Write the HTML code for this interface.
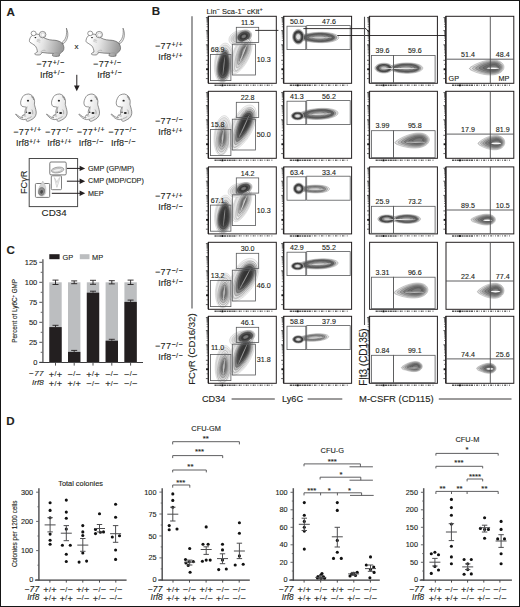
<!DOCTYPE html><html><head><meta charset="utf-8"><style>html,body{margin:0;padding:0;background:#fff;width:520px;height:607px;overflow:hidden}svg{display:block;font-family:"Liberation Sans",sans-serif}text{stroke:#231f20;stroke-width:0.12px;paint-order:stroke}</style></head><body><svg width="520" height="607" viewBox="0 0 520 607" fill="#231f20"><path d="M221.71,82.89 L220.14,82.42 L218.67,81.36 L217.36,79.74 L216.25,77.61 L215.37,75.04 L214.74,72.1 L214.39,68.89 L214.33,65.5 L214.55,62.03 L215.05,58.59 L215.82,55.28 L216.84,52.21 L218.06,49.47 L219.46,47.14 L220.99,45.29 L222.6,43.98 L224.25,43.24 L225.89,43.11 L227.46,43.58 L228.93,44.64 L230.24,46.26 L231.35,48.39 L232.23,50.96 L232.86,53.9 L233.21,57.11 L233.27,60.5 L233.05,63.97 L232.55,67.41 L231.78,70.72 L230.76,73.79 L229.54,76.53 L228.14,78.86 L226.61,80.71 L225,82.02 L223.35,82.76Z" fill="#f3f3f3" stroke="#333" stroke-width="0.4" stroke-opacity="0.3"/>
<path d="M221.92,80.9 L220.5,80.48 L219.18,79.52 L218.01,78.07 L217.01,76.15 L216.21,73.84 L215.65,71.19 L215.33,68.3 L215.28,65.25 L215.48,62.13 L215.93,59.03 L216.62,56.06 L217.53,53.29 L218.63,50.82 L219.89,48.72 L221.27,47.06 L222.72,45.88 L224.21,45.22 L225.68,45.1 L227.1,45.52 L228.42,46.48 L229.59,47.93 L230.59,49.85 L231.39,52.16 L231.95,54.81 L232.27,57.7 L232.32,60.75 L232.12,63.87 L231.67,66.97 L230.98,69.94 L230.07,72.71 L228.97,75.18 L227.71,77.28 L226.33,78.94 L224.88,80.12 L223.39,80.78Z" fill="#e2e2e2" stroke="#333" stroke-width="0.4" stroke-opacity="0.3"/>
<path d="M248.49,36.46 L249.89,37.35 L251,38.77 L251.79,40.68 L252.21,43.01 L252.26,45.68 L251.93,48.63 L251.22,51.75 L250.17,54.96 L248.82,58.16 L247.21,61.26 L245.42,64.16 L243.52,66.8 L241.56,69.09 L239.64,70.98 L237.82,72.39 L236.15,73.31 L234.7,73.7 L233.51,73.54 L232.54,72.82 L231.77,71.54 L231.21,69.72 L230.88,67.44 L230.8,64.75 L230.99,61.74 L231.45,58.52 L232.18,55.18 L233.18,51.84 L234.43,48.6 L235.9,45.56 L237.57,42.83 L239.37,40.48 L241.26,38.58 L243.19,37.2 L245.08,36.38 L246.87,36.13Z" fill="#f3f3f3" stroke="#333" stroke-width="0.4" stroke-opacity="0.3"/>
<path d="M247.74,38.31 L249,39.11 L250,40.39 L250.71,42.11 L251.09,44.21 L251.14,46.62 L250.83,49.27 L250.2,52.08 L249.25,54.96 L248.04,57.84 L246.59,60.63 L244.98,63.25 L243.26,65.62 L241.51,67.68 L239.78,69.38 L238.13,70.66 L236.64,71.48 L235.33,71.83 L234.26,71.69 L233.39,71.04 L232.69,69.89 L232.19,68.25 L231.89,66.19 L231.82,63.77 L231.99,61.07 L232.41,58.17 L233.07,55.17 L233.96,52.16 L235.09,49.24 L236.41,46.51 L237.91,44.04 L239.53,41.93 L241.24,40.22 L242.97,38.98 L244.67,38.24 L246.28,38.02Z" fill="#e2e2e2" stroke="#333" stroke-width="0.4" stroke-opacity="0.3"/>
<path d="M248.38,34.41 L248.65,35.61 L248.63,36.87 L248.3,38.17 L247.68,39.46 L246.8,40.7 L245.67,41.85 L244.33,42.89 L242.82,43.77 L241.19,44.48 L239.49,44.98 L237.77,45.27 L236.08,45.34 L234.47,45.18 L233,44.8 L231.7,44.21 L230.61,43.43 L229.78,42.48 L229.22,41.39 L228.95,40.19 L228.97,38.93 L229.3,37.63 L229.92,36.34 L230.8,35.1 L231.93,33.95 L233.27,32.91 L234.78,32.03 L236.41,31.32 L238.11,30.82 L239.83,30.53 L241.52,30.46 L243.13,30.62 L244.6,31 L245.9,31.59 L246.99,32.37 L247.82,33.32Z" fill="#f0f0f0" stroke="#333" stroke-width="0.4" stroke-opacity="0.35"/>
<path d="M246.47,35.11 L246.68,36.07 L246.66,37.08 L246.4,38.11 L245.91,39.14 L245.2,40.14 L244.29,41.06 L243.22,41.89 L242.02,42.6 L240.72,43.16 L239.35,43.57 L237.98,43.8 L236.62,43.85 L235.34,43.73 L234.16,43.42 L233.12,42.95 L232.25,42.32 L231.58,41.56 L231.13,40.69 L230.92,39.73 L230.94,38.72 L231.2,37.69 L231.69,36.66 L232.4,35.66 L233.31,34.74 L234.38,33.91 L235.58,33.2 L236.88,32.64 L238.25,32.23 L239.62,32 L240.98,31.95 L242.26,32.07 L243.44,32.38 L244.48,32.85 L245.35,33.48 L246.02,34.24Z" fill="#dcdcdc" stroke="#333" stroke-width="0.4" stroke-opacity="0.35"/>
<path d="M244.55,35.81 L244.71,36.52 L244.7,37.28 L244.5,38.06 L244.13,38.83 L243.6,39.58 L242.92,40.27 L242.12,40.89 L241.21,41.42 L240.24,41.85 L239.22,42.15 L238.18,42.32 L237.17,42.36 L236.2,42.27 L235.32,42.04 L234.54,41.69 L233.89,41.22 L233.39,40.65 L233.05,39.99 L232.89,39.28 L232.9,38.52 L233.1,37.74 L233.47,36.97 L234,36.22 L234.68,35.53 L235.48,34.91 L236.39,34.38 L237.36,33.95 L238.38,33.65 L239.42,33.48 L240.43,33.44 L241.4,33.53 L242.28,33.76 L243.06,34.11 L243.71,34.58 L244.21,35.15Z" fill="#cfcfcf" stroke="#333" stroke-width="0.4" stroke-opacity="0.35"/>
<path d="M251.23,32.93 L251.56,33.93 L251.65,35 L251.5,36.12 L251.12,37.24 L250.52,38.34 L249.71,39.38 L248.72,40.32 L247.59,41.15 L246.34,41.84 L245.01,42.36 L243.64,42.7 L242.28,42.84 L240.97,42.79 L239.74,42.55 L238.63,42.12 L237.68,41.52 L236.92,40.76 L236.37,39.87 L236.04,38.87 L235.95,37.8 L236.1,36.68 L236.48,35.56 L237.08,34.46 L237.89,33.42 L238.88,32.48 L240.01,31.65 L241.26,30.96 L242.59,30.44 L243.96,30.1 L245.32,29.96 L246.63,30.01 L247.86,30.25 L248.97,30.68 L249.92,31.28 L250.68,32.04Z" fill="#e4e4e4" stroke="#333" stroke-width="0.4" stroke-opacity="0.6"/>
<path d="M250.49,33.28 L250.78,34.18 L250.87,35.14 L250.73,36.15 L250.39,37.16 L249.85,38.14 L249.12,39.08 L248.23,39.93 L247.21,40.68 L246.08,41.29 L244.89,41.76 L243.66,42.07 L242.43,42.2 L241.25,42.15 L240.14,41.94 L239.15,41.55 L238.3,41 L237.61,40.32 L237.11,39.52 L236.82,38.62 L236.73,37.66 L236.87,36.65 L237.21,35.64 L237.75,34.66 L238.48,33.72 L239.37,32.87 L240.39,32.12 L241.52,31.51 L242.71,31.04 L243.94,30.73 L245.17,30.6 L246.35,30.65 L247.46,30.86 L248.45,31.25 L249.3,31.8 L249.99,32.48Z" fill="#b5b5b5" stroke="#333" stroke-width="0.4" stroke-opacity="0.6"/>
<path d="M249.6,33.7 L249.85,34.47 L249.92,35.31 L249.81,36.18 L249.51,37.06 L249.04,37.91 L248.41,38.72 L247.64,39.46 L246.75,40.11 L245.78,40.64 L244.74,41.05 L243.68,41.31 L242.61,41.42 L241.59,41.39 L240.63,41.2 L239.77,40.86 L239.03,40.39 L238.43,39.8 L238,39.1 L237.75,38.33 L237.68,37.49 L237.79,36.62 L238.09,35.74 L238.56,34.89 L239.19,34.08 L239.96,33.34 L240.85,32.69 L241.82,32.16 L242.86,31.75 L243.92,31.49 L244.99,31.38 L246.01,31.41 L246.97,31.6 L247.83,31.94 L248.57,32.41 L249.17,33Z" fill="#7a7a7a" stroke="#333" stroke-width="0.4" stroke-opacity="0.6"/>
<path d="M248.56,34.18 L248.77,34.82 L248.82,35.51 L248.73,36.22 L248.49,36.94 L248.1,37.64 L247.58,38.31 L246.95,38.91 L246.22,39.44 L245.42,39.88 L244.57,40.21 L243.7,40.43 L242.83,40.52 L241.99,40.49 L241.2,40.34 L240.49,40.06 L239.89,39.67 L239.4,39.19 L239.04,38.62 L238.83,37.98 L238.78,37.29 L238.87,36.58 L239.11,35.86 L239.5,35.16 L240.02,34.49 L240.65,33.89 L241.38,33.36 L242.18,32.92 L243.03,32.59 L243.9,32.37 L244.77,32.28 L245.61,32.31 L246.4,32.46 L247.11,32.74 L247.71,33.13 L248.2,33.61Z" fill="#4f4f4f" stroke="#333" stroke-width="0.4" stroke-opacity="0.6"/>
<path d="M247.37,34.74 L247.52,35.22 L247.57,35.73 L247.5,36.26 L247.32,36.8 L247.03,37.33 L246.64,37.83 L246.16,38.28 L245.62,38.68 L245.02,39.01 L244.38,39.26 L243.72,39.42 L243.07,39.49 L242.44,39.47 L241.85,39.35 L241.32,39.15 L240.86,38.86 L240.5,38.49 L240.23,38.06 L240.08,37.58 L240.03,37.07 L240.1,36.54 L240.28,36 L240.57,35.47 L240.96,34.97 L241.44,34.52 L241.98,34.12 L242.58,33.79 L243.22,33.54 L243.88,33.38 L244.53,33.31 L245.16,33.33 L245.75,33.45 L246.28,33.65 L246.74,33.94 L247.1,34.31Z" fill="#3b3b3b" stroke="#333" stroke-width="0.4" stroke-opacity="0.6"/>
<path d="M246.03,35.36 L246.13,35.66 L246.16,35.98 L246.11,36.32 L246,36.65 L245.82,36.98 L245.57,37.29 L245.28,37.58 L244.94,37.83 L244.56,38.03 L244.16,38.19 L243.75,38.29 L243.34,38.33 L242.95,38.32 L242.58,38.25 L242.25,38.12 L241.97,37.93 L241.74,37.71 L241.57,37.44 L241.47,37.14 L241.44,36.82 L241.49,36.48 L241.6,36.15 L241.78,35.82 L242.03,35.51 L242.32,35.22 L242.66,34.97 L243.04,34.77 L243.44,34.61 L243.85,34.51 L244.26,34.47 L244.65,34.48 L245.02,34.55 L245.35,34.68 L245.63,34.87 L245.86,35.09Z" fill="#333" stroke="#333" stroke-width="0.4" stroke-opacity="0.6"/>
<path d="M248.37,39.24 L249.31,39.9 L250.02,41.01 L250.45,42.54 L250.59,44.43 L250.43,46.62 L249.97,49.05 L249.21,51.64 L248.2,54.32 L246.98,57.01 L245.58,59.63 L244.09,62.11 L242.54,64.39 L241.02,66.39 L239.58,68.07 L238.28,69.38 L237.17,70.28 L236.28,70.74 L235.63,70.76 L235.18,70.3 L234.86,69.35 L234.69,67.93 L234.66,66.08 L234.79,63.87 L235.09,61.38 L235.56,58.67 L236.2,55.84 L237.02,52.99 L238.01,50.2 L239.14,47.57 L240.4,45.19 L241.76,43.12 L243.16,41.42 L244.58,40.16 L245.95,39.37 L247.23,39.06Z" fill="#eeeeee" stroke="#333" stroke-width="0.4" stroke-opacity="0.6"/>
<path d="M247.74,40.78 L248.55,41.35 L249.16,42.31 L249.54,43.62 L249.66,45.24 L249.52,47.13 L249.12,49.22 L248.47,51.45 L247.6,53.76 L246.55,56.07 L245.35,58.32 L244.06,60.46 L242.73,62.41 L241.42,64.13 L240.19,65.58 L239.07,66.7 L238.11,67.48 L237.35,67.88 L236.79,67.89 L236.4,67.5 L236.13,66.68 L235.98,65.45 L235.96,63.87 L236.07,61.97 L236.32,59.82 L236.73,57.49 L237.28,55.06 L237.99,52.61 L238.84,50.21 L239.81,47.95 L240.89,45.9 L242.06,44.12 L243.27,42.66 L244.48,41.58 L245.67,40.89 L246.77,40.63Z" fill="#d4d4d4" stroke="#333" stroke-width="0.4" stroke-opacity="0.6"/>
<path d="M247.03,42.55 L247.69,43.01 L248.18,43.79 L248.49,44.86 L248.59,46.18 L248.47,47.72 L248.15,49.42 L247.62,51.23 L246.92,53.11 L246.06,54.99 L245.08,56.82 L244.03,58.56 L242.95,60.15 L241.89,61.55 L240.88,62.73 L239.97,63.64 L239.19,64.27 L238.57,64.6 L238.12,64.61 L237.8,64.29 L237.58,63.62 L237.46,62.63 L237.44,61.34 L237.53,59.79 L237.74,58.04 L238.06,56.15 L238.52,54.17 L239.09,52.17 L239.78,50.22 L240.57,48.38 L241.46,46.71 L242.4,45.26 L243.39,44.08 L244.38,43.2 L245.34,42.64 L246.24,42.42Z" fill="#b0b0b0" stroke="#333" stroke-width="0.4" stroke-opacity="0.6"/>
<path d="M246.32,44.31 L246.83,44.67 L247.21,45.27 L247.44,46.09 L247.52,47.12 L247.43,48.3 L247.18,49.61 L246.77,51.01 L246.23,52.46 L245.57,53.91 L244.81,55.33 L244,56.67 L243.17,57.89 L242.35,58.98 L241.57,59.88 L240.87,60.59 L240.27,61.07 L239.79,61.33 L239.44,61.34 L239.2,61.09 L239.03,60.57 L238.93,59.8 L238.92,58.81 L238.99,57.62 L239.15,56.27 L239.4,54.81 L239.75,53.28 L240.19,51.74 L240.72,50.23 L241.34,48.82 L242.02,47.53 L242.75,46.41 L243.51,45.49 L244.27,44.81 L245.01,44.38 L245.7,44.22Z" fill="#8e8e8e" stroke="#333" stroke-width="0.4" stroke-opacity="0.6"/>
<path d="M245.6,46.08 L245.96,46.33 L246.23,46.75 L246.4,47.33 L246.45,48.05 L246.39,48.88 L246.21,49.81 L245.93,50.79 L245.54,51.81 L245.08,52.83 L244.55,53.83 L243.98,54.77 L243.39,55.64 L242.81,56.4 L242.27,57.03 L241.77,57.53 L241.35,57.87 L241.01,58.05 L240.76,58.06 L240.59,57.88 L240.47,57.52 L240.41,56.98 L240.4,56.28 L240.45,55.44 L240.56,54.49 L240.74,53.46 L240.98,52.39 L241.29,51.3 L241.67,50.25 L242.1,49.25 L242.58,48.34 L243.09,47.55 L243.63,46.91 L244.16,46.43 L244.69,46.13 L245.17,46.01Z" fill="#777" stroke="#333" stroke-width="0.4" stroke-opacity="0.6"/>
<path d="M244.89,47.84 L245.1,47.99 L245.25,48.23 L245.35,48.57 L245.38,48.99 L245.35,49.47 L245.24,50 L245.08,50.57 L244.85,51.16 L244.58,51.75 L244.28,52.33 L243.95,52.88 L243.61,53.38 L243.27,53.82 L242.96,54.19 L242.67,54.47 L242.43,54.67 L242.23,54.78 L242.09,54.78 L241.99,54.68 L241.92,54.47 L241.88,54.16 L241.88,53.75 L241.9,53.26 L241.97,52.71 L242.07,52.12 L242.22,51.5 L242.4,50.87 L242.61,50.26 L242.86,49.68 L243.14,49.15 L243.44,48.7 L243.75,48.33 L244.06,48.05 L244.36,47.87 L244.64,47.8Z" fill="#999" stroke="#333" stroke-width="0.4" stroke-opacity="0.6"/>
<ellipse cx="243" cy="54" rx="10.2" ry="0.5" transform="rotate(-68 243 54)" fill="#d0d0d0"/>
<path d="M249.37,33.8 L249.6,34.5 L249.64,35.26 L249.51,36.05 L249.21,36.86 L248.74,37.65 L248.12,38.4 L247.37,39.09 L246.52,39.7 L245.57,40.21 L244.58,40.6 L243.56,40.87 L242.55,41 L241.58,40.99 L240.67,40.84 L239.86,40.55 L239.17,40.14 L238.62,39.62 L238.23,39 L238,38.3 L237.96,37.54 L238.09,36.75 L238.39,35.94 L238.86,35.15 L239.48,34.4 L240.23,33.71 L241.08,33.1 L242.03,32.59 L243.02,32.2 L244.04,31.93 L245.05,31.8 L246.02,31.81 L246.93,31.96 L247.74,32.25 L248.43,32.66 L248.98,33.18Z" fill="#555" stroke="#333" stroke-width="0.4" stroke-opacity="0.6"/>
<path d="M247.7,34.58 L247.86,35.07 L247.89,35.6 L247.8,36.16 L247.59,36.72 L247.26,37.27 L246.83,37.8 L246.3,38.28 L245.7,38.71 L245.04,39.06 L244.35,39.34 L243.63,39.53 L242.93,39.62 L242.24,39.61 L241.61,39.51 L241.04,39.31 L240.56,39.02 L240.17,38.65 L239.9,38.22 L239.74,37.73 L239.71,37.2 L239.8,36.64 L240.01,36.08 L240.34,35.53 L240.77,35 L241.3,34.52 L241.9,34.09 L242.56,33.74 L243.25,33.46 L243.97,33.27 L244.67,33.18 L245.36,33.19 L245.99,33.29 L246.56,33.49 L247.04,33.78 L247.43,34.15Z" fill="#3a3a3a" stroke="#333" stroke-width="0.4" stroke-opacity="0.6"/>
<path d="M246.03,35.36 L246.12,35.64 L246.14,35.94 L246.09,36.26 L245.96,36.58 L245.78,36.9 L245.53,37.2 L245.23,37.48 L244.89,37.72 L244.51,37.92 L244.11,38.08 L243.7,38.19 L243.3,38.24 L242.91,38.23 L242.55,38.18 L242.22,38.06 L241.95,37.9 L241.73,37.69 L241.57,37.44 L241.48,37.16 L241.46,36.86 L241.51,36.54 L241.64,36.22 L241.82,35.9 L242.07,35.6 L242.37,35.32 L242.71,35.08 L243.09,34.88 L243.49,34.72 L243.9,34.61 L244.3,34.56 L244.69,34.57 L245.05,34.62 L245.38,34.74 L245.65,34.9 L245.87,35.11Z" fill="#777" stroke="#333" stroke-width="0.4" stroke-opacity="0.6"/>
<path d="M222.02,81.91 L220.73,81.51 L219.55,80.62 L218.52,79.25 L217.68,77.45 L217.07,75.28 L216.7,72.8 L216.59,70.09 L216.73,67.23 L217.11,64.3 L217.71,61.39 L218.49,58.6 L219.41,55.99 L220.44,53.66 L221.52,51.67 L222.61,50.07 L223.67,48.92 L224.67,48.26 L225.58,48.09 L226.43,48.44 L227.27,49.3 L228.07,50.65 L228.8,52.43 L229.45,54.61 L229.96,57.1 L230.33,59.84 L230.51,62.74 L230.49,65.7 L230.25,68.65 L229.79,71.48 L229.12,74.11 L228.25,76.45 L227.2,78.45 L226,80.03 L224.71,81.16 L223.37,81.79Z" fill="#d2d2d2" stroke="#333" stroke-width="0.4" stroke-opacity="0.6"/>
<path d="M222.2,80.22 L221.04,79.86 L219.98,79.05 L219.05,77.82 L218.29,76.21 L217.74,74.25 L217.41,72.02 L217.31,69.58 L217.44,67 L217.78,64.37 L218.32,61.75 L219.02,59.24 L219.85,56.89 L220.77,54.79 L221.75,53 L222.73,51.56 L223.68,50.53 L224.58,49.93 L225.4,49.78 L226.17,50.1 L226.92,50.87 L227.64,52.08 L228.3,53.69 L228.88,55.65 L229.35,57.89 L229.67,60.36 L229.84,62.96 L229.82,65.63 L229.61,68.28 L229.19,70.83 L228.59,73.2 L227.8,75.31 L226.86,77.11 L225.78,78.53 L224.62,79.54 L223.41,80.11Z" fill="#8a8a8a" stroke="#333" stroke-width="0.4" stroke-opacity="0.6"/>
<path d="M222.41,78.19 L221.41,77.88 L220.49,77.18 L219.68,76.11 L219.03,74.71 L218.55,73.02 L218.26,71.08 L218.18,68.97 L218.29,66.74 L218.58,64.45 L219.05,62.19 L219.66,60 L220.38,57.97 L221.18,56.15 L222.02,54.6 L222.87,53.36 L223.7,52.46 L224.48,51.94 L225.19,51.81 L225.85,52.09 L226.51,52.76 L227.13,53.8 L227.7,55.2 L228.2,56.89 L228.61,58.84 L228.89,60.97 L229.03,63.23 L229.02,65.55 L228.83,67.84 L228.47,70.05 L227.95,72.1 L227.27,73.93 L226.45,75.49 L225.52,76.73 L224.51,77.6 L223.46,78.09Z" fill="#555" stroke="#333" stroke-width="0.4" stroke-opacity="0.6"/>
<path d="M222.7,75.48 L221.9,75.24 L221.17,74.68 L220.53,73.83 L220.01,72.72 L219.63,71.37 L219.4,69.84 L219.33,68.15 L219.42,66.38 L219.65,64.56 L220.02,62.76 L220.51,61.03 L221.08,59.42 L221.72,57.97 L222.39,56.73 L223.06,55.74 L223.72,55.03 L224.34,54.62 L224.9,54.52 L225.43,54.73 L225.95,55.27 L226.45,56.1 L226.9,57.21 L227.3,58.56 L227.62,60.1 L227.85,61.8 L227.96,63.6 L227.95,65.44 L227.8,67.26 L227.52,69.02 L227.1,70.65 L226.56,72.1 L225.9,73.34 L225.17,74.32 L224.36,75.02 L223.53,75.41Z" fill="#404040" stroke="#333" stroke-width="0.4" stroke-opacity="0.6"/>
<path d="M223,72.61 L222.42,72.43 L221.89,72.03 L221.42,71.41 L221.05,70.6 L220.77,69.63 L220.61,68.51 L220.56,67.29 L220.62,66 L220.79,64.68 L221.06,63.38 L221.41,62.12 L221.83,60.95 L222.29,59.9 L222.77,59 L223.26,58.28 L223.74,57.77 L224.19,57.47 L224.6,57.39 L224.98,57.55 L225.36,57.94 L225.72,58.54 L226.05,59.34 L226.34,60.32 L226.57,61.45 L226.74,62.68 L226.82,63.98 L226.81,65.32 L226.7,66.64 L226.5,67.91 L226.19,69.1 L225.8,70.15 L225.33,71.05 L224.79,71.77 L224.21,72.27 L223.6,72.55Z" fill="#383838" stroke="#333" stroke-width="0.4" stroke-opacity="0.6"/>
<path d="M223.36,69.23 L223.03,69.13 L222.74,68.9 L222.48,68.56 L222.27,68.11 L222.12,67.57 L222.03,66.95 L222,66.27 L222.03,65.56 L222.13,64.82 L222.28,64.1 L222.47,63.4 L222.7,62.75 L222.96,62.16 L223.23,61.67 L223.5,61.27 L223.77,60.98 L224.02,60.81 L224.24,60.77 L224.46,60.86 L224.67,61.08 L224.87,61.41 L225.05,61.86 L225.21,62.4 L225.34,63.03 L225.43,63.71 L225.48,64.43 L225.47,65.18 L225.41,65.91 L225.3,66.62 L225.13,67.28 L224.91,67.86 L224.65,68.36 L224.35,68.76 L224.03,69.04 L223.69,69.2Z" fill="#3a3a3a" stroke="#333" stroke-width="0.4" stroke-opacity="0.6"/>
<ellipse cx="223.8" cy="66" rx="0.5" ry="9.35" transform="rotate(6 223.8 66)" fill="#8a8a8a"/>
<path d="M220.51,155.39 L219.07,154.93 L217.74,153.89 L216.56,152.28 L215.56,150.17 L214.78,147.6 L214.23,144.68 L213.94,141.47 L213.91,138.08 L214.15,134.61 L214.64,131.17 L215.37,127.86 L216.32,124.79 L217.47,122.03 L218.77,119.69 L220.18,117.83 L221.67,116.51 L223.19,115.76 L224.69,115.61 L226.13,116.07 L227.46,117.11 L228.64,118.72 L229.64,120.83 L230.42,123.4 L230.97,126.32 L231.26,129.53 L231.29,132.92 L231.05,136.39 L230.56,139.83 L229.83,143.14 L228.88,146.21 L227.73,148.97 L226.43,151.31 L225.02,153.17 L223.53,154.49 L222.01,155.24Z" fill="#f3f3f3" stroke="#333" stroke-width="0.4" stroke-opacity="0.3"/>
<path d="M220.72,153.4 L219.43,152.99 L218.23,152.05 L217.17,150.6 L216.27,148.7 L215.56,146.39 L215.07,143.76 L214.81,140.87 L214.78,137.82 L214.99,134.7 L215.43,131.6 L216.09,128.63 L216.95,125.86 L217.98,123.38 L219.15,121.27 L220.43,119.6 L221.77,118.4 L223.13,117.73 L224.48,117.6 L225.77,118.01 L226.97,118.95 L228.03,120.4 L228.93,122.3 L229.64,124.61 L230.13,127.24 L230.39,130.13 L230.42,133.18 L230.21,136.3 L229.77,139.4 L229.11,142.37 L228.25,145.14 L227.22,147.62 L226.05,149.73 L224.77,151.4 L223.43,152.6 L222.07,153.27Z" fill="#e2e2e2" stroke="#333" stroke-width="0.4" stroke-opacity="0.3"/>
<path d="M252.35,105.5 L254.04,106.69 L255.34,108.52 L256.21,110.91 L256.61,113.8 L256.51,117.09 L255.93,120.68 L254.88,124.46 L253.39,128.32 L251.53,132.14 L249.36,135.83 L246.97,139.27 L244.46,142.36 L241.9,145.03 L239.41,147.2 L237.06,148.81 L234.94,149.81 L233.12,150.18 L231.65,149.9 L230.48,148.95 L229.6,147.32 L229,145.05 L228.73,142.22 L228.79,138.91 L229.19,135.24 L229.94,131.32 L231.04,127.28 L232.47,123.26 L234.21,119.37 L236.21,115.75 L238.42,112.52 L240.8,109.76 L243.26,107.58 L245.73,106.03 L248.12,105.15 L250.36,104.97Z" fill="#f3f3f3" stroke="#333" stroke-width="0.4" stroke-opacity="0.3"/>
<path d="M251.32,107.72 L252.83,108.79 L254.01,110.44 L254.79,112.59 L255.15,115.19 L255.06,118.15 L254.54,121.38 L253.59,124.78 L252.25,128.26 L250.58,131.7 L248.63,135.01 L246.48,138.11 L244.21,140.9 L241.91,143.3 L239.67,145.25 L237.56,146.7 L235.65,147.6 L234.01,147.93 L232.68,147.68 L231.64,146.83 L230.84,145.36 L230.3,143.32 L230.06,140.77 L230.11,137.79 L230.47,134.49 L231.15,130.96 L232.14,127.33 L233.42,123.7 L234.98,120.2 L236.79,116.95 L238.78,114.03 L240.92,111.56 L243.13,109.59 L245.35,108.19 L247.51,107.41 L249.52,107.25Z" fill="#e2e2e2" stroke="#333" stroke-width="0.4" stroke-opacity="0.3"/>
<path d="M252.09,108.21 L253.35,109.16 L254.28,110.67 L254.84,112.67 L254.98,115.11 L254.7,117.91 L254,120.97 L252.91,124.21 L251.46,127.53 L249.72,130.83 L247.76,134.04 L245.65,137.05 L243.49,139.79 L241.37,142.19 L239.36,144.18 L237.56,145.71 L236.02,146.74 L234.79,147.24 L233.91,147.19 L233.31,146.54 L232.91,145.29 L232.71,143.44 L232.72,141.08 L232.95,138.26 L233.42,135.1 L234.13,131.68 L235.09,128.13 L236.28,124.57 L237.69,121.11 L239.31,117.86 L241.09,114.95 L242.98,112.44 L244.94,110.43 L246.9,108.98 L248.79,108.11 L250.55,107.86Z" fill="#e4e4e4" stroke="#333" stroke-width="0.4" stroke-opacity="0.6"/>
<path d="M251.45,109.58 L252.59,110.43 L253.43,111.79 L253.92,113.59 L254.05,115.79 L253.8,118.3 L253.17,121.06 L252.19,123.97 L250.89,126.96 L249.32,129.94 L247.55,132.82 L245.66,135.53 L243.71,138 L241.8,140.15 L240,141.94 L238.37,143.32 L236.99,144.25 L235.89,144.7 L235.09,144.65 L234.55,144.08 L234.19,142.94 L234.01,141.29 L234.02,139.16 L234.23,136.62 L234.65,133.77 L235.29,130.7 L236.15,127.5 L237.22,124.29 L238.5,121.18 L239.95,118.26 L241.55,115.64 L243.26,113.38 L245.02,111.58 L246.78,110.26 L248.49,109.48 L250.06,109.26Z" fill="#b5b5b5" stroke="#333" stroke-width="0.4" stroke-opacity="0.6"/>
<path d="M250.69,111.22 L251.67,111.96 L252.4,113.13 L252.83,114.69 L252.94,116.6 L252.73,118.78 L252.18,121.16 L251.33,123.69 L250.2,126.28 L248.84,128.86 L247.31,131.36 L245.67,133.71 L243.98,135.84 L242.32,137.71 L240.76,139.26 L239.35,140.46 L238.15,141.26 L237.2,141.65 L236.51,141.61 L236.04,141.11 L235.73,140.13 L235.57,138.69 L235.58,136.85 L235.76,134.65 L236.13,132.18 L236.68,129.52 L237.43,126.75 L238.36,123.97 L239.46,121.27 L240.72,118.74 L242.11,116.47 L243.59,114.51 L245.11,112.95 L246.64,111.81 L248.12,111.13 L249.48,110.94Z" fill="#7a7a7a" stroke="#333" stroke-width="0.4" stroke-opacity="0.6"/>
<path d="M249.8,113.12 L250.61,113.73 L251.2,114.7 L251.56,115.98 L251.65,117.54 L251.47,119.33 L251.02,121.29 L250.32,123.36 L249.4,125.48 L248.28,127.6 L247.03,129.65 L245.68,131.58 L244.3,133.33 L242.93,134.87 L241.65,136.14 L240.5,137.12 L239.51,137.78 L238.73,138.1 L238.17,138.07 L237.78,137.66 L237.52,136.85 L237.39,135.67 L237.4,134.16 L237.55,132.36 L237.85,130.33 L238.31,128.14 L238.92,125.87 L239.68,123.59 L240.59,121.38 L241.62,119.3 L242.76,117.43 L243.97,115.83 L245.22,114.54 L246.48,113.61 L247.69,113.06 L248.81,112.9Z" fill="#4f4f4f" stroke="#333" stroke-width="0.4" stroke-opacity="0.6"/>
<path d="M248.78,115.31 L249.39,115.76 L249.83,116.49 L250.1,117.45 L250.17,118.62 L250.03,119.96 L249.7,121.43 L249.17,122.98 L248.48,124.58 L247.64,126.16 L246.7,127.7 L245.69,129.15 L244.65,130.46 L243.63,131.61 L242.67,132.57 L241.8,133.3 L241.07,133.8 L240.48,134.04 L240.06,134.01 L239.77,133.71 L239.57,133.1 L239.48,132.22 L239.48,131.08 L239.6,129.73 L239.82,128.21 L240.16,126.57 L240.62,124.87 L241.19,123.16 L241.87,121.5 L242.64,119.94 L243.5,118.54 L244.41,117.34 L245.35,116.37 L246.29,115.67 L247.2,115.26 L248.04,115.14Z" fill="#3b3b3b" stroke="#333" stroke-width="0.4" stroke-opacity="0.6"/>
<path d="M247.63,117.76 L248.01,118.05 L248.29,118.5 L248.46,119.1 L248.5,119.83 L248.42,120.67 L248.21,121.59 L247.88,122.56 L247.45,123.56 L246.92,124.55 L246.34,125.51 L245.7,126.41 L245.06,127.23 L244.42,127.95 L243.82,128.55 L243.27,129.01 L242.81,129.32 L242.45,129.47 L242.18,129.45 L242,129.26 L241.88,128.88 L241.82,128.33 L241.82,127.62 L241.89,126.78 L242.04,125.83 L242.25,124.8 L242.53,123.74 L242.89,122.67 L243.32,121.63 L243.8,120.66 L244.33,119.78 L244.9,119.03 L245.49,118.43 L246.08,117.99 L246.65,117.73 L247.17,117.65Z" fill="#333" stroke="#333" stroke-width="0.4" stroke-opacity="0.6"/>
<ellipse cx="244" cy="126.7" rx="12.9" ry="0.5" transform="rotate(-65 244 126.7)" fill="#9a9a9a"/>
<path d="M220.82,154.41 L219.69,154.03 L218.65,153.15 L217.76,151.79 L217.04,150.01 L216.53,147.85 L216.23,145.38 L216.17,142.67 L216.33,139.81 L216.7,136.88 L217.26,133.97 L217.99,131.17 L218.83,128.56 L219.77,126.21 L220.75,124.21 L221.73,122.61 L222.68,121.45 L223.57,120.77 L224.38,120.59 L225.13,120.93 L225.86,121.78 L226.55,123.11 L227.18,124.89 L227.72,127.05 L228.14,129.54 L228.43,132.27 L228.55,135.16 L228.5,138.12 L228.26,141.06 L227.82,143.89 L227.19,146.53 L226.39,148.89 L225.44,150.89 L224.36,152.49 L223.21,153.63 L222.01,154.27Z" fill="#eeeeee" stroke="#333" stroke-width="0.4" stroke-opacity="0.6"/>
<path d="M221.07,152.04 L220.1,151.71 L219.21,150.96 L218.44,149.79 L217.82,148.26 L217.38,146.4 L217.12,144.27 L217.07,141.95 L217.21,139.49 L217.53,136.97 L218.01,134.46 L218.63,132.06 L219.36,129.81 L220.16,127.79 L221.01,126.07 L221.85,124.69 L222.67,123.69 L223.44,123.11 L224.13,122.96 L224.77,123.25 L225.4,123.98 L225.99,125.13 L226.53,126.65 L227,128.51 L227.37,130.65 L227.61,133 L227.72,135.49 L227.67,138.03 L227.46,140.56 L227.09,143 L226.55,145.27 L225.86,147.29 L225.04,149.02 L224.12,150.39 L223.12,151.37 L222.09,151.92Z" fill="#d4d4d4" stroke="#333" stroke-width="0.4" stroke-opacity="0.6"/>
<path d="M221.36,149.33 L220.56,149.07 L219.84,148.45 L219.21,147.51 L218.71,146.26 L218.35,144.74 L218.14,143.01 L218.1,141.12 L218.21,139.12 L218.47,137.07 L218.86,135.03 L219.37,133.07 L219.96,131.24 L220.62,129.6 L221.3,128.2 L221.99,127.07 L222.66,126.26 L223.28,125.79 L223.84,125.67 L224.37,125.9 L224.88,126.5 L225.36,127.43 L225.8,128.67 L226.18,130.19 L226.48,131.92 L226.68,133.84 L226.77,135.86 L226.73,137.93 L226.56,139.99 L226.25,141.98 L225.81,143.82 L225.25,145.47 L224.58,146.87 L223.83,147.99 L223.02,148.79 L222.19,149.24Z" fill="#b0b0b0" stroke="#333" stroke-width="0.4" stroke-opacity="0.6"/>
<path d="M221.64,146.63 L221.03,146.43 L220.47,145.95 L219.99,145.22 L219.6,144.26 L219.32,143.09 L219.16,141.75 L219.13,140.29 L219.21,138.75 L219.41,137.17 L219.72,135.59 L220.11,134.08 L220.57,132.67 L221.07,131.41 L221.6,130.32 L222.13,129.46 L222.64,128.83 L223.13,128.46 L223.56,128.37 L223.96,128.55 L224.36,129.01 L224.73,129.73 L225.07,130.69 L225.36,131.86 L225.59,133.2 L225.75,134.67 L225.82,136.24 L225.79,137.83 L225.65,139.42 L225.42,140.95 L225.08,142.38 L224.65,143.65 L224.13,144.73 L223.55,145.59 L222.93,146.21 L222.28,146.56Z" fill="#8e8e8e" stroke="#333" stroke-width="0.4" stroke-opacity="0.6"/>
<path d="M221.92,143.92 L221.49,143.78 L221.1,143.45 L220.76,142.93 L220.49,142.25 L220.29,141.43 L220.18,140.49 L220.16,139.46 L220.22,138.38 L220.36,137.26 L220.57,136.16 L220.85,135.09 L221.17,134.1 L221.52,133.21 L221.9,132.45 L222.27,131.84 L222.63,131.4 L222.97,131.14 L223.28,131.08 L223.56,131.2 L223.84,131.53 L224.1,132.03 L224.34,132.71 L224.54,133.53 L224.71,134.47 L224.82,135.51 L224.86,136.61 L224.84,137.74 L224.75,138.85 L224.58,139.93 L224.34,140.93 L224.04,141.83 L223.68,142.59 L223.27,143.2 L222.83,143.63 L222.38,143.87Z" fill="#777" stroke="#333" stroke-width="0.4" stroke-opacity="0.6"/>
<path d="M222.21,141.22 L221.96,141.14 L221.73,140.94 L221.54,140.64 L221.38,140.25 L221.26,139.78 L221.2,139.23 L221.18,138.64 L221.22,138.01 L221.3,137.36 L221.43,136.72 L221.59,136.11 L221.77,135.53 L221.98,135.02 L222.19,134.58 L222.41,134.22 L222.62,133.97 L222.81,133.82 L222.99,133.78 L223.16,133.85 L223.32,134.04 L223.47,134.33 L223.61,134.73 L223.73,135.2 L223.82,135.75 L223.88,136.35 L223.91,136.98 L223.9,137.64 L223.84,138.28 L223.75,138.91 L223.61,139.49 L223.43,140 L223.22,140.45 L222.99,140.8 L222.73,141.05 L222.47,141.19Z" fill="#999" stroke="#333" stroke-width="0.4" stroke-opacity="0.6"/>
<ellipse cx="222.6" cy="138.5" rx="0.5" ry="9.35" transform="rotate(6 222.6 138.5)" fill="#c8c8c8"/>
<path d="M222.17,233.79 L220.56,233.33 L219.06,232.29 L217.72,230.71 L216.57,228.64 L215.66,226.14 L215,223.29 L214.63,220.17 L214.54,216.87 L214.75,213.51 L215.25,210.17 L216.02,206.97 L217.03,203.99 L218.27,201.34 L219.68,199.08 L221.23,197.29 L222.87,196.03 L224.56,195.33 L226.23,195.21 L227.84,195.67 L229.34,196.71 L230.68,198.29 L231.83,200.36 L232.74,202.86 L233.4,205.71 L233.77,208.83 L233.86,212.13 L233.65,215.49 L233.15,218.83 L232.38,222.03 L231.37,225.01 L230.13,227.66 L228.72,229.92 L227.17,231.71 L225.53,232.97 L223.84,233.67Z" fill="#f3f3f3" stroke="#333" stroke-width="0.4" stroke-opacity="0.3"/>
<path d="M222.37,231.86 L220.93,231.45 L219.58,230.51 L218.37,229.09 L217.34,227.23 L216.51,224.98 L215.92,222.41 L215.59,219.6 L215.51,216.64 L215.7,213.61 L216.14,210.6 L216.83,207.72 L217.75,205.04 L218.86,202.65 L220.13,200.62 L221.53,199.02 L223.01,197.88 L224.52,197.24 L226.03,197.14 L227.47,197.55 L228.82,198.49 L230.03,199.91 L231.06,201.77 L231.89,204.02 L232.48,206.59 L232.81,209.4 L232.89,212.36 L232.7,215.39 L232.26,218.4 L231.57,221.28 L230.65,223.96 L229.54,226.35 L228.27,228.38 L226.87,229.98 L225.39,231.12 L223.88,231.76Z" fill="#e2e2e2" stroke="#333" stroke-width="0.4" stroke-opacity="0.3"/>
<path d="M248.24,188.31 L249.56,189.14 L250.62,190.44 L251.39,192.18 L251.82,194.3 L251.9,196.72 L251.63,199.39 L251.01,202.2 L250.08,205.09 L248.86,207.97 L247.4,210.76 L245.77,213.36 L244.02,215.73 L242.23,217.77 L240.46,219.45 L238.77,220.71 L237.23,221.52 L235.88,221.85 L234.76,221.69 L233.84,221.02 L233.1,219.85 L232.55,218.2 L232.21,216.12 L232.1,213.68 L232.23,210.96 L232.62,208.05 L233.26,205.04 L234.14,202.03 L235.26,199.11 L236.6,196.38 L238.11,193.92 L239.77,191.82 L241.51,190.13 L243.29,188.91 L245.05,188.19 L246.72,187.99Z" fill="#f3f3f3" stroke="#333" stroke-width="0.4" stroke-opacity="0.3"/>
<path d="M247.57,189.98 L248.76,190.72 L249.71,191.9 L250.4,193.46 L250.79,195.37 L250.86,197.55 L250.62,199.95 L250.06,202.48 L249.22,205.08 L248.12,207.68 L246.81,210.18 L245.34,212.53 L243.77,214.65 L242.16,216.5 L240.56,218.01 L239.04,219.14 L237.66,219.87 L236.44,220.16 L235.43,220.02 L234.61,219.42 L233.94,218.36 L233.44,216.88 L233.14,215.01 L233.04,212.81 L233.16,210.37 L233.51,207.75 L234.08,205.04 L234.88,202.32 L235.89,199.7 L237.09,197.24 L238.45,195.03 L239.94,193.14 L241.51,191.62 L243.11,190.52 L244.69,189.87 L246.2,189.69Z" fill="#e2e2e2" stroke="#333" stroke-width="0.4" stroke-opacity="0.3"/>
<path d="M248.93,186.94 L249.11,188.09 L248.97,189.29 L248.51,190.52 L247.75,191.74 L246.72,192.91 L245.44,193.99 L243.95,194.95 L242.29,195.77 L240.53,196.41 L238.71,196.86 L236.88,197.11 L235.11,197.14 L233.44,196.96 L231.93,196.58 L230.62,195.99 L229.55,195.23 L228.76,194.31 L228.27,193.26 L228.09,192.11 L228.23,190.91 L228.69,189.68 L229.45,188.46 L230.48,187.29 L231.76,186.21 L233.25,185.25 L234.91,184.43 L236.67,183.79 L238.49,183.34 L240.32,183.09 L242.09,183.06 L243.76,183.24 L245.27,183.62 L246.58,184.21 L247.65,184.97 L248.44,185.89Z" fill="#f0f0f0" stroke="#333" stroke-width="0.4" stroke-opacity="0.35"/>
<path d="M246.86,187.57 L247.01,188.49 L246.89,189.45 L246.53,190.44 L245.92,191.41 L245.09,192.34 L244.07,193.21 L242.88,193.98 L241.56,194.63 L240.14,195.15 L238.69,195.51 L237.22,195.71 L235.81,195.74 L234.47,195.59 L233.26,195.28 L232.22,194.81 L231.36,194.2 L230.73,193.46 L230.34,192.63 L230.19,191.71 L230.31,190.75 L230.67,189.76 L231.28,188.79 L232.11,187.86 L233.13,186.99 L234.32,186.22 L235.64,185.57 L237.06,185.05 L238.51,184.69 L239.98,184.49 L241.39,184.46 L242.73,184.61 L243.94,184.92 L244.98,185.39 L245.84,186 L246.47,186.74Z" fill="#dcdcdc" stroke="#333" stroke-width="0.4" stroke-opacity="0.35"/>
<path d="M244.8,188.21 L244.9,188.89 L244.82,189.61 L244.55,190.35 L244.09,191.08 L243.47,191.78 L242.7,192.43 L241.81,193.01 L240.82,193.5 L239.76,193.89 L238.66,194.16 L237.57,194.31 L236.5,194.33 L235.5,194.22 L234.6,193.99 L233.81,193.63 L233.17,193.18 L232.7,192.62 L232.4,191.99 L232.3,191.31 L232.38,190.59 L232.65,189.85 L233.11,189.12 L233.73,188.42 L234.5,187.77 L235.39,187.19 L236.38,186.7 L237.44,186.31 L238.54,186.04 L239.63,185.89 L240.7,185.87 L241.7,185.98 L242.6,186.21 L243.39,186.57 L244.03,187.02 L244.5,187.58Z" fill="#cfcfcf" stroke="#333" stroke-width="0.4" stroke-opacity="0.35"/>
<path d="M251.76,185.3 L252,186.26 L251.98,187.28 L251.71,188.34 L251.2,189.41 L250.45,190.46 L249.5,191.45 L248.36,192.35 L247.08,193.14 L245.7,193.79 L244.25,194.29 L242.78,194.61 L241.34,194.74 L239.96,194.7 L238.7,194.46 L237.58,194.05 L236.65,193.47 L235.93,192.75 L235.44,191.9 L235.2,190.94 L235.22,189.92 L235.49,188.86 L236,187.79 L236.75,186.74 L237.7,185.75 L238.84,184.85 L240.12,184.06 L241.5,183.41 L242.95,182.91 L244.42,182.59 L245.86,182.46 L247.24,182.5 L248.5,182.74 L249.62,183.15 L250.55,183.73 L251.27,184.45Z" fill="#e4e4e4" stroke="#333" stroke-width="0.4" stroke-opacity="0.6"/>
<path d="M250.94,185.63 L251.16,186.49 L251.15,187.41 L250.9,188.37 L250.44,189.33 L249.77,190.27 L248.91,191.16 L247.89,191.98 L246.73,192.69 L245.49,193.27 L244.18,193.72 L242.86,194.01 L241.56,194.13 L240.33,194.09 L239.19,193.88 L238.18,193.51 L237.35,192.99 L236.7,192.33 L236.26,191.57 L236.04,190.71 L236.05,189.79 L236.3,188.83 L236.76,187.87 L237.43,186.93 L238.29,186.04 L239.31,185.22 L240.47,184.51 L241.71,183.93 L243.02,183.48 L244.34,183.19 L245.64,183.07 L246.87,183.11 L248.01,183.32 L249.02,183.69 L249.85,184.21 L250.5,184.87Z" fill="#b5b5b5" stroke="#333" stroke-width="0.4" stroke-opacity="0.6"/>
<path d="M249.96,186.03 L250.15,186.77 L250.14,187.57 L249.93,188.4 L249.53,189.23 L248.94,190.05 L248.2,190.82 L247.31,191.53 L246.32,192.14 L245.24,192.65 L244.11,193.03 L242.96,193.29 L241.83,193.39 L240.76,193.36 L239.78,193.17 L238.91,192.85 L238.18,192.4 L237.62,191.84 L237.24,191.17 L237.05,190.43 L237.06,189.63 L237.27,188.8 L237.67,187.97 L238.26,187.15 L239,186.38 L239.89,185.67 L240.88,185.06 L241.96,184.55 L243.09,184.17 L244.24,183.91 L245.37,183.81 L246.44,183.84 L247.42,184.03 L248.29,184.35 L249.02,184.8 L249.58,185.36Z" fill="#7a7a7a" stroke="#333" stroke-width="0.4" stroke-opacity="0.6"/>
<path d="M248.82,186.49 L248.98,187.1 L248.97,187.75 L248.79,188.43 L248.46,189.12 L247.99,189.79 L247.37,190.42 L246.65,191 L245.83,191.51 L244.94,191.92 L244.02,192.24 L243.08,192.44 L242.15,192.53 L241.27,192.5 L240.46,192.35 L239.75,192.09 L239.15,191.72 L238.69,191.25 L238.38,190.71 L238.22,190.1 L238.23,189.45 L238.41,188.77 L238.74,188.08 L239.21,187.41 L239.83,186.78 L240.55,186.2 L241.37,185.69 L242.26,185.28 L243.18,184.96 L244.12,184.76 L245.05,184.67 L245.93,184.7 L246.74,184.85 L247.45,185.11 L248.05,185.48 L248.51,185.95Z" fill="#4f4f4f" stroke="#333" stroke-width="0.4" stroke-opacity="0.6"/>
<path d="M247.52,187.02 L247.63,187.47 L247.62,187.97 L247.5,188.48 L247.25,188.99 L246.89,189.49 L246.43,189.97 L245.89,190.4 L245.27,190.78 L244.61,191.09 L243.91,191.33 L243.21,191.48 L242.51,191.55 L241.85,191.53 L241.25,191.41 L240.71,191.22 L240.26,190.94 L239.92,190.59 L239.68,190.18 L239.57,189.73 L239.58,189.23 L239.7,188.72 L239.95,188.21 L240.31,187.71 L240.77,187.23 L241.31,186.8 L241.93,186.42 L242.59,186.11 L243.29,185.87 L243.99,185.72 L244.69,185.65 L245.35,185.67 L245.95,185.79 L246.49,185.98 L246.94,186.26 L247.28,186.61Z" fill="#3b3b3b" stroke="#333" stroke-width="0.4" stroke-opacity="0.6"/>
<path d="M246.05,187.61 L246.12,187.9 L246.12,188.2 L246.03,188.52 L245.88,188.84 L245.66,189.16 L245.37,189.45 L245.03,189.73 L244.64,189.96 L244.23,190.16 L243.79,190.31 L243.35,190.4 L242.92,190.44 L242.51,190.43 L242.13,190.36 L241.79,190.24 L241.52,190.06 L241.3,189.84 L241.15,189.59 L241.08,189.3 L241.08,189 L241.17,188.68 L241.32,188.36 L241.54,188.04 L241.83,187.75 L242.17,187.47 L242.56,187.24 L242.97,187.04 L243.41,186.89 L243.85,186.8 L244.28,186.76 L244.69,186.77 L245.07,186.84 L245.41,186.96 L245.68,187.14 L245.9,187.36Z" fill="#333" stroke="#333" stroke-width="0.4" stroke-opacity="0.6"/>
<path d="M248.12,191.09 L248.98,191.69 L249.63,192.68 L250.04,194.03 L250.18,195.71 L250.06,197.65 L249.66,199.8 L249,202.09 L248.11,204.46 L247.02,206.83 L245.79,209.14 L244.45,211.32 L243.08,213.32 L241.72,215.08 L240.43,216.56 L239.27,217.7 L238.27,218.49 L237.46,218.9 L236.88,218.91 L236.47,218.5 L236.17,217.65 L236,216.39 L235.96,214.75 L236.06,212.8 L236.3,210.59 L236.7,208.19 L237.26,205.69 L237.98,203.17 L238.84,200.71 L239.84,198.39 L240.96,196.29 L242.17,194.47 L243.43,192.98 L244.7,191.88 L245.93,191.18 L247.09,190.92Z" fill="#eeeeee" stroke="#333" stroke-width="0.4" stroke-opacity="0.6"/>
<path d="M247.57,192.46 L248.31,192.97 L248.87,193.82 L249.22,194.99 L249.34,196.43 L249.23,198.1 L248.89,199.95 L248.33,201.92 L247.56,203.95 L246.63,205.99 L245.56,207.97 L244.42,209.85 L243.23,211.57 L242.06,213.09 L240.96,214.35 L239.95,215.34 L239.09,216.02 L238.41,216.37 L237.9,216.38 L237.55,216.02 L237.3,215.29 L237.15,214.21 L237.11,212.8 L237.2,211.12 L237.41,209.22 L237.75,207.16 L238.23,205.01 L238.85,202.84 L239.59,200.73 L240.45,198.73 L241.41,196.93 L242.45,195.36 L243.53,194.08 L244.62,193.13 L245.69,192.53 L246.68,192.31Z" fill="#d4d4d4" stroke="#333" stroke-width="0.4" stroke-opacity="0.6"/>
<path d="M246.94,194.01 L247.54,194.43 L248,195.12 L248.28,196.07 L248.38,197.25 L248.29,198.61 L248.01,200.11 L247.55,201.71 L246.93,203.37 L246.17,205.03 L245.31,206.64 L244.37,208.17 L243.41,209.57 L242.46,210.81 L241.56,211.84 L240.74,212.64 L240.04,213.19 L239.48,213.48 L239.07,213.48 L238.78,213.19 L238.58,212.6 L238.46,211.72 L238.43,210.57 L238.5,209.21 L238.67,207.66 L238.95,205.98 L239.34,204.23 L239.84,202.47 L240.45,200.75 L241.15,199.12 L241.93,197.65 L242.77,196.38 L243.65,195.34 L244.54,194.56 L245.41,194.08 L246.22,193.89Z" fill="#b0b0b0" stroke="#333" stroke-width="0.4" stroke-opacity="0.6"/>
<path d="M246.31,195.57 L246.77,195.89 L247.12,196.43 L247.35,197.16 L247.42,198.06 L247.36,199.11 L247.14,200.27 L246.78,201.51 L246.3,202.79 L245.72,204.07 L245.05,205.32 L244.33,206.49 L243.59,207.57 L242.85,208.53 L242.16,209.32 L241.53,209.94 L240.99,210.37 L240.56,210.59 L240.24,210.59 L240.02,210.37 L239.86,209.91 L239.77,209.23 L239.74,208.35 L239.8,207.29 L239.93,206.1 L240.14,204.8 L240.45,203.45 L240.83,202.09 L241.3,200.77 L241.84,199.51 L242.45,198.38 L243.1,197.39 L243.78,196.59 L244.46,195.99 L245.13,195.62 L245.75,195.48Z" fill="#8e8e8e" stroke="#333" stroke-width="0.4" stroke-opacity="0.6"/>
<path d="M245.68,197.13 L246.01,197.35 L246.25,197.73 L246.41,198.25 L246.46,198.88 L246.42,199.62 L246.26,200.44 L246.01,201.31 L245.68,202.21 L245.26,203.11 L244.79,203.99 L244.29,204.82 L243.76,205.58 L243.25,206.24 L242.76,206.8 L242.32,207.24 L241.94,207.54 L241.63,207.69 L241.41,207.7 L241.25,207.54 L241.14,207.22 L241.08,206.74 L241.06,206.12 L241.1,205.38 L241.19,204.54 L241.34,203.63 L241.55,202.68 L241.83,201.72 L242.16,200.78 L242.54,199.9 L242.96,199.1 L243.42,198.41 L243.9,197.85 L244.38,197.43 L244.85,197.16 L245.29,197.06Z" fill="#777" stroke="#333" stroke-width="0.4" stroke-opacity="0.6"/>
<path d="M245.05,198.69 L245.24,198.82 L245.38,199.03 L245.47,199.33 L245.5,199.7 L245.48,200.13 L245.39,200.6 L245.24,201.11 L245.05,201.63 L244.81,202.15 L244.54,202.66 L244.24,203.14 L243.94,203.58 L243.64,203.96 L243.36,204.29 L243.1,204.54 L242.88,204.71 L242.71,204.8 L242.58,204.81 L242.49,204.71 L242.42,204.53 L242.39,204.25 L242.38,203.89 L242.4,203.46 L242.45,202.97 L242.54,202.45 L242.66,201.9 L242.82,201.34 L243.01,200.8 L243.23,200.29 L243.48,199.83 L243.74,199.43 L244.02,199.1 L244.3,198.86 L244.57,198.71 L244.82,198.65Z" fill="#999" stroke="#333" stroke-width="0.4" stroke-opacity="0.6"/>
<ellipse cx="243.5" cy="204" rx="9" ry="0.5" transform="rotate(-68 243.5 204)" fill="#d0d0d0"/>
<path d="M249.72,186.13 L249.88,186.8 L249.85,187.52 L249.63,188.28 L249.23,189.04 L248.66,189.8 L247.93,190.51 L247.07,191.17 L246.11,191.75 L245.07,192.23 L243.98,192.61 L242.89,192.86 L241.81,192.98 L240.79,192.97 L239.86,192.83 L239.03,192.56 L238.35,192.17 L237.83,191.67 L237.48,191.07 L237.32,190.4 L237.35,189.68 L237.57,188.92 L237.97,188.16 L238.54,187.4 L239.27,186.69 L240.13,186.03 L241.09,185.45 L242.13,184.97 L243.22,184.59 L244.31,184.34 L245.39,184.22 L246.41,184.23 L247.34,184.37 L248.17,184.64 L248.85,185.03 L249.37,185.53Z" fill="#555" stroke="#333" stroke-width="0.4" stroke-opacity="0.6"/>
<path d="M247.88,186.87 L248,187.34 L247.98,187.84 L247.82,188.37 L247.54,188.91 L247.14,189.44 L246.63,189.94 L246.03,190.4 L245.36,190.81 L244.63,191.14 L243.87,191.41 L243.1,191.58 L242.35,191.67 L241.63,191.66 L240.98,191.56 L240.4,191.37 L239.93,191.1 L239.56,190.75 L239.32,190.33 L239.2,189.86 L239.22,189.36 L239.38,188.83 L239.66,188.29 L240.06,187.76 L240.57,187.26 L241.17,186.8 L241.84,186.39 L242.57,186.06 L243.33,185.79 L244.1,185.62 L244.85,185.53 L245.57,185.54 L246.22,185.64 L246.8,185.83 L247.27,186.1 L247.64,186.45Z" fill="#3a3a3a" stroke="#333" stroke-width="0.4" stroke-opacity="0.6"/>
<path d="M246.05,187.61 L246.11,187.88 L246.1,188.17 L246.01,188.47 L245.85,188.78 L245.62,189.08 L245.33,189.36 L244.99,189.63 L244.6,189.86 L244.19,190.05 L243.75,190.2 L243.31,190.3 L242.88,190.35 L242.48,190.35 L242.1,190.29 L241.77,190.18 L241.5,190.03 L241.29,189.83 L241.15,189.59 L241.09,189.32 L241.1,189.03 L241.19,188.73 L241.35,188.42 L241.58,188.12 L241.87,187.84 L242.21,187.57 L242.6,187.34 L243.01,187.15 L243.45,187 L243.89,186.9 L244.32,186.85 L244.72,186.85 L245.1,186.91 L245.43,187.02 L245.7,187.17 L245.91,187.37Z" fill="#777" stroke="#333" stroke-width="0.4" stroke-opacity="0.6"/>
<path d="M222.49,232.81 L221.16,232.42 L219.93,231.55 L218.86,230.22 L217.99,228.48 L217.35,226.38 L216.95,223.98 L216.82,221.36 L216.94,218.6 L217.32,215.78 L217.91,212.98 L218.69,210.28 L219.63,207.77 L220.67,205.53 L221.76,203.61 L222.88,202.08 L223.96,200.98 L224.98,200.34 L225.91,200.19 L226.8,200.53 L227.66,201.37 L228.49,202.67 L229.26,204.4 L229.94,206.5 L230.49,208.92 L230.88,211.56 L231.08,214.36 L231.08,217.22 L230.86,220.06 L230.41,222.79 L229.73,225.33 L228.85,227.59 L227.78,229.51 L226.57,231.03 L225.24,232.11 L223.87,232.7Z" fill="#d2d2d2" stroke="#333" stroke-width="0.4" stroke-opacity="0.6"/>
<path d="M222.66,231.18 L221.46,230.83 L220.36,230.04 L219.4,228.85 L218.61,227.28 L218.03,225.39 L217.68,223.23 L217.56,220.88 L217.67,218.39 L218.01,215.85 L218.54,213.33 L219.25,210.9 L220.08,208.65 L221.02,206.63 L222.01,204.9 L223.01,203.52 L223.98,202.53 L224.9,201.96 L225.74,201.82 L226.54,202.13 L227.32,202.88 L228.06,204.05 L228.76,205.61 L229.36,207.5 L229.86,209.67 L230.21,212.06 L230.4,214.57 L230.39,217.15 L230.19,219.71 L229.79,222.16 L229.18,224.44 L228.39,226.48 L227.42,228.21 L226.33,229.58 L225.14,230.55 L223.9,231.08Z" fill="#8a8a8a" stroke="#333" stroke-width="0.4" stroke-opacity="0.6"/>
<path d="M222.86,229.22 L221.83,228.92 L220.87,228.24 L220.04,227.2 L219.36,225.84 L218.85,224.21 L218.55,222.34 L218.44,220.29 L218.54,218.14 L218.83,215.94 L219.29,213.75 L219.91,211.65 L220.63,209.69 L221.44,207.94 L222.3,206.45 L223.17,205.25 L224.01,204.39 L224.81,203.9 L225.54,203.78 L226.22,204.05 L226.9,204.7 L227.55,205.71 L228.15,207.06 L228.68,208.7 L229.1,210.58 L229.41,212.65 L229.57,214.83 L229.57,217.06 L229.39,219.28 L229.04,221.41 L228.52,223.38 L227.83,225.15 L226.99,226.65 L226.05,227.83 L225.01,228.67 L223.94,229.14Z" fill="#555" stroke="#333" stroke-width="0.4" stroke-opacity="0.6"/>
<path d="M223.14,226.61 L222.31,226.37 L221.55,225.83 L220.89,225.01 L220.35,223.93 L219.95,222.63 L219.71,221.14 L219.62,219.52 L219.7,217.8 L219.93,216.05 L220.3,214.31 L220.79,212.64 L221.37,211.09 L222.01,209.7 L222.69,208.51 L223.38,207.56 L224.05,206.88 L224.68,206.48 L225.26,206.39 L225.81,206.6 L226.35,207.12 L226.86,207.93 L227.34,209 L227.76,210.3 L228.1,211.8 L228.34,213.44 L228.47,215.17 L228.47,216.95 L228.33,218.71 L228.05,220.4 L227.63,221.97 L227.08,223.37 L226.42,224.57 L225.67,225.51 L224.85,226.18 L223.99,226.55Z" fill="#404040" stroke="#333" stroke-width="0.4" stroke-opacity="0.6"/>
<path d="M223.43,223.84 L222.83,223.66 L222.28,223.27 L221.8,222.67 L221.41,221.89 L221.12,220.95 L220.94,219.87 L220.88,218.69 L220.93,217.45 L221.1,216.17 L221.37,214.91 L221.72,213.7 L222.14,212.57 L222.61,211.56 L223.1,210.7 L223.6,210.01 L224.09,209.52 L224.55,209.23 L224.97,209.16 L225.37,209.31 L225.76,209.69 L226.13,210.28 L226.48,211.05 L226.78,212 L227.03,213.09 L227.21,214.28 L227.3,215.54 L227.3,216.83 L227.2,218.1 L226.99,219.33 L226.69,220.47 L226.29,221.49 L225.81,222.35 L225.26,223.04 L224.67,223.52 L224.05,223.79Z" fill="#383838" stroke="#333" stroke-width="0.4" stroke-opacity="0.6"/>
<path d="M223.77,220.58 L223.44,220.48 L223.13,220.26 L222.87,219.93 L222.65,219.49 L222.49,218.97 L222.39,218.37 L222.35,217.72 L222.39,217.03 L222.48,216.32 L222.63,215.62 L222.82,214.95 L223.06,214.32 L223.32,213.76 L223.59,213.28 L223.87,212.89 L224.14,212.62 L224.4,212.46 L224.63,212.42 L224.85,212.51 L225.07,212.72 L225.27,213.04 L225.47,213.47 L225.63,214 L225.77,214.6 L225.87,215.27 L225.92,215.97 L225.92,216.68 L225.87,217.39 L225.75,218.07 L225.58,218.71 L225.36,219.27 L225.1,219.75 L224.79,220.13 L224.46,220.4 L224.12,220.55Z" fill="#3a3a3a" stroke="#333" stroke-width="0.4" stroke-opacity="0.6"/>
<ellipse cx="224.2" cy="217.5" rx="0.5" ry="9.02" transform="rotate(6 224.2 217.5)" fill="#8a8a8a"/>
<path d="M222.17,307.9 L220.73,307.49 L219.39,306.55 L218.19,305.13 L217.16,303.26 L216.35,301.01 L215.76,298.43 L215.43,295.62 L215.36,292.65 L215.55,289.61 L215.99,286.6 L216.68,283.71 L217.59,281.03 L218.7,278.63 L219.97,276.6 L221.36,274.98 L222.83,273.84 L224.33,273.21 L225.83,273.1 L227.27,273.51 L228.61,274.45 L229.81,275.87 L230.84,277.74 L231.65,279.99 L232.24,282.57 L232.57,285.38 L232.64,288.35 L232.45,291.39 L232.01,294.4 L231.32,297.29 L230.41,299.97 L229.3,302.37 L228.03,304.4 L226.64,306.02 L225.17,307.16 L223.67,307.79Z" fill="#f3f3f3" stroke="#333" stroke-width="0.4" stroke-opacity="0.3"/>
<path d="M222.35,306.16 L221.06,305.79 L219.85,304.95 L218.77,303.67 L217.85,301.99 L217.11,299.96 L216.59,297.64 L216.29,295.11 L216.22,292.43 L216.39,289.7 L216.79,286.99 L217.41,284.39 L218.23,281.98 L219.23,279.82 L220.37,277.99 L221.62,276.53 L222.94,275.51 L224.3,274.94 L225.65,274.84 L226.94,275.21 L228.15,276.05 L229.23,277.33 L230.15,279.01 L230.89,281.04 L231.41,283.36 L231.71,285.89 L231.78,288.57 L231.61,291.3 L231.21,294.01 L230.59,296.61 L229.77,299.02 L228.77,301.18 L227.63,303.01 L226.38,304.47 L225.06,305.49 L223.7,306.06Z" fill="#e2e2e2" stroke="#333" stroke-width="0.4" stroke-opacity="0.3"/>
<path d="M254.03,259.25 L255.89,260.65 L257.35,262.62 L258.34,265.1 L258.81,268.02 L258.76,271.27 L258.17,274.76 L257.07,278.38 L255.5,282.02 L253.51,285.59 L251.19,288.98 L248.62,292.09 L245.9,294.85 L243.14,297.18 L240.44,299.03 L237.89,300.33 L235.58,301.07 L233.59,301.21 L231.97,300.75 L230.68,299.66 L229.68,297.93 L229,295.61 L228.66,292.76 L228.68,289.49 L229.06,285.9 L229.83,282.1 L230.98,278.23 L232.49,274.41 L234.34,270.77 L236.48,267.43 L238.86,264.49 L241.43,262.05 L244.09,260.19 L246.77,258.96 L249.39,258.39 L251.84,258.49Z" fill="#f3f3f3" stroke="#333" stroke-width="0.4" stroke-opacity="0.3"/>
<path d="M252.93,261.33 L254.61,262.58 L255.91,264.36 L256.8,266.59 L257.23,269.22 L257.18,272.14 L256.65,275.28 L255.66,278.54 L254.25,281.82 L252.46,285.03 L250.37,288.08 L248.06,290.88 L245.61,293.37 L243.13,295.46 L240.69,297.12 L238.4,298.3 L236.32,298.96 L234.53,299.09 L233.07,298.67 L231.91,297.69 L231.02,296.14 L230.4,294.05 L230.09,291.49 L230.11,288.54 L230.46,285.31 L231.15,281.89 L232.18,278.41 L233.54,274.97 L235.2,271.69 L237.13,268.69 L239.28,266.04 L241.58,263.85 L243.98,262.17 L246.4,261.06 L248.75,260.55 L250.95,260.64Z" fill="#e2e2e2" stroke="#333" stroke-width="0.4" stroke-opacity="0.3"/>
<path d="M253.62,261.9 L255.1,263.04 L256.21,264.67 L256.91,266.76 L257.16,269.21 L256.95,271.96 L256.26,274.91 L255.14,277.98 L253.61,281.08 L251.75,284.12 L249.64,287.03 L247.35,289.72 L244.99,292.14 L242.67,294.21 L240.46,295.9 L238.46,297.16 L236.75,297.96 L235.38,298.28 L234.38,298.1 L233.67,297.37 L233.16,296.06 L232.87,294.19 L232.8,291.83 L232.96,289.05 L233.38,285.96 L234.07,282.66 L235.02,279.26 L236.25,275.88 L237.73,272.63 L239.45,269.64 L241.36,266.99 L243.43,264.77 L245.58,263.06 L247.76,261.89 L249.88,261.31 L251.86,261.31Z" fill="#e4e4e4" stroke="#333" stroke-width="0.4" stroke-opacity="0.6"/>
<path d="M252.95,263.17 L254.28,264.19 L255.28,265.66 L255.91,267.54 L256.13,269.75 L255.94,272.22 L255.32,274.88 L254.31,277.64 L252.94,280.43 L251.27,283.17 L249.36,285.78 L247.31,288.21 L245.18,290.38 L243.09,292.25 L241.1,293.77 L239.3,294.9 L237.76,295.62 L236.53,295.91 L235.63,295.75 L234.99,295.09 L234.54,293.91 L234.27,292.23 L234.2,290.1 L234.35,287.61 L234.73,284.82 L235.35,281.85 L236.21,278.79 L237.31,275.75 L238.64,272.83 L240.19,270.13 L241.91,267.75 L243.77,265.75 L245.71,264.21 L247.67,263.16 L249.58,262.63 L251.36,262.64Z" fill="#b5b5b5" stroke="#333" stroke-width="0.4" stroke-opacity="0.6"/>
<path d="M252.14,264.69 L253.29,265.57 L254.16,266.85 L254.71,268.48 L254.9,270.39 L254.73,272.53 L254.2,274.84 L253.32,277.23 L252.13,279.65 L250.68,282.02 L249.03,284.29 L247.25,286.39 L245.41,288.27 L243.59,289.89 L241.87,291.21 L240.32,292.19 L238.98,292.82 L237.91,293.06 L237.13,292.92 L236.58,292.35 L236.18,291.33 L235.95,289.87 L235.9,288.03 L236.03,285.87 L236.35,283.46 L236.89,280.88 L237.63,278.23 L238.59,275.59 L239.74,273.06 L241.08,270.72 L242.58,268.66 L244.19,266.93 L245.87,265.59 L247.57,264.68 L249.22,264.23 L250.77,264.23Z" fill="#7a7a7a" stroke="#333" stroke-width="0.4" stroke-opacity="0.6"/>
<path d="M251.2,266.46 L252.14,267.19 L252.85,268.24 L253.3,269.57 L253.46,271.14 L253.32,272.9 L252.89,274.79 L252.17,276.75 L251.19,278.74 L250,280.68 L248.65,282.54 L247.18,284.27 L245.68,285.81 L244.19,287.14 L242.77,288.22 L241.5,289.03 L240.4,289.54 L239.52,289.74 L238.88,289.63 L238.43,289.16 L238.1,288.32 L237.91,287.13 L237.87,285.62 L237.97,283.84 L238.24,281.86 L238.68,279.75 L239.29,277.57 L240.08,275.41 L241.03,273.33 L242.12,271.41 L243.35,269.72 L244.67,268.3 L246.05,267.2 L247.44,266.46 L248.8,266.08 L250.07,266.09Z" fill="#4f4f4f" stroke="#333" stroke-width="0.4" stroke-opacity="0.6"/>
<path d="M250.12,268.49 L250.83,269.03 L251.36,269.82 L251.7,270.82 L251.82,272 L251.72,273.32 L251.39,274.73 L250.85,276.21 L250.12,277.69 L249.22,279.16 L248.21,280.55 L247.11,281.84 L245.98,283 L244.86,284 L243.8,284.81 L242.84,285.41 L242.02,285.8 L241.36,285.95 L240.88,285.86 L240.54,285.51 L240.3,284.88 L240.16,283.99 L240.12,282.85 L240.2,281.52 L240.4,280.04 L240.73,278.45 L241.19,276.82 L241.78,275.2 L242.49,273.64 L243.32,272.2 L244.23,270.93 L245.23,269.87 L246.26,269.04 L247.31,268.48 L248.32,268.2 L249.27,268.21Z" fill="#3b3b3b" stroke="#333" stroke-width="0.4" stroke-opacity="0.6"/>
<path d="M248.91,270.77 L249.35,271.11 L249.68,271.6 L249.89,272.23 L249.97,272.96 L249.9,273.79 L249.7,274.67 L249.36,275.59 L248.91,276.52 L248.35,277.44 L247.71,278.31 L247.03,279.12 L246.32,279.84 L245.62,280.46 L244.96,280.97 L244.36,281.35 L243.85,281.59 L243.43,281.68 L243.13,281.63 L242.92,281.41 L242.77,281.02 L242.68,280.46 L242.66,279.75 L242.71,278.92 L242.84,277.99 L243.04,277 L243.33,275.98 L243.69,274.96 L244.14,273.99 L244.65,273.09 L245.23,272.3 L245.85,271.63 L246.5,271.12 L247.15,270.77 L247.78,270.59 L248.38,270.59Z" fill="#333" stroke="#333" stroke-width="0.4" stroke-opacity="0.6"/>
<ellipse cx="245" cy="279" rx="12.3" ry="0.5" transform="rotate(-62 245 279)" fill="#9a9a9a"/>
<path d="M222.48,306.92 L221.35,306.58 L220.3,305.81 L219.39,304.64 L218.64,303.11 L218.1,301.25 L217.76,299.13 L217.66,296.82 L217.77,294.38 L218.1,291.88 L218.62,289.4 L219.3,287.02 L220.1,284.8 L221,282.81 L221.95,281.12 L222.9,279.76 L223.84,278.78 L224.71,278.22 L225.52,278.08 L226.27,278.38 L227.01,279.12 L227.72,280.26 L228.38,281.79 L228.95,283.65 L229.41,285.78 L229.74,288.12 L229.91,290.59 L229.9,293.12 L229.7,295.63 L229.31,298.04 L228.72,300.29 L227.96,302.29 L227.04,303.99 L225.99,305.34 L224.85,306.29 L223.67,306.82Z" fill="#eeeeee" stroke="#333" stroke-width="0.4" stroke-opacity="0.6"/>
<path d="M222.7,304.9 L221.72,304.61 L220.82,303.95 L220.03,302.94 L219.39,301.62 L218.92,300.03 L218.64,298.21 L218.54,296.22 L218.64,294.11 L218.93,291.97 L219.37,289.84 L219.96,287.79 L220.65,285.88 L221.42,284.17 L222.23,282.71 L223.06,281.54 L223.86,280.7 L224.61,280.22 L225.3,280.1 L225.95,280.36 L226.59,280.99 L227.2,281.98 L227.76,283.29 L228.26,284.89 L228.65,286.72 L228.94,288.73 L229.08,290.86 L229.07,293.03 L228.9,295.19 L228.56,297.27 L228.06,299.2 L227.4,300.92 L226.61,302.38 L225.71,303.54 L224.73,304.36 L223.71,304.82Z" fill="#d4d4d4" stroke="#333" stroke-width="0.4" stroke-opacity="0.6"/>
<path d="M222.94,302.59 L222.14,302.36 L221.41,301.82 L220.77,301 L220.25,299.92 L219.87,298.63 L219.63,297.14 L219.56,295.52 L219.64,293.81 L219.87,292.07 L220.23,290.33 L220.71,288.66 L221.27,287.11 L221.9,285.72 L222.56,284.53 L223.23,283.58 L223.89,282.9 L224.5,282.5 L225.06,282.41 L225.59,282.62 L226.11,283.13 L226.6,283.94 L227.06,285 L227.46,286.3 L227.79,287.8 L228.02,289.43 L228.14,291.16 L228.13,292.93 L227.99,294.69 L227.71,296.38 L227.3,297.95 L226.77,299.35 L226.12,300.54 L225.39,301.48 L224.6,302.15 L223.77,302.53Z" fill="#b0b0b0" stroke="#333" stroke-width="0.4" stroke-opacity="0.6"/>
<path d="M223.18,300.29 L222.57,300.1 L222,299.69 L221.51,299.06 L221.11,298.23 L220.81,297.23 L220.63,296.08 L220.57,294.83 L220.64,293.51 L220.81,292.17 L221.09,290.83 L221.46,289.54 L221.9,288.34 L222.38,287.27 L222.89,286.35 L223.41,285.62 L223.91,285.09 L224.39,284.79 L224.82,284.71 L225.23,284.88 L225.63,285.27 L226.01,285.89 L226.36,286.72 L226.67,287.72 L226.92,288.87 L227.1,290.13 L227.19,291.47 L227.19,292.83 L227.08,294.19 L226.87,295.49 L226.55,296.7 L226.14,297.79 L225.64,298.7 L225.07,299.43 L224.46,299.95 L223.82,300.23Z" fill="#8e8e8e" stroke="#333" stroke-width="0.4" stroke-opacity="0.6"/>
<path d="M223.42,297.98 L222.99,297.85 L222.59,297.56 L222.25,297.11 L221.96,296.53 L221.76,295.83 L221.63,295.02 L221.59,294.14 L221.63,293.21 L221.76,292.26 L221.95,291.32 L222.21,290.42 L222.52,289.57 L222.86,288.82 L223.22,288.17 L223.58,287.66 L223.94,287.29 L224.27,287.07 L224.58,287.02 L224.86,287.13 L225.14,287.41 L225.41,287.85 L225.66,288.43 L225.88,289.14 L226.06,289.95 L226.18,290.83 L226.25,291.77 L226.24,292.74 L226.17,293.69 L226.02,294.61 L225.79,295.46 L225.5,296.22 L225.15,296.87 L224.76,297.38 L224.32,297.74 L223.87,297.94Z" fill="#777" stroke="#333" stroke-width="0.4" stroke-opacity="0.6"/>
<path d="M223.67,295.67 L223.42,295.6 L223.19,295.43 L222.99,295.17 L222.82,294.83 L222.7,294.43 L222.63,293.96 L222.6,293.45 L222.63,292.91 L222.7,292.36 L222.82,291.82 L222.97,291.29 L223.14,290.81 L223.34,290.37 L223.55,290 L223.76,289.7 L223.96,289.48 L224.16,289.36 L224.33,289.33 L224.5,289.39 L224.66,289.56 L224.82,289.81 L224.96,290.14 L225.09,290.55 L225.19,291.02 L225.26,291.54 L225.3,292.08 L225.3,292.64 L225.25,293.19 L225.17,293.72 L225.04,294.21 L224.87,294.65 L224.67,295.03 L224.44,295.32 L224.19,295.53 L223.93,295.65Z" fill="#999" stroke="#333" stroke-width="0.4" stroke-opacity="0.6"/>
<ellipse cx="224" cy="293.5" rx="0.5" ry="7.98" transform="rotate(6 224 293.5)" fill="#c8c8c8"/>
<path d="M221.81,383.4 L220.38,382.95 L219.04,381.95 L217.85,380.42 L216.84,378.4 L216.05,375.97 L215.49,373.18 L215.18,370.13 L215.13,366.91 L215.35,363.61 L215.82,360.34 L216.54,357.2 L217.47,354.28 L218.6,351.67 L219.89,349.45 L221.29,347.69 L222.78,346.44 L224.29,345.74 L225.79,345.6 L227.22,346.05 L228.56,347.05 L229.75,348.58 L230.76,350.6 L231.55,353.03 L232.11,355.82 L232.42,358.87 L232.47,362.09 L232.25,365.39 L231.78,368.66 L231.06,371.8 L230.13,374.72 L229,377.33 L227.71,379.55 L226.31,381.31 L224.82,382.56 L223.31,383.26Z" fill="#f3f3f3" stroke="#333" stroke-width="0.4" stroke-opacity="0.3"/>
<path d="M222.01,381.51 L220.72,381.11 L219.52,380.21 L218.45,378.83 L217.54,377.01 L216.82,374.82 L216.32,372.31 L216.04,369.57 L216,366.67 L216.19,363.7 L216.62,360.76 L217.26,357.93 L218.1,355.3 L219.12,352.96 L220.28,350.96 L221.54,349.37 L222.88,348.25 L224.24,347.61 L225.59,347.49 L226.88,347.89 L228.08,348.79 L229.15,350.17 L230.06,351.99 L230.78,354.18 L231.28,356.69 L231.56,359.43 L231.6,362.33 L231.41,365.3 L230.98,368.24 L230.34,371.07 L229.5,373.7 L228.48,376.04 L227.32,378.04 L226.06,379.63 L224.72,380.75 L223.36,381.39Z" fill="#e2e2e2" stroke="#333" stroke-width="0.4" stroke-opacity="0.3"/>
<path d="M249.75,334.9 L251.47,336.03 L252.85,337.73 L253.83,339.95 L254.38,342.6 L254.47,345.61 L254.1,348.88 L253.27,352.32 L252.02,355.82 L250.41,359.28 L248.48,362.6 L246.32,365.7 L244.02,368.47 L241.66,370.86 L239.33,372.79 L237.11,374.21 L235.09,375.09 L233.32,375.38 L231.85,375.1 L230.66,374.2 L229.7,372.69 L228.99,370.6 L228.56,368 L228.44,364.98 L228.63,361.62 L229.16,358.05 L230.01,354.38 L231.19,350.72 L232.68,347.2 L234.45,343.94 L236.45,341.02 L238.63,338.55 L240.93,336.61 L243.27,335.24 L245.57,334.49 L247.76,334.38Z" fill="#f3f3f3" stroke="#333" stroke-width="0.4" stroke-opacity="0.3"/>
<path d="M248.85,336.91 L250.4,337.93 L251.64,339.46 L252.53,341.45 L253.02,343.84 L253.11,346.55 L252.77,349.49 L252.02,352.58 L250.9,355.73 L249.44,358.85 L247.71,361.84 L245.77,364.63 L243.7,367.13 L241.57,369.28 L239.47,371.01 L237.48,372.29 L235.66,373.08 L234.07,373.35 L232.75,373.09 L231.67,372.28 L230.81,370.92 L230.17,369.04 L229.79,366.7 L229.67,363.98 L229.85,360.96 L230.32,357.75 L231.09,354.44 L232.16,351.15 L233.5,347.98 L235.09,345.04 L236.89,342.42 L238.85,340.2 L240.91,338.45 L243.02,337.22 L245.09,336.54 L247.06,336.44Z" fill="#e2e2e2" stroke="#333" stroke-width="0.4" stroke-opacity="0.3"/>
<path d="M251.8,335.14 L251.99,336.35 L251.83,337.63 L251.35,338.94 L250.54,340.23 L249.44,341.47 L248.07,342.62 L246.48,343.64 L244.73,344.51 L242.85,345.19 L240.91,345.68 L238.96,345.94 L237.07,345.98 L235.3,345.79 L233.69,345.38 L232.3,344.76 L231.17,343.95 L230.32,342.97 L229.8,341.86 L229.61,340.65 L229.77,339.37 L230.25,338.06 L231.06,336.77 L232.16,335.53 L233.53,334.38 L235.12,333.36 L236.87,332.49 L238.75,331.81 L240.69,331.32 L242.64,331.06 L244.53,331.02 L246.3,331.21 L247.91,331.62 L249.3,332.24 L250.43,333.05 L251.28,334.03Z" fill="#f0f0f0" stroke="#333" stroke-width="0.4" stroke-opacity="0.35"/>
<path d="M249.6,335.81 L249.75,336.78 L249.63,337.8 L249.24,338.85 L248.59,339.88 L247.71,340.87 L246.62,341.79 L245.35,342.61 L243.94,343.31 L242.44,343.86 L240.88,344.24 L239.33,344.45 L237.82,344.48 L236.4,344.33 L235.11,344 L234,343.51 L233.09,342.86 L232.42,342.08 L232,341.19 L231.85,340.22 L231.97,339.2 L232.36,338.15 L233.01,337.12 L233.89,336.13 L234.98,335.21 L236.25,334.39 L237.66,333.69 L239.16,333.14 L240.72,332.76 L242.27,332.55 L243.78,332.52 L245.2,332.67 L246.49,333 L247.6,333.49 L248.51,334.14 L249.18,334.92Z" fill="#dcdcdc" stroke="#333" stroke-width="0.4" stroke-opacity="0.35"/>
<path d="M247.4,336.48 L247.51,337.21 L247.42,337.98 L247.13,338.76 L246.64,339.54 L245.98,340.28 L245.16,340.97 L244.21,341.58 L243.16,342.11 L242.03,342.52 L240.86,342.81 L239.7,342.96 L238.56,342.99 L237.5,342.87 L236.53,342.63 L235.7,342.26 L235.02,341.77 L234.51,341.18 L234.2,340.52 L234.09,339.79 L234.18,339.02 L234.47,338.24 L234.96,337.46 L235.62,336.72 L236.44,336.03 L237.39,335.42 L238.44,334.89 L239.57,334.48 L240.74,334.19 L241.9,334.04 L243.04,334.01 L244.1,334.13 L245.07,334.37 L245.9,334.74 L246.58,335.23 L247.09,335.82Z" fill="#cfcfcf" stroke="#333" stroke-width="0.4" stroke-opacity="0.35"/>
<path d="M254.61,333.44 L254.86,334.46 L254.85,335.56 L254.55,336.7 L253.99,337.85 L253.18,338.97 L252.15,340.04 L250.92,341.01 L249.54,341.86 L248.05,342.56 L246.48,343.1 L244.9,343.44 L243.34,343.6 L241.86,343.55 L240.5,343.3 L239.3,342.86 L238.29,342.25 L237.52,341.47 L236.99,340.56 L236.74,339.54 L236.75,338.44 L237.05,337.3 L237.61,336.15 L238.42,335.03 L239.45,333.96 L240.68,332.99 L242.06,332.14 L243.55,331.44 L245.12,330.9 L246.7,330.56 L248.26,330.4 L249.74,330.45 L251.1,330.7 L252.3,331.14 L253.31,331.75 L254.08,332.53Z" fill="#e4e4e4" stroke="#333" stroke-width="0.4" stroke-opacity="0.6"/>
<path d="M253.73,333.8 L253.96,334.72 L253.94,335.7 L253.68,336.73 L253.17,337.76 L252.45,338.78 L251.52,339.73 L250.41,340.61 L249.17,341.37 L247.82,342.01 L246.42,342.49 L244.99,342.8 L243.59,342.94 L242.25,342.89 L241.03,342.67 L239.95,342.28 L239.04,341.72 L238.34,341.02 L237.87,340.2 L237.64,339.28 L237.66,338.3 L237.92,337.27 L238.43,336.24 L239.15,335.22 L240.08,334.27 L241.19,333.39 L242.43,332.63 L243.78,331.99 L245.18,331.51 L246.61,331.2 L248.01,331.06 L249.35,331.11 L250.57,331.33 L251.65,331.72 L252.56,332.28 L253.26,332.98Z" fill="#b5b5b5" stroke="#333" stroke-width="0.4" stroke-opacity="0.6"/>
<path d="M252.67,334.22 L252.87,335.02 L252.86,335.88 L252.63,336.77 L252.19,337.66 L251.56,338.54 L250.75,339.37 L249.8,340.13 L248.72,340.79 L247.55,341.34 L246.33,341.76 L245.1,342.03 L243.88,342.15 L242.73,342.11 L241.66,341.92 L240.73,341.57 L239.94,341.09 L239.34,340.49 L238.93,339.78 L238.73,338.98 L238.74,338.12 L238.97,337.23 L239.41,336.34 L240.04,335.46 L240.85,334.63 L241.8,333.87 L242.88,333.21 L244.05,332.66 L245.27,332.24 L246.5,331.97 L247.72,331.85 L248.87,331.89 L249.94,332.08 L250.87,332.43 L251.66,332.91 L252.26,333.51Z" fill="#7a7a7a" stroke="#333" stroke-width="0.4" stroke-opacity="0.6"/>
<path d="M251.44,334.72 L251.6,335.38 L251.59,336.08 L251.4,336.81 L251.04,337.54 L250.53,338.26 L249.86,338.94 L249.08,339.57 L248.2,340.11 L247.24,340.56 L246.24,340.9 L245.22,341.12 L244.23,341.22 L243.28,341.19 L242.41,341.03 L241.64,340.75 L240.99,340.36 L240.5,339.86 L240.16,339.28 L240,338.62 L240.01,337.92 L240.2,337.19 L240.56,336.46 L241.07,335.74 L241.74,335.06 L242.52,334.43 L243.4,333.89 L244.36,333.44 L245.36,333.1 L246.38,332.88 L247.37,332.78 L248.32,332.81 L249.19,332.97 L249.96,333.25 L250.61,333.64 L251.1,334.14Z" fill="#4f4f4f" stroke="#333" stroke-width="0.4" stroke-opacity="0.6"/>
<path d="M250.03,335.29 L250.15,335.78 L250.14,336.31 L250,336.86 L249.73,337.41 L249.34,337.95 L248.85,338.46 L248.26,338.93 L247.6,339.33 L246.88,339.67 L246.13,339.93 L245.37,340.09 L244.62,340.17 L243.91,340.14 L243.25,340.02 L242.68,339.81 L242.2,339.52 L241.82,339.15 L241.57,338.71 L241.45,338.22 L241.46,337.69 L241.6,337.14 L241.87,336.59 L242.26,336.05 L242.75,335.54 L243.34,335.07 L244,334.67 L244.72,334.33 L245.47,334.07 L246.23,333.91 L246.98,333.83 L247.69,333.86 L248.35,333.98 L248.92,334.19 L249.4,334.48 L249.78,334.85Z" fill="#3b3b3b" stroke="#333" stroke-width="0.4" stroke-opacity="0.6"/>
<path d="M248.44,335.93 L248.52,336.24 L248.51,336.57 L248.43,336.91 L248.26,337.25 L248.02,337.59 L247.71,337.91 L247.34,338.2 L246.92,338.46 L246.47,338.67 L246.01,338.83 L245.53,338.93 L245.06,338.98 L244.62,338.96 L244.21,338.89 L243.85,338.76 L243.55,338.57 L243.31,338.34 L243.16,338.07 L243.08,337.76 L243.09,337.43 L243.17,337.09 L243.34,336.75 L243.58,336.41 L243.89,336.09 L244.26,335.8 L244.68,335.54 L245.13,335.33 L245.59,335.17 L246.07,335.07 L246.54,335.02 L246.98,335.04 L247.39,335.11 L247.75,335.24 L248.05,335.43 L248.29,335.66Z" fill="#333" stroke="#333" stroke-width="0.4" stroke-opacity="0.6"/>
<path d="M249.53,337.64 L250.82,338.54 L251.83,339.92 L252.49,341.75 L252.78,343.96 L252.67,346.47 L252.17,349.22 L251.3,352.12 L250.08,355.08 L248.57,358.02 L246.84,360.86 L244.96,363.52 L243.01,365.94 L241.07,368.04 L239.23,369.79 L237.55,371.12 L236.1,372.01 L234.94,372.43 L234.07,372.36 L233.44,371.76 L232.97,370.61 L232.66,368.94 L232.53,366.81 L232.59,364.27 L232.86,361.42 L233.35,358.35 L234.07,355.17 L235.03,351.98 L236.2,348.9 L237.59,346.01 L239.15,343.42 L240.86,341.21 L242.66,339.45 L244.49,338.19 L246.3,337.46 L248,337.28Z" fill="#e4e4e4" stroke="#333" stroke-width="0.4" stroke-opacity="0.6"/>
<path d="M248.99,338.86 L250.15,339.66 L251.06,340.91 L251.65,342.55 L251.91,344.54 L251.82,346.8 L251.37,349.28 L250.58,351.88 L249.48,354.55 L248.13,357.19 L246.57,359.75 L244.88,362.15 L243.12,364.32 L241.38,366.22 L239.72,367.79 L238.21,368.99 L236.91,369.79 L235.85,370.16 L235.08,370.1 L234.51,369.56 L234.09,368.53 L233.81,367.03 L233.69,365.1 L233.75,362.82 L233.99,360.26 L234.43,357.5 L235.08,354.63 L235.93,351.76 L236.99,348.99 L238.24,346.39 L239.65,344.06 L241.19,342.07 L242.81,340.49 L244.46,339.35 L246.08,338.69 L247.61,338.53Z" fill="#b5b5b5" stroke="#333" stroke-width="0.4" stroke-opacity="0.6"/>
<path d="M248.34,340.32 L249.35,341.01 L250.13,342.09 L250.65,343.52 L250.87,345.24 L250.79,347.2 L250.4,349.35 L249.72,351.6 L248.77,353.91 L247.59,356.21 L246.24,358.42 L244.78,360.5 L243.25,362.39 L241.74,364.03 L240.3,365.39 L239,366.43 L237.87,367.12 L236.96,367.45 L236.28,367.39 L235.79,366.93 L235.42,366.03 L235.18,364.73 L235.08,363.06 L235.13,361.08 L235.34,358.86 L235.72,356.47 L236.28,353.99 L237.03,351.5 L237.94,349.09 L239.03,346.84 L240.25,344.82 L241.58,343.1 L242.98,341.73 L244.41,340.74 L245.82,340.17 L247.14,340.03Z" fill="#7a7a7a" stroke="#333" stroke-width="0.4" stroke-opacity="0.6"/>
<path d="M247.58,342.02 L248.41,342.59 L249.05,343.47 L249.48,344.64 L249.66,346.06 L249.59,347.67 L249.27,349.43 L248.71,351.28 L247.93,353.17 L246.97,355.06 L245.86,356.87 L244.66,358.58 L243.41,360.13 L242.17,361.47 L240.99,362.59 L239.92,363.44 L238.99,364.01 L238.24,364.28 L237.69,364.23 L237.29,363.85 L236.98,363.12 L236.79,362.05 L236.7,360.68 L236.74,359.06 L236.91,357.23 L237.23,355.27 L237.69,353.24 L238.3,351.19 L239.05,349.22 L239.94,347.37 L240.94,345.72 L242.03,344.3 L243.19,343.17 L244.36,342.37 L245.51,341.9 L246.6,341.78Z" fill="#4f4f4f" stroke="#333" stroke-width="0.4" stroke-opacity="0.6"/>
<path d="M246.72,343.96 L247.34,344.39 L247.82,345.05 L248.14,345.93 L248.28,346.99 L248.22,348.2 L247.98,349.52 L247.56,350.91 L246.98,352.33 L246.26,353.74 L245.43,355.1 L244.52,356.38 L243.59,357.54 L242.66,358.55 L241.77,359.39 L240.97,360.03 L240.27,360.46 L239.71,360.66 L239.3,360.62 L238.99,360.34 L238.77,359.79 L238.62,358.99 L238.56,357.96 L238.59,356.74 L238.72,355.37 L238.95,353.9 L239.3,352.37 L239.75,350.84 L240.32,349.36 L240.98,347.98 L241.74,346.74 L242.56,345.67 L243.42,344.83 L244.3,344.22 L245.16,343.87 L245.98,343.79Z" fill="#3b3b3b" stroke="#333" stroke-width="0.4" stroke-opacity="0.6"/>
<path d="M245.74,346.15 L246.13,346.42 L246.43,346.83 L246.63,347.38 L246.72,348.04 L246.68,348.8 L246.53,349.62 L246.27,350.49 L245.91,351.38 L245.46,352.26 L244.94,353.11 L244.37,353.91 L243.79,354.64 L243.2,355.27 L242.65,355.79 L242.15,356.19 L241.71,356.46 L241.36,356.58 L241.1,356.56 L240.92,356.38 L240.77,356.04 L240.68,355.54 L240.64,354.9 L240.66,354.14 L240.74,353.28 L240.89,352.36 L241.1,351.41 L241.39,350.45 L241.74,349.52 L242.16,348.66 L242.63,347.88 L243.14,347.22 L243.68,346.69 L244.23,346.31 L244.77,346.09 L245.28,346.04Z" fill="#333" stroke="#333" stroke-width="0.4" stroke-opacity="0.6"/>
<ellipse cx="242.8" cy="354" rx="11.4" ry="0.5" transform="rotate(-66 242.8 354)" fill="#9a9a9a"/>
<path d="M252.41,334.33 L252.58,335.05 L252.55,335.82 L252.31,336.64 L251.87,337.46 L251.25,338.27 L250.47,339.04 L249.54,339.75 L248.5,340.37 L247.37,340.89 L246.2,341.3 L245.02,341.57 L243.86,341.71 L242.76,341.7 L241.75,341.55 L240.87,341.26 L240.13,340.84 L239.57,340.3 L239.19,339.67 L239.02,338.95 L239.05,338.18 L239.29,337.36 L239.73,336.54 L240.35,335.73 L241.13,334.96 L242.06,334.25 L243.1,333.63 L244.23,333.11 L245.4,332.7 L246.58,332.43 L247.74,332.29 L248.84,332.3 L249.85,332.45 L250.73,332.74 L251.47,333.16 L252.03,333.7Z" fill="#555" stroke="#333" stroke-width="0.4" stroke-opacity="0.6"/>
<path d="M250.42,335.13 L250.55,335.63 L250.52,336.18 L250.36,336.74 L250.05,337.32 L249.62,337.89 L249.07,338.43 L248.42,338.92 L247.69,339.36 L246.9,339.73 L246.08,340.01 L245.25,340.2 L244.44,340.29 L243.67,340.29 L242.97,340.18 L242.35,339.98 L241.83,339.69 L241.44,339.31 L241.18,338.87 L241.05,338.37 L241.08,337.82 L241.24,337.26 L241.55,336.68 L241.98,336.11 L242.53,335.57 L243.18,335.08 L243.91,334.64 L244.7,334.27 L245.52,333.99 L246.35,333.8 L247.16,333.71 L247.93,333.71 L248.63,333.82 L249.25,334.02 L249.77,334.31 L250.16,334.69Z" fill="#3a3a3a" stroke="#333" stroke-width="0.4" stroke-opacity="0.6"/>
<path d="M248.44,335.93 L248.51,336.22 L248.5,336.53 L248.4,336.85 L248.23,337.18 L247.98,337.51 L247.67,337.82 L247.3,338.1 L246.88,338.35 L246.43,338.56 L245.96,338.72 L245.49,338.83 L245.02,338.88 L244.58,338.88 L244.18,338.82 L243.83,338.7 L243.53,338.54 L243.31,338.32 L243.16,338.07 L243.09,337.78 L243.1,337.47 L243.2,337.15 L243.37,336.82 L243.62,336.49 L243.93,336.18 L244.3,335.9 L244.72,335.65 L245.17,335.44 L245.64,335.28 L246.11,335.17 L246.58,335.12 L247.02,335.12 L247.42,335.18 L247.77,335.3 L248.07,335.46 L248.29,335.68Z" fill="#777" stroke="#333" stroke-width="0.4" stroke-opacity="0.6"/>
<path d="M222.13,382.41 L220.99,382.05 L219.95,381.21 L219.05,379.93 L218.32,378.25 L217.79,376.21 L217.49,373.88 L217.4,371.33 L217.55,368.64 L217.9,365.88 L218.44,363.14 L219.15,360.51 L219.98,358.05 L220.9,355.85 L221.87,353.97 L222.84,352.47 L223.78,351.38 L224.67,350.75 L225.47,350.59 L226.22,350.91 L226.96,351.71 L227.66,352.97 L228.3,354.65 L228.85,356.69 L229.29,359.03 L229.59,361.61 L229.74,364.33 L229.7,367.12 L229.47,369.89 L229.05,372.55 L228.44,375.03 L227.66,377.25 L226.72,379.13 L225.65,380.63 L224.5,381.69 L223.31,382.29Z" fill="#eeeeee" stroke="#333" stroke-width="0.4" stroke-opacity="0.6"/>
<path d="M222.36,380.18 L221.38,379.87 L220.49,379.15 L219.72,378.05 L219.09,376.6 L218.64,374.85 L218.37,372.85 L218.3,370.65 L218.42,368.34 L218.73,365.97 L219.19,363.61 L219.8,361.35 L220.52,359.24 L221.31,357.34 L222.14,355.73 L222.97,354.43 L223.79,353.5 L224.55,352.95 L225.24,352.82 L225.89,353.09 L226.52,353.78 L227.12,354.87 L227.67,356.31 L228.14,358.06 L228.52,360.08 L228.78,362.29 L228.91,364.63 L228.87,367.03 L228.68,369.42 L228.32,371.71 L227.79,373.84 L227.12,375.74 L226.31,377.36 L225.39,378.65 L224.41,379.57 L223.38,380.08Z" fill="#d4d4d4" stroke="#333" stroke-width="0.4" stroke-opacity="0.6"/>
<path d="M222.63,377.64 L221.83,377.38 L221.11,376.8 L220.48,375.9 L219.97,374.72 L219.6,373.3 L219.38,371.67 L219.32,369.88 L219.42,368 L219.67,366.07 L220.05,364.15 L220.55,362.31 L221.13,360.59 L221.77,359.05 L222.45,357.73 L223.13,356.68 L223.79,355.92 L224.41,355.47 L224.97,355.36 L225.5,355.59 L226.01,356.15 L226.5,357.03 L226.95,358.2 L227.33,359.63 L227.64,361.27 L227.86,363.07 L227.96,364.98 L227.93,366.93 L227.77,368.87 L227.48,370.74 L227.05,372.47 L226.5,374.02 L225.84,375.34 L225.1,376.39 L224.29,377.13 L223.46,377.55Z" fill="#b0b0b0" stroke="#333" stroke-width="0.4" stroke-opacity="0.6"/>
<path d="M222.9,375.09 L222.28,374.9 L221.72,374.45 L221.24,373.75 L220.84,372.84 L220.56,371.74 L220.39,370.49 L220.35,369.11 L220.42,367.65 L220.61,366.17 L220.91,364.69 L221.29,363.26 L221.74,361.94 L222.23,360.75 L222.76,359.74 L223.28,358.92 L223.79,358.34 L224.27,357.99 L224.7,357.91 L225.11,358.08 L225.51,358.52 L225.88,359.2 L226.23,360.1 L226.53,361.2 L226.76,362.47 L226.93,363.86 L227.01,365.33 L226.99,366.83 L226.86,368.33 L226.64,369.77 L226.31,371.11 L225.88,372.3 L225.37,373.32 L224.8,374.13 L224.18,374.7 L223.54,375.03Z" fill="#8e8e8e" stroke="#333" stroke-width="0.4" stroke-opacity="0.6"/>
<path d="M223.16,372.55 L222.73,372.41 L222.34,372.09 L222,371.6 L221.72,370.96 L221.52,370.19 L221.4,369.3 L221.37,368.34 L221.42,367.31 L221.56,366.26 L221.77,365.22 L222.03,364.22 L222.35,363.29 L222.7,362.45 L223.07,361.74 L223.44,361.17 L223.79,360.75 L224.13,360.51 L224.44,360.45 L224.72,360.58 L225,360.88 L225.27,361.36 L225.51,362 L225.72,362.77 L225.89,363.66 L226,364.64 L226.06,365.68 L226.04,366.74 L225.96,367.79 L225.8,368.8 L225.56,369.74 L225.27,370.58 L224.91,371.3 L224.5,371.87 L224.07,372.27 L223.62,372.5Z" fill="#777" stroke="#333" stroke-width="0.4" stroke-opacity="0.6"/>
<path d="M223.43,370 L223.18,369.92 L222.95,369.74 L222.76,369.46 L222.59,369.08 L222.48,368.64 L222.41,368.12 L222.39,367.56 L222.42,366.97 L222.5,366.36 L222.62,365.76 L222.78,365.18 L222.96,364.64 L223.16,364.16 L223.37,363.74 L223.59,363.41 L223.8,363.17 L223.99,363.03 L224.17,363 L224.33,363.07 L224.49,363.25 L224.65,363.52 L224.79,363.89 L224.91,364.34 L225.01,364.86 L225.07,365.42 L225.11,366.02 L225.1,366.64 L225.05,367.25 L224.96,367.83 L224.82,368.38 L224.65,368.86 L224.44,369.28 L224.21,369.61 L223.95,369.84 L223.69,369.97Z" fill="#999" stroke="#333" stroke-width="0.4" stroke-opacity="0.6"/>
<ellipse cx="223.8" cy="367.5" rx="0.5" ry="8.8" transform="rotate(6 223.8 367.5)" fill="#c8c8c8"/>
<path d="M338.8,37.5 L338.5,38.48 L337.59,39.42 L336.12,40.3 L334.12,41.07 L331.66,41.71 L328.8,42.2 L325.64,42.53 L322.27,42.69 L318.8,42.67 L315.33,42.49 L311.96,42.17 L308.8,41.7 L305.94,41.13 L303.48,40.48 L301.48,39.76 L300.01,39.01 L299.1,38.25 L298.8,37.5 L299.1,36.75 L300.01,35.99 L301.48,35.24 L303.48,34.52 L305.94,33.87 L308.8,33.3 L311.96,32.83 L315.33,32.51 L318.8,32.33 L322.27,32.31 L325.64,32.47 L328.8,32.8 L331.66,33.29 L334.12,33.93 L336.12,34.7 L337.59,35.58 L338.5,36.52Z" fill="#e2e2e2" stroke="#333" stroke-width="0.4" stroke-opacity="0.6"/>
<path d="M336.8,37.5 L336.53,38.38 L335.71,39.23 L334.39,40.02 L332.59,40.71 L330.37,41.29 L327.8,41.73 L324.96,42.03 L321.93,42.17 L318.8,42.15 L315.67,41.99 L312.64,41.7 L309.8,41.28 L307.23,40.77 L305.01,40.18 L303.21,39.53 L301.89,38.86 L301.07,38.17 L300.8,37.5 L301.07,36.83 L301.89,36.14 L303.21,35.47 L305.01,34.82 L307.23,34.23 L309.8,33.72 L312.64,33.3 L315.67,33.01 L318.8,32.85 L321.93,32.83 L324.96,32.97 L327.8,33.27 L330.37,33.71 L332.59,34.29 L334.39,34.98 L335.71,35.77 L336.53,36.62Z" fill="#a0a0a0" stroke="#333" stroke-width="0.4" stroke-opacity="0.6"/>
<path d="M334.8,37.5 L334.56,38.28 L333.84,39.04 L332.66,39.74 L331.06,40.35 L329.08,40.87 L326.8,41.26 L324.27,41.52 L321.58,41.65 L318.8,41.64 L316.02,41.49 L313.33,41.23 L310.8,40.86 L308.52,40.41 L306.54,39.88 L304.94,39.31 L303.76,38.71 L303.04,38.1 L302.8,37.5 L303.04,36.9 L303.76,36.29 L304.94,35.69 L306.54,35.12 L308.52,34.59 L310.8,34.14 L313.33,33.77 L316.02,33.51 L318.8,33.36 L321.58,33.35 L324.27,33.48 L326.8,33.74 L329.08,34.13 L331.06,34.65 L332.66,35.26 L333.84,35.96 L334.56,36.72Z" fill="#606060" stroke="#333" stroke-width="0.4" stroke-opacity="0.6"/>
<path d="M332.4,37.5 L332.19,38.17 L331.58,38.81 L330.58,39.4 L329.22,39.93 L327.54,40.36 L325.6,40.7 L323.45,40.92 L321.16,41.03 L318.8,41.02 L316.44,40.9 L314.15,40.67 L312,40.36 L310.06,39.97 L308.38,39.52 L307.02,39.04 L306.02,38.53 L305.41,38.01 L305.2,37.5 L305.41,36.99 L306.02,36.47 L307.02,35.96 L308.38,35.48 L310.06,35.03 L312,34.64 L314.15,34.33 L316.44,34.1 L318.8,33.98 L321.16,33.97 L323.45,34.08 L325.6,34.3 L327.54,34.64 L329.22,35.07 L330.58,35.6 L331.58,36.19 L332.19,36.83Z" fill="#6e6e6e" stroke="#333" stroke-width="0.4" stroke-opacity="0.6"/>
<path d="M329.2,37.5 L329.04,38.01 L328.57,38.5 L327.81,38.95 L326.77,39.36 L325.48,39.69 L324,39.94 L322.36,40.11 L320.61,40.2 L318.8,40.19 L316.99,40.1 L315.24,39.93 L313.6,39.69 L312.12,39.39 L310.83,39.05 L309.79,38.67 L309.03,38.28 L308.56,37.89 L308.4,37.5 L308.56,37.11 L309.03,36.72 L309.79,36.33 L310.83,35.95 L312.12,35.61 L313.6,35.31 L315.24,35.07 L316.99,34.9 L318.8,34.81 L320.61,34.8 L322.36,34.89 L324,35.06 L325.48,35.31 L326.77,35.64 L327.81,36.05 L328.57,36.5 L329.04,36.99Z" fill="#8c8c8c" stroke="#333" stroke-width="0.4" stroke-opacity="0.6"/>
<path d="M325.6,37.5 L325.5,37.83 L325.19,38.15 L324.69,38.45 L324.01,38.71 L323.17,38.93 L322.2,39.1 L321.13,39.21 L319.98,39.26 L318.8,39.26 L317.62,39.2 L316.47,39.09 L315.4,38.93 L314.43,38.74 L313.59,38.51 L312.91,38.27 L312.41,38.01 L312.1,37.75 L312,37.5 L312.1,37.25 L312.41,36.99 L312.91,36.73 L313.59,36.49 L314.43,36.26 L315.4,36.07 L316.47,35.91 L317.62,35.8 L318.8,35.74 L319.98,35.74 L321.13,35.79 L322.2,35.9 L323.17,36.07 L324.01,36.29 L324.69,36.55 L325.19,36.85 L325.5,37.17Z" fill="#a8a8a8" stroke="#333" stroke-width="0.4" stroke-opacity="0.6"/>
<ellipse cx="320.8" cy="37.8" rx="11.1" ry="0.45" transform="rotate(0 320.8 37.8)" fill="#d8d8d8"/>
<path d="M304.1,36.8 L304.01,38.08 L303.75,39.33 L303.32,40.5 L302.74,41.56 L302.03,42.47 L301.2,43.21 L300.28,43.75 L299.31,44.09 L298.3,44.2 L297.29,44.09 L296.32,43.75 L295.4,43.21 L294.57,42.47 L293.86,41.56 L293.28,40.5 L292.85,39.33 L292.59,38.08 L292.5,36.8 L292.59,35.52 L292.85,34.27 L293.28,33.1 L293.86,32.04 L294.57,31.13 L295.4,30.39 L296.32,29.85 L297.29,29.51 L298.3,29.4 L299.31,29.51 L300.28,29.85 L301.2,30.39 L302.03,31.13 L302.74,32.04 L303.32,33.1 L303.75,34.27 L304.01,35.52Z" fill="#d0d0d0" stroke="#333" stroke-width="0.4" stroke-opacity="0.6"/>
<path d="M303.4,36.8 L303.33,37.93 L303.1,39.03 L302.72,40.06 L302.21,40.99 L301.58,41.79 L300.85,42.44 L300.05,42.92 L299.19,43.21 L298.3,43.31 L297.41,43.21 L296.55,42.92 L295.75,42.44 L295.02,41.79 L294.39,40.99 L293.88,40.06 L293.5,39.03 L293.27,37.93 L293.2,36.8 L293.27,35.67 L293.5,34.57 L293.88,33.54 L294.39,32.61 L295.02,31.81 L295.75,31.16 L296.55,30.68 L297.41,30.39 L298.3,30.29 L299.19,30.39 L300.05,30.68 L300.85,31.16 L301.58,31.81 L302.21,32.61 L302.72,33.54 L303.1,34.57 L303.33,35.67Z" fill="#4a4a4a" stroke="#333" stroke-width="0.4" stroke-opacity="0.6"/>
<path d="M302.48,36.8 L302.41,37.73 L302.22,38.62 L301.92,39.46 L301.5,40.22 L300.98,40.88 L300.39,41.41 L299.73,41.81 L299.03,42.05 L298.3,42.13 L297.57,42.05 L296.87,41.81 L296.21,41.41 L295.62,40.88 L295.1,40.22 L294.68,39.46 L294.38,38.62 L294.19,37.73 L294.12,36.8 L294.19,35.87 L294.38,34.98 L294.68,34.14 L295.1,33.38 L295.62,32.72 L296.21,32.19 L296.87,31.79 L297.57,31.55 L298.3,31.47 L299.03,31.55 L299.73,31.79 L300.39,32.19 L300.98,32.72 L301.5,33.38 L301.92,34.14 L302.22,34.98 L302.41,35.87Z" fill="#3a3a3a" stroke="#333" stroke-width="0.4" stroke-opacity="0.6"/>
<path d="M301.55,36.8 L301.5,37.52 L301.35,38.22 L301.11,38.87 L300.79,39.46 L300.39,39.97 L299.92,40.39 L299.41,40.69 L298.86,40.88 L298.3,40.94 L297.74,40.88 L297.19,40.69 L296.68,40.39 L296.21,39.97 L295.81,39.46 L295.49,38.87 L295.25,38.22 L295.1,37.52 L295.05,36.8 L295.1,36.08 L295.25,35.38 L295.49,34.73 L295.81,34.14 L296.21,33.63 L296.68,33.21 L297.19,32.91 L297.74,32.72 L298.3,32.66 L298.86,32.72 L299.41,32.91 L299.92,33.21 L300.39,33.63 L300.79,34.14 L301.11,34.73 L301.35,35.38 L301.5,36.08Z" fill="#8a8a8a" stroke="#333" stroke-width="0.4" stroke-opacity="0.6"/>
<path d="M300.62,36.8 L300.58,37.31 L300.48,37.81 L300.31,38.28 L300.08,38.7 L299.79,39.07 L299.46,39.36 L299.09,39.58 L298.7,39.72 L298.3,39.76 L297.9,39.72 L297.51,39.58 L297.14,39.36 L296.81,39.07 L296.52,38.7 L296.29,38.28 L296.12,37.81 L296.02,37.31 L295.98,36.8 L296.02,36.29 L296.12,35.79 L296.29,35.32 L296.52,34.9 L296.81,34.53 L297.14,34.24 L297.51,34.02 L297.9,33.88 L298.3,33.84 L298.7,33.88 L299.09,34.02 L299.46,34.24 L299.79,34.53 L300.08,34.9 L300.31,35.32 L300.48,35.79 L300.58,36.29Z" fill="#e0e0e0" stroke="#333" stroke-width="0.4" stroke-opacity="0.6"/>
<path d="M338.07,112.95 L337.82,114 L336.97,115.05 L335.55,116.05 L333.6,116.97 L331.17,117.77 L328.35,118.44 L325.21,118.95 L321.86,119.3 L318.39,119.46 L314.91,119.46 L311.53,119.29 L308.35,118.96 L305.46,118.51 L302.96,117.94 L300.93,117.29 L299.42,116.58 L298.47,115.82 L298.13,115.05 L298.39,114.24 L299.25,113.39 L300.68,112.52 L302.64,111.66 L305.06,110.84 L307.88,110.08 L311.01,109.43 L314.36,108.91 L317.81,108.54 L321.28,108.34 L324.65,108.33 L327.83,108.51 L330.71,108.88 L333.2,109.43 L335.24,110.14 L336.76,110.98 L337.71,111.93Z" fill="#e2e2e2" stroke="#333" stroke-width="0.4" stroke-opacity="0.6"/>
<path d="M336.08,113.06 L335.85,114 L335.09,114.94 L333.81,115.84 L332.05,116.67 L329.86,117.4 L327.32,118 L324.5,118.46 L321.48,118.77 L318.36,118.92 L315.23,118.91 L312.18,118.76 L309.32,118.47 L306.73,118.06 L304.48,117.55 L302.65,116.96 L301.28,116.32 L300.44,115.64 L300.12,114.94 L300.36,114.22 L301.13,113.45 L302.42,112.67 L304.18,111.89 L306.36,111.15 L308.9,110.47 L311.72,109.89 L314.73,109.42 L317.84,109.08 L320.96,108.91 L324,108.9 L326.85,109.06 L329.44,109.39 L331.69,109.89 L333.53,110.52 L334.9,111.29 L335.75,112.14Z" fill="#a0a0a0" stroke="#333" stroke-width="0.4" stroke-opacity="0.6"/>
<path d="M334.08,113.16 L333.88,114 L333.2,114.84 L332.06,115.64 L330.5,116.37 L328.56,117.02 L326.3,117.55 L323.79,117.96 L321.1,118.24 L318.33,118.37 L315.55,118.37 L312.84,118.23 L310.3,117.97 L307.99,117.61 L305.99,117.16 L304.36,116.63 L303.15,116.06 L302.4,115.46 L302.12,114.84 L302.33,114.19 L303.02,113.51 L304.16,112.82 L305.73,112.13 L307.67,111.47 L309.92,110.87 L312.43,110.34 L315.1,109.93 L317.87,109.63 L320.64,109.47 L323.34,109.46 L325.88,109.61 L328.18,109.9 L330.18,110.34 L331.81,110.91 L333.03,111.59 L333.79,112.35Z" fill="#606060" stroke="#333" stroke-width="0.4" stroke-opacity="0.6"/>
<path d="M331.68,113.29 L331.51,114 L330.93,114.71 L329.97,115.39 L328.64,116.02 L326.99,116.57 L325.07,117.02 L322.93,117.37 L320.65,117.6 L318.29,117.71 L315.93,117.71 L313.63,117.59 L311.47,117.38 L309.51,117.07 L307.81,116.68 L306.42,116.24 L305.39,115.75 L304.75,115.24 L304.52,114.71 L304.7,114.16 L305.28,113.58 L306.25,112.99 L307.58,112.41 L309.23,111.85 L311.15,111.34 L313.28,110.89 L315.55,110.54 L317.91,110.29 L320.26,110.15 L322.56,110.14 L324.71,110.27 L326.67,110.52 L328.37,110.89 L329.76,111.37 L330.79,111.95 L331.44,112.59Z" fill="#6e6e6e" stroke="#333" stroke-width="0.4" stroke-opacity="0.6"/>
<path d="M328.49,113.46 L328.36,114 L327.91,114.55 L327.17,115.07 L326.16,115.54 L324.9,115.96 L323.43,116.31 L321.8,116.58 L320.05,116.75 L318.25,116.84 L316.44,116.84 L314.68,116.75 L313.03,116.58 L311.53,116.35 L310.23,116.05 L309.17,115.71 L308.38,115.34 L307.89,114.95 L307.71,114.54 L307.85,114.12 L308.3,113.68 L309.04,113.23 L310.06,112.78 L311.32,112.35 L312.79,111.96 L314.41,111.62 L316.15,111.35 L317.95,111.16 L319.75,111.06 L321.51,111.05 L323.16,111.15 L324.65,111.34 L325.95,111.62 L327.01,111.99 L327.8,112.43 L328.3,112.93Z" fill="#8c8c8c" stroke="#333" stroke-width="0.4" stroke-opacity="0.6"/>
<path d="M324.89,113.64 L324.81,114 L324.52,114.36 L324.03,114.7 L323.37,115.01 L322.54,115.28 L321.58,115.51 L320.52,115.68 L319.38,115.8 L318.2,115.86 L317.01,115.86 L315.87,115.8 L314.78,115.69 L313.8,115.53 L312.95,115.34 L312.26,115.12 L311.75,114.88 L311.43,114.62 L311.31,114.36 L311.4,114.08 L311.69,113.79 L312.18,113.5 L312.84,113.2 L313.67,112.92 L314.63,112.67 L315.69,112.45 L316.83,112.27 L318,112.14 L319.18,112.08 L320.33,112.07 L321.41,112.13 L322.39,112.26 L323.23,112.45 L323.93,112.69 L324.44,112.97 L324.77,113.3Z" fill="#a8a8a8" stroke="#333" stroke-width="0.4" stroke-opacity="0.6"/>
<ellipse cx="320.1" cy="114.3" rx="11.1" ry="0.45" transform="rotate(-3 320.1 114.3)" fill="#d8d8d8"/>
<path d="M304,115.9 L303.9,116.59 L303.61,117.27 L303.14,117.9 L302.5,118.47 L301.71,118.96 L300.8,119.36 L299.79,119.66 L298.71,119.84 L297.6,119.9 L296.49,119.84 L295.41,119.66 L294.4,119.36 L293.49,118.96 L292.7,118.47 L292.06,117.9 L291.59,117.27 L291.3,116.59 L291.2,115.9 L291.3,115.21 L291.59,114.53 L292.06,113.9 L292.7,113.33 L293.49,112.84 L294.4,112.44 L295.41,112.14 L296.49,111.96 L297.6,111.9 L298.71,111.96 L299.79,112.14 L300.8,112.44 L301.71,112.84 L302.5,113.33 L303.14,113.9 L303.61,114.53 L303.9,115.21Z" fill="#d0d0d0" stroke="#333" stroke-width="0.4" stroke-opacity="0.6"/>
<path d="M303.23,115.9 L303.15,116.51 L302.89,117.1 L302.48,117.66 L301.91,118.16 L301.22,118.6 L300.42,118.95 L299.53,119.21 L298.58,119.37 L297.6,119.42 L296.62,119.37 L295.67,119.21 L294.78,118.95 L293.98,118.6 L293.29,118.16 L292.72,117.66 L292.31,117.1 L292.05,116.51 L291.97,115.9 L292.05,115.29 L292.31,114.7 L292.72,114.14 L293.29,113.64 L293.98,113.2 L294.78,112.85 L295.67,112.59 L296.62,112.43 L297.6,112.38 L298.58,112.43 L299.53,112.59 L300.42,112.85 L301.22,113.2 L301.91,113.64 L302.48,114.14 L302.89,114.7 L303.15,115.29Z" fill="#4a4a4a" stroke="#333" stroke-width="0.4" stroke-opacity="0.6"/>
<path d="M302.21,115.9 L302.14,116.4 L301.93,116.89 L301.59,117.34 L301.13,117.75 L300.56,118.11 L299.9,118.39 L299.18,118.61 L298.4,118.74 L297.6,118.78 L296.8,118.74 L296.02,118.61 L295.3,118.39 L294.64,118.11 L294.07,117.75 L293.61,117.34 L293.27,116.89 L293.06,116.4 L292.99,115.9 L293.06,115.4 L293.27,114.91 L293.61,114.46 L294.07,114.05 L294.64,113.69 L295.3,113.41 L296.02,113.19 L296.8,113.06 L297.6,113.02 L298.4,113.06 L299.18,113.19 L299.9,113.41 L300.56,113.69 L301.13,114.05 L301.59,114.46 L301.93,114.91 L302.14,115.4Z" fill="#3a3a3a" stroke="#333" stroke-width="0.4" stroke-opacity="0.6"/>
<path d="M301.18,115.9 L301.13,116.29 L300.97,116.67 L300.7,117.02 L300.35,117.34 L299.9,117.62 L299.39,117.84 L298.83,118 L298.22,118.11 L297.6,118.14 L296.98,118.11 L296.37,118 L295.81,117.84 L295.3,117.62 L294.85,117.34 L294.5,117.02 L294.23,116.67 L294.07,116.29 L294.02,115.9 L294.07,115.51 L294.23,115.13 L294.5,114.78 L294.85,114.46 L295.3,114.18 L295.81,113.96 L296.37,113.8 L296.98,113.69 L297.6,113.66 L298.22,113.69 L298.83,113.8 L299.39,113.96 L299.9,114.18 L300.35,114.46 L300.7,114.78 L300.97,115.13 L301.13,115.51Z" fill="#8a8a8a" stroke="#333" stroke-width="0.4" stroke-opacity="0.6"/>
<path d="M300.16,115.9 L300.12,116.18 L300.01,116.45 L299.82,116.7 L299.56,116.93 L299.25,117.13 L298.88,117.29 L298.48,117.4 L298.04,117.48 L297.6,117.5 L297.16,117.48 L296.72,117.4 L296.32,117.29 L295.95,117.13 L295.64,116.93 L295.38,116.7 L295.19,116.45 L295.08,116.18 L295.04,115.9 L295.08,115.62 L295.19,115.35 L295.38,115.1 L295.64,114.87 L295.95,114.67 L296.32,114.51 L296.72,114.4 L297.16,114.32 L297.6,114.3 L298.04,114.32 L298.48,114.4 L298.88,114.51 L299.25,114.67 L299.56,114.87 L299.82,115.1 L300.01,115.35 L300.12,115.62Z" fill="#e0e0e0" stroke="#333" stroke-width="0.4" stroke-opacity="0.6"/>
<path d="M329.5,189 L329.27,189.74 L328.59,190.44 L327.47,191.1 L325.96,191.68 L324.09,192.16 L321.93,192.53 L319.53,192.77 L316.98,192.89 L314.35,192.88 L311.72,192.75 L309.17,192.5 L306.78,192.15 L304.61,191.72 L302.74,191.23 L301.23,190.69 L300.11,190.13 L299.43,189.56 L299.2,189 L299.43,188.44 L300.11,187.87 L301.23,187.31 L302.74,186.77 L304.61,186.28 L306.78,185.85 L309.17,185.5 L311.72,185.25 L314.35,185.12 L316.98,185.11 L319.53,185.23 L321.93,185.47 L324.09,185.84 L325.96,186.32 L327.47,186.9 L328.59,187.56 L329.27,188.26Z" fill="#ececec" stroke="#333" stroke-width="0.4" stroke-opacity="0.6"/>
<path d="M327.68,189 L327.48,189.65 L326.88,190.27 L325.9,190.85 L324.56,191.35 L322.92,191.78 L321.02,192.1 L318.91,192.32 L316.67,192.42 L314.35,192.41 L312.03,192.3 L309.79,192.08 L307.68,191.77 L305.78,191.4 L304.14,190.96 L302.8,190.49 L301.82,190 L301.22,189.49 L301.02,189 L301.22,188.51 L301.82,188 L302.8,187.51 L304.14,187.04 L305.78,186.6 L307.68,186.23 L309.79,185.92 L312.03,185.7 L314.35,185.59 L316.67,185.58 L318.91,185.68 L321.02,185.9 L322.92,186.22 L324.56,186.65 L325.9,187.15 L326.88,187.73 L327.48,188.35Z" fill="#bdbdbd" stroke="#333" stroke-width="0.4" stroke-opacity="0.6"/>
<path d="M325.86,189 L325.69,189.56 L325.17,190.1 L324.32,190.59 L323.17,191.03 L321.75,191.4 L320.11,191.68 L318.29,191.87 L316.35,191.96 L314.35,191.95 L312.35,191.85 L310.41,191.66 L308.59,191.4 L306.95,191.07 L305.53,190.7 L304.38,190.29 L303.53,189.86 L303.01,189.43 L302.84,189 L303.01,188.57 L303.53,188.14 L304.38,187.71 L305.53,187.3 L306.95,186.93 L308.59,186.6 L310.41,186.34 L312.35,186.15 L314.35,186.05 L316.35,186.04 L318.29,186.13 L320.11,186.32 L321.75,186.6 L323.17,186.97 L324.32,187.41 L325.17,187.9 L325.69,188.44Z" fill="#8a8a8a" stroke="#333" stroke-width="0.4" stroke-opacity="0.6"/>
<path d="M323.44,189 L323.3,189.44 L322.89,189.87 L322.22,190.26 L321.31,190.61 L320.19,190.89 L318.9,191.12 L317.46,191.26 L315.93,191.33 L314.35,191.33 L312.77,191.25 L311.24,191.1 L309.81,190.89 L308.51,190.63 L307.39,190.34 L306.48,190.02 L305.81,189.68 L305.4,189.34 L305.26,189 L305.4,188.66 L305.81,188.32 L306.48,187.98 L307.39,187.66 L308.51,187.37 L309.81,187.11 L311.24,186.9 L312.77,186.75 L314.35,186.67 L315.93,186.67 L317.46,186.74 L318.9,186.88 L320.19,187.11 L321.31,187.39 L322.22,187.74 L322.89,188.13 L323.3,188.56Z" fill="#a0a0a0" stroke="#333" stroke-width="0.4" stroke-opacity="0.6"/>
<path d="M320.41,189 L320.32,189.29 L320.04,189.58 L319.6,189.84 L318.99,190.07 L318.25,190.26 L317.38,190.41 L316.42,190.51 L315.4,190.56 L314.35,190.55 L313.3,190.5 L312.28,190.4 L311.32,190.26 L310.45,190.09 L309.71,189.89 L309.1,189.68 L308.66,189.45 L308.38,189.22 L308.29,189 L308.38,188.78 L308.66,188.55 L309.1,188.32 L309.71,188.11 L310.45,187.91 L311.32,187.74 L312.28,187.6 L313.3,187.5 L314.35,187.45 L315.4,187.44 L316.42,187.49 L317.38,187.59 L318.25,187.74 L318.99,187.93 L319.6,188.16 L320.04,188.42 L320.32,188.71Z" fill="#b8b8b8" stroke="#333" stroke-width="0.4" stroke-opacity="0.6"/>
<ellipse cx="316.35" cy="189.3" rx="8.19" ry="0.45" transform="rotate(0 316.35 189.3)" fill="#d8d8d8"/>
<path d="M304.1,188.6 L304.02,189.56 L303.77,190.48 L303.38,191.35 L302.84,192.14 L302.17,192.81 L301.4,193.36 L300.55,193.77 L299.64,194.02 L298.7,194.1 L297.76,194.02 L296.85,193.77 L296,193.36 L295.23,192.81 L294.56,192.14 L294.02,191.35 L293.63,190.48 L293.38,189.56 L293.3,188.6 L293.38,187.64 L293.63,186.72 L294.02,185.85 L294.56,185.06 L295.23,184.39 L296,183.84 L296.85,183.43 L297.76,183.18 L298.7,183.1 L299.64,183.18 L300.55,183.43 L301.4,183.84 L302.17,184.39 L302.84,185.06 L303.38,185.85 L303.77,186.72 L304.02,187.64Z" fill="#d0d0d0" stroke="#333" stroke-width="0.4" stroke-opacity="0.6"/>
<path d="M303.45,188.6 L303.38,189.44 L303.17,190.26 L302.82,191.02 L302.34,191.71 L301.75,192.31 L301.08,192.79 L300.33,193.15 L299.53,193.37 L298.7,193.44 L297.87,193.37 L297.07,193.15 L296.32,192.79 L295.65,192.31 L295.06,191.71 L294.58,191.02 L294.23,190.26 L294.02,189.44 L293.95,188.6 L294.02,187.76 L294.23,186.94 L294.58,186.18 L295.06,185.49 L295.65,184.89 L296.32,184.41 L297.07,184.05 L297.87,183.83 L298.7,183.76 L299.53,183.83 L300.33,184.05 L301.08,184.41 L301.75,184.89 L302.34,185.49 L302.82,186.18 L303.17,186.94 L303.38,187.76Z" fill="#4a4a4a" stroke="#333" stroke-width="0.4" stroke-opacity="0.6"/>
<path d="M302.59,188.6 L302.53,189.29 L302.35,189.95 L302.07,190.58 L301.68,191.15 L301.2,191.63 L300.64,192.03 L300.03,192.32 L299.38,192.5 L298.7,192.56 L298.02,192.5 L297.37,192.32 L296.76,192.03 L296.2,191.63 L295.72,191.15 L295.33,190.58 L295.05,189.95 L294.87,189.29 L294.81,188.6 L294.87,187.91 L295.05,187.25 L295.33,186.62 L295.72,186.05 L296.2,185.57 L296.76,185.17 L297.37,184.88 L298.02,184.7 L298.7,184.64 L299.38,184.7 L300.03,184.88 L300.64,185.17 L301.2,185.57 L301.68,186.05 L302.07,186.62 L302.35,187.25 L302.53,187.91Z" fill="#3a3a3a" stroke="#333" stroke-width="0.4" stroke-opacity="0.6"/>
<path d="M301.72,188.6 L301.68,189.13 L301.54,189.65 L301.32,190.14 L301.02,190.58 L300.64,190.96 L300.21,191.27 L299.73,191.49 L299.23,191.63 L298.7,191.68 L298.17,191.63 L297.67,191.49 L297.19,191.27 L296.76,190.96 L296.38,190.58 L296.08,190.14 L295.86,189.65 L295.72,189.13 L295.68,188.6 L295.72,188.07 L295.86,187.55 L296.08,187.06 L296.38,186.62 L296.76,186.24 L297.19,185.93 L297.67,185.71 L298.17,185.57 L298.7,185.52 L299.23,185.57 L299.73,185.71 L300.21,185.93 L300.64,186.24 L301.02,186.62 L301.32,187.06 L301.54,187.55 L301.68,188.07Z" fill="#8a8a8a" stroke="#333" stroke-width="0.4" stroke-opacity="0.6"/>
<path d="M300.86,188.6 L300.83,188.98 L300.73,189.35 L300.57,189.7 L300.35,190.01 L300.09,190.29 L299.78,190.51 L299.44,190.67 L299.08,190.77 L298.7,190.8 L298.32,190.77 L297.96,190.67 L297.62,190.51 L297.31,190.29 L297.05,190.01 L296.83,189.7 L296.67,189.35 L296.57,188.98 L296.54,188.6 L296.57,188.22 L296.67,187.85 L296.83,187.5 L297.05,187.19 L297.31,186.91 L297.62,186.69 L297.96,186.53 L298.32,186.43 L298.7,186.4 L299.08,186.43 L299.44,186.53 L299.78,186.69 L300.09,186.91 L300.35,187.19 L300.57,187.5 L300.73,187.85 L300.83,188.22Z" fill="#e0e0e0" stroke="#333" stroke-width="0.4" stroke-opacity="0.6"/>
<path d="M338.07,262.95 L337.82,263.91 L336.96,264.86 L335.54,265.78 L333.58,266.62 L331.15,267.37 L328.32,267.99 L325.18,268.47 L321.83,268.8 L318.36,268.97 L314.88,268.98 L311.5,268.84 L308.33,268.56 L305.44,268.16 L302.95,267.66 L300.92,267.08 L299.41,266.43 L298.47,265.75 L298.13,265.05 L298.39,264.31 L299.26,263.53 L300.69,262.74 L302.65,261.94 L305.08,261.18 L307.9,260.49 L311.03,259.88 L314.38,259.39 L317.84,259.03 L321.31,258.84 L324.68,258.81 L327.85,258.96 L330.73,259.29 L333.22,259.77 L335.26,260.41 L336.77,261.17 L337.72,262.03Z" fill="#e2e2e2" stroke="#333" stroke-width="0.4" stroke-opacity="0.6"/>
<path d="M336.08,263.06 L335.85,263.92 L335.08,264.78 L333.79,265.6 L332.03,266.36 L329.84,267.03 L327.3,267.59 L324.48,268.02 L321.46,268.32 L318.33,268.47 L315.2,268.48 L312.16,268.35 L309.3,268.1 L306.71,267.74 L304.46,267.29 L302.64,266.77 L301.28,266.19 L300.43,265.58 L300.12,264.94 L300.36,264.28 L301.14,263.58 L302.43,262.86 L304.2,262.15 L306.38,261.47 L308.92,260.84 L311.74,260.29 L314.75,259.85 L317.87,259.53 L320.99,259.36 L324.02,259.33 L326.87,259.47 L329.46,259.76 L331.71,260.19 L333.54,260.77 L334.9,261.45 L335.76,262.23Z" fill="#a0a0a0" stroke="#333" stroke-width="0.4" stroke-opacity="0.6"/>
<path d="M334.08,263.16 L333.87,263.93 L333.19,264.69 L332.05,265.42 L330.48,266.1 L328.54,266.7 L326.28,267.19 L323.77,267.58 L321.08,267.84 L318.31,267.97 L315.53,267.98 L312.82,267.87 L310.28,267.65 L307.98,267.33 L305.98,266.93 L304.35,266.46 L303.15,265.95 L302.39,265.4 L302.12,264.84 L302.33,264.25 L303.02,263.63 L304.17,262.99 L305.74,262.36 L307.68,261.75 L309.94,261.19 L312.45,260.7 L315.12,260.31 L317.89,260.03 L320.67,259.87 L323.36,259.85 L325.9,259.97 L328.2,260.23 L330.2,260.62 L331.82,261.13 L333.04,261.73 L333.8,262.42Z" fill="#606060" stroke="#333" stroke-width="0.4" stroke-opacity="0.6"/>
<path d="M331.68,263.29 L331.51,263.94 L330.93,264.59 L329.96,265.21 L328.63,265.78 L326.97,266.29 L325.05,266.71 L322.92,267.04 L320.64,267.26 L318.28,267.38 L315.91,267.38 L313.61,267.29 L311.45,267.1 L309.49,266.83 L307.8,266.49 L306.42,266.09 L305.39,265.65 L304.75,265.19 L304.52,264.71 L304.7,264.21 L305.29,263.68 L306.26,263.14 L307.59,262.6 L309.25,262.09 L311.17,261.61 L313.3,261.2 L315.57,260.86 L317.92,260.62 L320.28,260.49 L322.57,260.47 L324.73,260.57 L326.69,260.79 L328.38,261.13 L329.77,261.56 L330.8,262.07 L331.44,262.66Z" fill="#6e6e6e" stroke="#333" stroke-width="0.4" stroke-opacity="0.6"/>
<path d="M328.49,263.46 L328.35,263.95 L327.91,264.45 L327.17,264.93 L326.15,265.36 L324.89,265.75 L323.42,266.08 L321.78,266.32 L320.04,266.49 L318.24,266.58 L316.43,266.59 L314.67,266.52 L313.02,266.37 L311.52,266.16 L310.22,265.9 L309.16,265.6 L308.38,265.26 L307.89,264.91 L307.71,264.54 L307.85,264.16 L308.3,263.76 L309.05,263.34 L310.07,262.93 L311.33,262.54 L312.8,262.17 L314.43,261.86 L316.17,261.6 L317.96,261.42 L319.77,261.32 L321.52,261.3 L323.17,261.38 L324.67,261.55 L325.96,261.8 L327.02,262.13 L327.81,262.53 L328.3,262.97Z" fill="#8c8c8c" stroke="#333" stroke-width="0.4" stroke-opacity="0.6"/>
<path d="M324.89,263.64 L324.8,263.97 L324.51,264.29 L324.03,264.61 L323.36,264.89 L322.54,265.15 L321.58,265.36 L320.51,265.52 L319.37,265.63 L318.19,265.69 L317.01,265.69 L315.86,265.64 L314.78,265.55 L313.8,265.41 L312.95,265.24 L312.26,265.05 L311.74,264.83 L311.43,264.6 L311.31,264.36 L311.4,264.11 L311.69,263.84 L312.18,263.57 L312.85,263.3 L313.67,263.04 L314.63,262.81 L315.7,262.6 L316.84,262.43 L318.01,262.31 L319.19,262.25 L320.34,262.24 L321.41,262.29 L322.39,262.4 L323.24,262.56 L323.93,262.78 L324.45,263.04 L324.77,263.33Z" fill="#a8a8a8" stroke="#333" stroke-width="0.4" stroke-opacity="0.6"/>
<ellipse cx="320.1" cy="264.3" rx="11.1" ry="0.45" transform="rotate(-3 320.1 264.3)" fill="#d8d8d8"/>
<path d="M304,266.1 L303.9,266.74 L303.61,267.37 L303.14,267.95 L302.5,268.48 L301.71,268.93 L300.8,269.3 L299.79,269.58 L298.71,269.74 L297.6,269.8 L296.49,269.74 L295.41,269.58 L294.4,269.3 L293.49,268.93 L292.7,268.48 L292.06,267.95 L291.59,267.37 L291.3,266.74 L291.2,266.1 L291.3,265.46 L291.59,264.83 L292.06,264.25 L292.7,263.72 L293.49,263.27 L294.4,262.9 L295.41,262.62 L296.49,262.46 L297.6,262.4 L298.71,262.46 L299.79,262.62 L300.8,262.9 L301.71,263.27 L302.5,263.72 L303.14,264.25 L303.61,264.83 L303.9,265.46Z" fill="#d0d0d0" stroke="#333" stroke-width="0.4" stroke-opacity="0.6"/>
<path d="M303.23,266.1 L303.15,266.67 L302.89,267.21 L302.48,267.73 L301.91,268.19 L301.22,268.59 L300.42,268.92 L299.53,269.16 L298.58,269.31 L297.6,269.36 L296.62,269.31 L295.67,269.16 L294.78,268.92 L293.98,268.59 L293.29,268.19 L292.72,267.73 L292.31,267.21 L292.05,266.67 L291.97,266.1 L292.05,265.53 L292.31,264.99 L292.72,264.47 L293.29,264.01 L293.98,263.61 L294.78,263.28 L295.67,263.04 L296.62,262.89 L297.6,262.84 L298.58,262.89 L299.53,263.04 L300.42,263.28 L301.22,263.61 L301.91,264.01 L302.48,264.47 L302.89,264.99 L303.15,265.53Z" fill="#4a4a4a" stroke="#333" stroke-width="0.4" stroke-opacity="0.6"/>
<path d="M302.21,266.1 L302.14,266.56 L301.93,267.01 L301.59,267.43 L301.13,267.81 L300.56,268.14 L299.9,268.41 L299.18,268.6 L298.4,268.72 L297.6,268.76 L296.8,268.72 L296.02,268.6 L295.3,268.41 L294.64,268.14 L294.07,267.81 L293.61,267.43 L293.27,267.01 L293.06,266.56 L292.99,266.1 L293.06,265.64 L293.27,265.19 L293.61,264.77 L294.07,264.39 L294.64,264.06 L295.3,263.79 L296.02,263.6 L296.8,263.48 L297.6,263.44 L298.4,263.48 L299.18,263.6 L299.9,263.79 L300.56,264.06 L301.13,264.39 L301.59,264.77 L301.93,265.19 L302.14,265.64Z" fill="#3a3a3a" stroke="#333" stroke-width="0.4" stroke-opacity="0.6"/>
<path d="M301.18,266.1 L301.13,266.46 L300.97,266.81 L300.7,267.14 L300.35,267.43 L299.9,267.69 L299.39,267.89 L298.83,268.05 L298.22,268.14 L297.6,268.17 L296.98,268.14 L296.37,268.05 L295.81,267.89 L295.3,267.69 L294.85,267.43 L294.5,267.14 L294.23,266.81 L294.07,266.46 L294.02,266.1 L294.07,265.74 L294.23,265.39 L294.5,265.06 L294.85,264.77 L295.3,264.51 L295.81,264.31 L296.37,264.15 L296.98,264.06 L297.6,264.03 L298.22,264.06 L298.83,264.15 L299.39,264.31 L299.9,264.51 L300.35,264.77 L300.7,265.06 L300.97,265.39 L301.13,265.74Z" fill="#8a8a8a" stroke="#333" stroke-width="0.4" stroke-opacity="0.6"/>
<path d="M300.16,266.1 L300.12,266.36 L300.01,266.61 L299.82,266.84 L299.56,267.05 L299.25,267.23 L298.88,267.38 L298.48,267.49 L298.04,267.56 L297.6,267.58 L297.16,267.56 L296.72,267.49 L296.32,267.38 L295.95,267.23 L295.64,267.05 L295.38,266.84 L295.19,266.61 L295.08,266.36 L295.04,266.1 L295.08,265.84 L295.19,265.59 L295.38,265.36 L295.64,265.15 L295.95,264.97 L296.32,264.82 L296.72,264.71 L297.16,264.64 L297.6,264.62 L298.04,264.64 L298.48,264.71 L298.88,264.82 L299.25,264.97 L299.56,265.15 L299.82,265.36 L300.01,265.59 L300.12,265.84Z" fill="#e0e0e0" stroke="#333" stroke-width="0.4" stroke-opacity="0.6"/>
<path d="M328.66,336.56 L328.48,337.25 L327.86,337.95 L326.8,338.63 L325.35,339.27 L323.54,339.84 L321.43,340.33 L319.09,340.72 L316.59,341 L314,341.17 L311.4,341.23 L308.87,341.18 L306.5,341.02 L304.34,340.78 L302.47,340.45 L300.94,340.06 L299.81,339.62 L299.1,339.14 L298.84,338.64 L299.03,338.11 L299.66,337.54 L300.73,336.94 L302.18,336.34 L303.99,335.76 L306.09,335.22 L308.42,334.73 L310.92,334.33 L313.5,334.03 L316.09,333.84 L318.61,333.77 L320.98,333.83 L323.13,334.02 L325,334.34 L326.53,334.76 L327.67,335.29 L328.39,335.9Z" fill="#ececec" stroke="#333" stroke-width="0.4" stroke-opacity="0.6"/>
<path d="M326.87,336.68 L326.72,337.29 L326.16,337.91 L325.23,338.51 L323.96,339.07 L322.36,339.57 L320.51,340 L318.45,340.34 L316.25,340.59 L313.97,340.74 L311.68,340.79 L309.46,340.75 L307.37,340.61 L305.47,340.4 L303.82,340.11 L302.48,339.77 L301.48,339.38 L300.86,338.96 L300.63,338.52 L300.79,338.05 L301.35,337.55 L302.29,337.02 L303.57,336.49 L305.16,335.98 L307.01,335.5 L309.06,335.08 L311.26,334.72 L313.53,334.46 L315.81,334.29 L318.02,334.23 L320.11,334.28 L322.01,334.45 L323.65,334.73 L325,335.11 L326,335.57 L326.63,336.1Z" fill="#bdbdbd" stroke="#333" stroke-width="0.4" stroke-opacity="0.6"/>
<path d="M325.08,336.81 L324.95,337.33 L324.47,337.87 L323.67,338.38 L322.56,338.87 L321.19,339.3 L319.59,339.67 L317.81,339.97 L315.91,340.18 L313.94,340.31 L311.97,340.36 L310.04,340.32 L308.24,340.2 L306.6,340.02 L305.18,339.77 L304.02,339.47 L303.15,339.14 L302.62,338.77 L302.42,338.39 L302.56,337.99 L303.04,337.55 L303.85,337.1 L304.96,336.65 L306.33,336.2 L307.93,335.79 L309.7,335.42 L311.6,335.12 L313.56,334.89 L315.53,334.74 L317.44,334.69 L319.24,334.74 L320.88,334.88 L322.3,335.12 L323.46,335.45 L324.33,335.85 L324.88,336.3Z" fill="#8a8a8a" stroke="#333" stroke-width="0.4" stroke-opacity="0.6"/>
<path d="M322.7,336.97 L322.59,337.39 L322.21,337.81 L321.58,338.22 L320.71,338.6 L319.62,338.94 L318.36,339.24 L316.96,339.47 L315.45,339.64 L313.9,339.74 L312.34,339.78 L310.82,339.75 L309.4,339.65 L308.1,339.51 L306.98,339.31 L306.07,339.08 L305.39,338.81 L304.96,338.53 L304.8,338.23 L304.92,337.91 L305.3,337.56 L305.94,337.21 L306.81,336.85 L307.89,336.5 L309.15,336.17 L310.55,335.88 L312.05,335.64 L313.6,335.46 L315.15,335.34 L316.66,335.3 L318.09,335.34 L319.38,335.45 L320.5,335.64 L321.42,335.9 L322.1,336.21 L322.53,336.58Z" fill="#a0a0a0" stroke="#333" stroke-width="0.4" stroke-opacity="0.6"/>
<path d="M319.72,337.18 L319.64,337.46 L319.39,337.74 L318.97,338.01 L318.39,338.27 L317.67,338.49 L316.82,338.69 L315.89,338.85 L314.89,338.96 L313.85,339.03 L312.81,339.05 L311.8,339.03 L310.85,338.97 L309.99,338.87 L309.24,338.74 L308.63,338.59 L308.17,338.41 L307.89,338.22 L307.78,338.02 L307.86,337.8 L308.12,337.58 L308.54,337.34 L309.12,337.1 L309.85,336.86 L310.69,336.65 L311.62,336.45 L312.62,336.29 L313.65,336.17 L314.69,336.1 L315.69,336.07 L316.64,336.09 L317.5,336.17 L318.25,336.29 L318.86,336.47 L319.32,336.68 L319.61,336.92Z" fill="#b8b8b8" stroke="#333" stroke-width="0.4" stroke-opacity="0.6"/>
<ellipse cx="315.75" cy="337.9" rx="8.07" ry="0.45" transform="rotate(-4 315.75 337.9)" fill="#d8d8d8"/>
<path d="M304.1,339.4 L304.01,340.04 L303.75,340.67 L303.32,341.25 L302.74,341.78 L302.03,342.23 L301.2,342.6 L300.28,342.88 L299.31,343.04 L298.3,343.1 L297.29,343.04 L296.32,342.88 L295.4,342.6 L294.57,342.23 L293.86,341.78 L293.28,341.25 L292.85,340.67 L292.59,340.04 L292.5,339.4 L292.59,338.76 L292.85,338.13 L293.28,337.55 L293.86,337.02 L294.57,336.57 L295.4,336.2 L296.32,335.92 L297.29,335.76 L298.3,335.7 L299.31,335.76 L300.28,335.92 L301.2,336.2 L302.03,336.57 L302.74,337.02 L303.32,337.55 L303.75,338.13 L304.01,338.76Z" fill="#d0d0d0" stroke="#333" stroke-width="0.4" stroke-opacity="0.6"/>
<path d="M303.4,339.4 L303.33,339.97 L303.1,340.51 L302.72,341.03 L302.21,341.49 L301.58,341.89 L300.85,342.22 L300.05,342.46 L299.19,342.61 L298.3,342.66 L297.41,342.61 L296.55,342.46 L295.75,342.22 L295.02,341.89 L294.39,341.49 L293.88,341.03 L293.5,340.51 L293.27,339.97 L293.2,339.4 L293.27,338.83 L293.5,338.29 L293.88,337.77 L294.39,337.31 L295.02,336.91 L295.75,336.58 L296.55,336.34 L297.41,336.19 L298.3,336.14 L299.19,336.19 L300.05,336.34 L300.85,336.58 L301.58,336.91 L302.21,337.31 L302.72,337.77 L303.1,338.29 L303.33,338.83Z" fill="#4a4a4a" stroke="#333" stroke-width="0.4" stroke-opacity="0.6"/>
<path d="M302.48,339.4 L302.41,339.86 L302.22,340.31 L301.92,340.73 L301.5,341.11 L300.98,341.44 L300.39,341.71 L299.73,341.9 L299.03,342.02 L298.3,342.06 L297.57,342.02 L296.87,341.9 L296.21,341.71 L295.62,341.44 L295.1,341.11 L294.68,340.73 L294.38,340.31 L294.19,339.86 L294.12,339.4 L294.19,338.94 L294.38,338.49 L294.68,338.07 L295.1,337.69 L295.62,337.36 L296.21,337.09 L296.87,336.9 L297.57,336.78 L298.3,336.74 L299.03,336.78 L299.73,336.9 L300.39,337.09 L300.98,337.36 L301.5,337.69 L301.92,338.07 L302.22,338.49 L302.41,338.94Z" fill="#3a3a3a" stroke="#333" stroke-width="0.4" stroke-opacity="0.6"/>
<path d="M301.55,339.4 L301.5,339.76 L301.35,340.11 L301.11,340.44 L300.79,340.73 L300.39,340.99 L299.92,341.19 L299.41,341.35 L298.86,341.44 L298.3,341.47 L297.74,341.44 L297.19,341.35 L296.68,341.19 L296.21,340.99 L295.81,340.73 L295.49,340.44 L295.25,340.11 L295.1,339.76 L295.05,339.4 L295.1,339.04 L295.25,338.69 L295.49,338.36 L295.81,338.07 L296.21,337.81 L296.68,337.61 L297.19,337.45 L297.74,337.36 L298.3,337.33 L298.86,337.36 L299.41,337.45 L299.92,337.61 L300.39,337.81 L300.79,338.07 L301.11,338.36 L301.35,338.69 L301.5,339.04Z" fill="#8a8a8a" stroke="#333" stroke-width="0.4" stroke-opacity="0.6"/>
<path d="M300.62,339.4 L300.58,339.66 L300.48,339.91 L300.31,340.14 L300.08,340.35 L299.79,340.53 L299.46,340.68 L299.09,340.79 L298.7,340.86 L298.3,340.88 L297.9,340.86 L297.51,340.79 L297.14,340.68 L296.81,340.53 L296.52,340.35 L296.29,340.14 L296.12,339.91 L296.02,339.66 L295.98,339.4 L296.02,339.14 L296.12,338.89 L296.29,338.66 L296.52,338.45 L296.81,338.27 L297.14,338.12 L297.51,338.01 L297.9,337.94 L298.3,337.92 L298.7,337.94 L299.09,338.01 L299.46,338.12 L299.79,338.27 L300.08,338.45 L300.31,338.66 L300.48,338.89 L300.58,339.14Z" fill="#e0e0e0" stroke="#333" stroke-width="0.4" stroke-opacity="0.6"/>
<path d="M422.8,68.1 L422.54,69.06 L421.78,69.99 L420.53,70.85 L418.83,71.61 L416.75,72.26 L414.33,72.76 L411.65,73.1 L408.79,73.28 L405.85,73.28 L402.91,73.12 L400.05,72.8 L397.38,72.34 L394.95,71.77 L392.87,71.1 L391.17,70.36 L389.92,69.59 L389.16,68.83 L388.9,68.1 L389.16,67.37 L389.92,66.61 L391.17,65.84 L392.87,65.1 L394.95,64.43 L397.38,63.86 L400.05,63.4 L402.91,63.08 L405.85,62.92 L408.79,62.92 L411.65,63.1 L414.33,63.44 L416.75,63.94 L418.83,64.59 L420.53,65.35 L421.78,66.21 L422.54,67.14Z" fill="#e2e2e2" stroke="#333" stroke-width="0.4" stroke-opacity="0.6"/>
<path d="M421.11,68.1 L420.87,68.96 L420.19,69.8 L419.06,70.57 L417.54,71.26 L415.66,71.84 L413.48,72.29 L411.07,72.6 L408.5,72.76 L405.85,72.76 L403.2,72.62 L400.63,72.33 L398.22,71.92 L396.04,71.4 L394.16,70.8 L392.64,70.14 L391.51,69.44 L390.83,68.75 L390.6,68.1 L390.83,67.45 L391.51,66.76 L392.64,66.06 L394.16,65.4 L396.04,64.8 L398.22,64.28 L400.63,63.87 L403.2,63.58 L405.85,63.44 L408.5,63.44 L411.07,63.6 L413.48,63.91 L415.66,64.36 L417.54,64.94 L419.06,65.63 L420.19,66.4 L420.87,67.24Z" fill="#a0a0a0" stroke="#333" stroke-width="0.4" stroke-opacity="0.6"/>
<path d="M419.41,68.1 L419.2,68.87 L418.59,69.61 L417.59,70.3 L416.24,70.91 L414.57,71.43 L412.63,71.83 L410.49,72.1 L408.2,72.24 L405.85,72.24 L403.5,72.12 L401.21,71.86 L399.07,71.5 L397.13,71.03 L395.46,70.5 L394.11,69.91 L393.11,69.29 L392.5,68.68 L392.29,68.1 L392.5,67.52 L393.11,66.91 L394.11,66.29 L395.46,65.7 L397.13,65.17 L399.07,64.7 L401.21,64.34 L403.5,64.08 L405.85,63.96 L408.2,63.96 L410.49,64.1 L412.63,64.37 L414.57,64.77 L416.24,65.29 L417.59,65.9 L418.59,66.59 L419.2,67.33Z" fill="#606060" stroke="#333" stroke-width="0.4" stroke-opacity="0.6"/>
<path d="M417.38,68.1 L417.2,68.75 L416.68,69.38 L415.83,69.97 L414.68,70.49 L413.26,70.93 L411.61,71.27 L409.79,71.5 L407.85,71.62 L405.85,71.62 L403.85,71.51 L401.91,71.3 L400.09,70.99 L398.44,70.59 L397.02,70.14 L395.87,69.64 L395.02,69.12 L394.5,68.59 L394.32,68.1 L394.5,67.61 L395.02,67.08 L395.87,66.56 L397.02,66.06 L398.44,65.61 L400.09,65.21 L401.91,64.9 L403.85,64.69 L405.85,64.58 L407.85,64.58 L409.79,64.7 L411.61,64.93 L413.26,65.27 L414.68,65.71 L415.83,66.23 L416.68,66.82 L417.2,67.45Z" fill="#6e6e6e" stroke="#333" stroke-width="0.4" stroke-opacity="0.6"/>
<path d="M414.66,68.1 L414.53,68.6 L414.13,69.08 L413.48,69.53 L412.6,69.93 L411.52,70.26 L410.26,70.52 L408.86,70.7 L407.38,70.79 L405.85,70.79 L404.32,70.71 L402.84,70.54 L401.44,70.31 L400.18,70.01 L399.1,69.66 L398.22,69.28 L397.57,68.88 L397.17,68.48 L397.04,68.1 L397.17,67.72 L397.57,67.32 L398.22,66.92 L399.1,66.54 L400.18,66.19 L401.44,65.89 L402.84,65.66 L404.32,65.49 L405.85,65.41 L407.38,65.41 L408.86,65.5 L410.26,65.68 L411.52,65.94 L412.6,66.27 L413.48,66.67 L414.13,67.12 L414.53,67.6Z" fill="#8c8c8c" stroke="#333" stroke-width="0.4" stroke-opacity="0.6"/>
<path d="M411.61,68.1 L411.53,68.43 L411.27,68.74 L410.84,69.03 L410.26,69.3 L409.55,69.51 L408.73,69.68 L407.82,69.8 L406.85,69.86 L405.85,69.86 L404.85,69.81 L403.88,69.7 L402.97,69.54 L402.15,69.35 L401.44,69.12 L400.86,68.87 L400.43,68.61 L400.17,68.35 L400.09,68.1 L400.17,67.85 L400.43,67.59 L400.86,67.33 L401.44,67.08 L402.15,66.85 L402.97,66.66 L403.88,66.5 L404.85,66.39 L405.85,66.34 L406.85,66.34 L407.82,66.4 L408.73,66.52 L409.55,66.69 L410.26,66.9 L410.84,67.17 L411.27,67.46 L411.53,67.77Z" fill="#a8a8a8" stroke="#333" stroke-width="0.4" stroke-opacity="0.6"/>
<path d="M392.9,68.1 L392.76,68.95 L392.36,69.78 L391.69,70.55 L390.79,71.25 L389.69,71.85 L388.4,72.34 L386.98,72.7 L385.46,72.93 L383.9,73 L382.34,72.93 L380.82,72.7 L379.4,72.34 L378.11,71.85 L377.01,71.25 L376.11,70.55 L375.44,69.78 L375.04,68.95 L374.9,68.1 L375.04,67.25 L375.44,66.42 L376.11,65.65 L377.01,64.95 L378.11,64.35 L379.4,63.86 L380.82,63.5 L382.34,63.27 L383.9,63.2 L385.46,63.27 L386.98,63.5 L388.4,63.86 L389.69,64.35 L390.79,64.95 L391.69,65.65 L392.36,66.42 L392.76,67.25Z" fill="#d6d6d6" stroke="#333" stroke-width="0.4" stroke-opacity="0.6"/>
<path d="M391.64,68.1 L391.52,68.83 L391.17,69.54 L390.6,70.21 L389.83,70.81 L388.88,71.33 L387.77,71.75 L386.55,72.06 L385.24,72.25 L383.9,72.31 L382.56,72.25 L381.25,72.06 L380.03,71.75 L378.92,71.33 L377.97,70.81 L377.2,70.21 L376.63,69.54 L376.28,68.83 L376.16,68.1 L376.28,67.37 L376.63,66.66 L377.2,65.99 L377.97,65.39 L378.92,64.87 L380.03,64.45 L381.25,64.14 L382.56,63.95 L383.9,63.89 L385.24,63.95 L386.55,64.14 L387.77,64.45 L388.88,64.87 L389.83,65.39 L390.6,65.99 L391.17,66.66 L391.52,67.37Z" fill="#5a5a5a" stroke="#333" stroke-width="0.4" stroke-opacity="0.6"/>
<path d="M390.2,68.1 L390.1,68.7 L389.82,69.27 L389.36,69.81 L388.73,70.3 L387.95,70.73 L387.05,71.07 L386.05,71.32 L384.99,71.48 L383.9,71.53 L382.81,71.48 L381.75,71.32 L380.75,71.07 L379.85,70.73 L379.07,70.3 L378.44,69.81 L377.98,69.27 L377.7,68.7 L377.6,68.1 L377.7,67.5 L377.98,66.93 L378.44,66.38 L379.07,65.9 L379.85,65.47 L380.75,65.13 L381.75,64.88 L382.81,64.72 L383.9,64.67 L384.99,64.72 L386.05,64.88 L387.05,65.13 L387.95,65.47 L388.73,65.9 L389.36,66.38 L389.82,66.93 L390.1,67.5Z" fill="#4e4e4e" stroke="#333" stroke-width="0.4" stroke-opacity="0.6"/>
<path d="M388.76,68.1 L388.69,68.56 L388.47,69 L388.11,69.42 L387.62,69.8 L387.02,70.13 L386.33,70.39 L385.56,70.59 L384.74,70.71 L383.9,70.75 L383.06,70.71 L382.24,70.59 L381.47,70.39 L380.78,70.13 L380.18,69.8 L379.69,69.42 L379.33,69 L379.11,68.56 L379.04,68.1 L379.11,67.64 L379.33,67.2 L379.69,66.78 L380.18,66.4 L380.78,66.07 L381.47,65.81 L382.24,65.61 L383.06,65.49 L383.9,65.45 L384.74,65.49 L385.56,65.61 L386.33,65.81 L387.02,66.07 L387.62,66.4 L388.11,66.78 L388.47,67.2 L388.69,67.64Z" fill="#8a8a8a" stroke="#333" stroke-width="0.4" stroke-opacity="0.6"/>
<path d="M387.14,68.1 L387.09,68.41 L386.94,68.7 L386.71,68.98 L386.38,69.23 L385.98,69.45 L385.52,69.63 L385.01,69.76 L384.46,69.84 L383.9,69.86 L383.34,69.84 L382.79,69.76 L382.28,69.63 L381.82,69.45 L381.42,69.23 L381.09,68.98 L380.86,68.7 L380.71,68.41 L380.66,68.1 L380.71,67.79 L380.86,67.5 L381.09,67.22 L381.42,66.97 L381.82,66.75 L382.28,66.57 L382.79,66.44 L383.34,66.36 L383.9,66.34 L384.46,66.36 L385.01,66.44 L385.52,66.57 L385.98,66.75 L386.38,66.97 L386.71,67.22 L386.94,67.5 L387.09,67.79Z" fill="#bdbdbd" stroke="#333" stroke-width="0.4" stroke-opacity="0.6"/>
<ellipse cx="399.85" cy="68.6" rx="18.45" ry="0.5" fill="#e8e8e8"/>
<path d="M429.31,139.19 L429.21,140.81 L428.59,142.4 L427.47,143.89 L425.87,145.22 L423.84,146.32 L421.45,147.16 L418.76,147.72 L415.86,147.99 L412.83,147.99 L409.79,147.75 L406.81,147.3 L404,146.71 L401.45,146.02 L399.23,145.29 L397.41,144.58 L396.06,143.91 L395.21,143.32 L394.89,142.81 L395.1,142.24 L395.81,141.49 L396.99,140.56 L398.61,139.48 L400.64,138.3 L402.99,137.1 L405.62,135.93 L408.44,134.88 L411.37,134.01 L414.32,133.38 L417.21,133.04 L419.96,133.03 L422.48,133.36 L424.69,134.01 L426.53,134.98 L427.94,136.2 L428.88,137.63Z" fill="#e8e8e8" stroke="#333" stroke-width="0.4" stroke-opacity="0.6"/>
<path d="M428.17,139.31 L428.09,140.73 L427.54,142.13 L426.55,143.45 L425.15,144.61 L423.36,145.58 L421.25,146.32 L418.89,146.81 L416.33,147.05 L413.68,147.05 L410.99,146.84 L408.38,146.45 L405.9,145.93 L403.65,145.32 L401.7,144.68 L400.1,144.05 L398.91,143.46 L398.17,142.94 L397.89,142.49 L398.07,142 L398.69,141.33 L399.73,140.51 L401.16,139.56 L402.94,138.53 L405.01,137.47 L407.32,136.44 L409.81,135.52 L412.38,134.75 L414.98,134.2 L417.53,133.9 L419.95,133.89 L422.16,134.18 L424.11,134.75 L425.73,135.6 L426.97,136.68 L427.79,137.94Z" fill="#c2c2c2" stroke="#333" stroke-width="0.4" stroke-opacity="0.6"/>
<path d="M427.03,139.43 L426.96,140.66 L426.49,141.87 L425.64,143 L424.42,144.01 L422.88,144.85 L421.06,145.49 L419.02,145.91 L416.81,146.12 L414.52,146.12 L412.2,145.93 L409.94,145.59 L407.8,145.14 L405.86,144.62 L404.17,144.07 L402.79,143.52 L401.77,143.02 L401.12,142.57 L400.88,142.18 L401.04,141.75 L401.57,141.18 L402.47,140.47 L403.71,139.65 L405.24,138.76 L407.04,137.84 L409.03,136.96 L411.17,136.15 L413.4,135.49 L415.65,135.01 L417.84,134.76 L419.93,134.75 L421.85,135 L423.53,135.5 L424.93,136.23 L426,137.16 L426.71,138.24Z" fill="#9a9a9a" stroke="#333" stroke-width="0.4" stroke-opacity="0.6"/>
<path d="M425.71,139.57 L425.65,140.57 L425.27,141.56 L424.57,142.48 L423.58,143.3 L422.32,143.99 L420.84,144.51 L419.17,144.86 L417.37,145.02 L415.5,145.02 L413.61,144.87 L411.76,144.6 L410.02,144.23 L408.44,143.8 L407.06,143.35 L405.94,142.91 L405.1,142.49 L404.57,142.13 L404.37,141.81 L404.5,141.46 L404.94,140.99 L405.67,140.42 L406.68,139.75 L407.93,139.02 L409.4,138.27 L411.02,137.55 L412.77,136.9 L414.59,136.36 L416.42,135.97 L418.21,135.76 L419.92,135.75 L421.48,135.95 L422.85,136.36 L423.99,136.96 L424.86,137.72 L425.44,138.6Z" fill="#7c7c7c" stroke="#333" stroke-width="0.4" stroke-opacity="0.6"/>
<path d="M424.2,139.73 L424.15,140.47 L423.87,141.2 L423.35,141.89 L422.61,142.5 L421.68,143.01 L420.58,143.39 L419.34,143.65 L418.01,143.78 L416.62,143.78 L415.22,143.66 L413.85,143.46 L412.56,143.19 L411.38,142.87 L410.36,142.54 L409.52,142.21 L408.9,141.9 L408.51,141.63 L408.37,141.39 L408.46,141.13 L408.79,140.79 L409.33,140.36 L410.08,139.86 L411.01,139.32 L412.09,138.77 L413.3,138.23 L414.6,137.75 L415.94,137.35 L417.3,137.06 L418.63,136.9 L419.9,136.9 L421.05,137.04 L422.07,137.35 L422.92,137.79 L423.57,138.35 L424,139.01Z" fill="#6c6c6c" stroke="#333" stroke-width="0.4" stroke-opacity="0.6"/>
<path d="M422.68,139.89 L422.65,140.37 L422.47,140.85 L422.13,141.3 L421.65,141.69 L421.04,142.03 L420.32,142.28 L419.52,142.45 L418.65,142.53 L417.74,142.53 L416.83,142.45 L415.93,142.32 L415.09,142.14 L414.32,141.94 L413.66,141.72 L413.11,141.5 L412.71,141.3 L412.45,141.13 L412.36,140.97 L412.42,140.8 L412.63,140.58 L412.99,140.3 L413.47,139.97 L414.08,139.62 L414.79,139.26 L415.58,138.91 L416.42,138.59 L417.3,138.33 L418.19,138.14 L419.05,138.04 L419.88,138.04 L420.63,138.14 L421.3,138.33 L421.85,138.62 L422.27,138.99 L422.55,139.42Z" fill="#7a7a7a" stroke="#333" stroke-width="0.4" stroke-opacity="0.6"/>
<ellipse cx="415.56" cy="142.2" rx="9.69" ry="0.5" transform="rotate(0 415.56 142.2)" fill="#d0d0d0"/>
<ellipse cx="397.8" cy="142.5" rx="2.5" ry="1.6" fill="none" stroke="#aaa" stroke-width="0.4"/>
<path d="M420.6,219 L420.38,219.81 L419.73,220.6 L418.67,221.33 L417.23,221.97 L415.46,222.52 L413.4,222.94 L411.13,223.23 L408.7,223.38 L406.2,223.38 L403.7,223.25 L401.27,222.98 L399,222.59 L396.94,222.1 L395.17,221.54 L393.73,220.91 L392.67,220.26 L392.02,219.61 L391.8,219 L392.02,218.39 L392.67,217.74 L393.73,217.09 L395.17,216.46 L396.94,215.9 L399,215.41 L401.27,215.02 L403.7,214.75 L406.2,214.62 L408.7,214.62 L411.13,214.77 L413.4,215.06 L415.46,215.48 L417.23,216.03 L418.67,216.67 L419.73,217.4 L420.38,218.19Z" fill="#e2e2e2" stroke="#333" stroke-width="0.4" stroke-opacity="0.6"/>
<path d="M419.16,219 L418.96,219.73 L418.38,220.44 L417.42,221.09 L416.13,221.68 L414.53,222.17 L412.68,222.55 L410.63,222.81 L408.45,222.94 L406.2,222.95 L403.95,222.82 L401.77,222.58 L399.72,222.23 L397.87,221.79 L396.27,221.28 L394.98,220.72 L394.02,220.14 L393.44,219.55 L393.24,219 L393.44,218.45 L394.02,217.86 L394.98,217.28 L396.27,216.72 L397.87,216.21 L399.72,215.77 L401.77,215.42 L403.95,215.18 L406.2,215.05 L408.45,215.06 L410.63,215.19 L412.68,215.45 L414.53,215.83 L416.13,216.32 L417.42,216.91 L418.38,217.56 L418.96,218.27Z" fill="#a0a0a0" stroke="#333" stroke-width="0.4" stroke-opacity="0.6"/>
<path d="M417.72,219 L417.54,219.65 L417.03,220.28 L416.18,220.86 L415.02,221.38 L413.6,221.81 L411.96,222.15 L410.14,222.39 L408.2,222.5 L406.2,222.51 L404.2,222.4 L402.26,222.18 L400.44,221.87 L398.8,221.48 L397.38,221.03 L396.22,220.53 L395.37,220.01 L394.86,219.49 L394.68,219 L394.86,218.51 L395.37,217.99 L396.22,217.47 L397.38,216.97 L398.8,216.52 L400.44,216.13 L402.26,215.82 L404.2,215.6 L406.2,215.49 L408.2,215.5 L410.14,215.61 L411.96,215.85 L413.6,216.19 L415.02,216.62 L416.18,217.14 L417.03,217.72 L417.54,218.35Z" fill="#606060" stroke="#333" stroke-width="0.4" stroke-opacity="0.6"/>
<path d="M415.99,219 L415.84,219.55 L415.4,220.09 L414.68,220.58 L413.7,221.02 L412.49,221.39 L411.1,221.68 L409.55,221.88 L407.9,221.98 L406.2,221.98 L404.5,221.89 L402.85,221.71 L401.3,221.44 L399.91,221.11 L398.7,220.72 L397.72,220.3 L397,219.86 L396.56,219.42 L396.41,219 L396.56,218.58 L397,218.14 L397.72,217.7 L398.7,217.28 L399.91,216.89 L401.3,216.56 L402.85,216.29 L404.5,216.11 L406.2,216.02 L407.9,216.02 L409.55,216.12 L411.1,216.32 L412.49,216.61 L413.7,216.98 L414.68,217.42 L415.4,217.91 L415.84,218.45Z" fill="#6e6e6e" stroke="#333" stroke-width="0.4" stroke-opacity="0.6"/>
<path d="M413.69,219 L413.57,219.42 L413.24,219.83 L412.68,220.21 L411.94,220.55 L411.01,220.83 L409.94,221.05 L408.76,221.2 L407.5,221.28 L406.2,221.28 L404.9,221.21 L403.64,221.07 L402.46,220.87 L401.39,220.61 L400.46,220.32 L399.72,219.99 L399.16,219.66 L398.83,219.32 L398.71,219 L398.83,218.68 L399.16,218.34 L399.72,218.01 L400.46,217.68 L401.39,217.39 L402.46,217.13 L403.64,216.93 L404.9,216.79 L406.2,216.72 L407.5,216.72 L408.76,216.8 L409.94,216.95 L411.01,217.17 L411.94,217.45 L412.68,217.79 L413.24,218.17 L413.57,218.58Z" fill="#8c8c8c" stroke="#333" stroke-width="0.4" stroke-opacity="0.6"/>
<path d="M411.1,219 L411.02,219.28 L410.8,219.54 L410.44,219.79 L409.95,220.01 L409.35,220.2 L408.65,220.34 L407.87,220.44 L407.05,220.49 L406.2,220.49 L405.35,220.44 L404.53,220.35 L403.75,220.22 L403.05,220.05 L402.45,219.86 L401.96,219.65 L401.6,219.43 L401.38,219.21 L401.3,219 L401.38,218.79 L401.6,218.57 L401.96,218.35 L402.45,218.14 L403.05,217.95 L403.75,217.78 L404.53,217.65 L405.35,217.56 L406.2,217.51 L407.05,217.51 L407.87,217.56 L408.65,217.66 L409.35,217.8 L409.95,217.99 L410.44,218.21 L410.8,218.46 L411.02,218.72Z" fill="#a8a8a8" stroke="#333" stroke-width="0.4" stroke-opacity="0.6"/>
<path d="M395.8,219 L395.66,219.71 L395.26,220.4 L394.59,221.05 L393.69,221.64 L392.59,222.14 L391.3,222.55 L389.88,222.85 L388.36,223.04 L386.8,223.1 L385.24,223.04 L383.72,222.85 L382.3,222.55 L381.01,222.14 L379.91,221.64 L379.01,221.05 L378.34,220.4 L377.94,219.71 L377.8,219 L377.94,218.29 L378.34,217.6 L379.01,216.95 L379.91,216.36 L381.01,215.86 L382.3,215.45 L383.72,215.15 L385.24,214.96 L386.8,214.9 L388.36,214.96 L389.88,215.15 L391.3,215.45 L392.59,215.86 L393.69,216.36 L394.59,216.95 L395.26,217.6 L395.66,218.29Z" fill="#d6d6d6" stroke="#333" stroke-width="0.4" stroke-opacity="0.6"/>
<path d="M394.54,219 L394.42,219.61 L394.07,220.21 L393.5,220.76 L392.73,221.27 L391.78,221.7 L390.67,222.05 L389.45,222.31 L388.14,222.47 L386.8,222.53 L385.46,222.47 L384.15,222.31 L382.93,222.05 L381.82,221.7 L380.87,221.27 L380.1,220.76 L379.53,220.21 L379.18,219.61 L379.06,219 L379.18,218.39 L379.53,217.79 L380.1,217.24 L380.87,216.73 L381.82,216.3 L382.93,215.95 L384.15,215.69 L385.46,215.53 L386.8,215.47 L388.14,215.53 L389.45,215.69 L390.67,215.95 L391.78,216.3 L392.73,216.73 L393.5,217.24 L394.07,217.79 L394.42,218.39Z" fill="#5a5a5a" stroke="#333" stroke-width="0.4" stroke-opacity="0.6"/>
<path d="M393.1,219 L393,219.5 L392.72,219.98 L392.26,220.44 L391.63,220.84 L390.85,221.2 L389.95,221.49 L388.95,221.7 L387.89,221.83 L386.8,221.87 L385.71,221.83 L384.65,221.7 L383.65,221.49 L382.75,221.2 L381.97,220.84 L381.34,220.44 L380.88,219.98 L380.6,219.5 L380.5,219 L380.6,218.5 L380.88,218.02 L381.34,217.56 L381.97,217.16 L382.75,216.8 L383.65,216.51 L384.65,216.3 L385.71,216.17 L386.8,216.13 L387.89,216.17 L388.95,216.3 L389.95,216.51 L390.85,216.8 L391.63,217.16 L392.26,217.56 L392.72,218.02 L393,218.5Z" fill="#4e4e4e" stroke="#333" stroke-width="0.4" stroke-opacity="0.6"/>
<path d="M391.66,219 L391.59,219.38 L391.37,219.76 L391.01,220.11 L390.52,220.42 L389.92,220.7 L389.23,220.92 L388.46,221.08 L387.64,221.18 L386.8,221.21 L385.96,221.18 L385.14,221.08 L384.37,220.92 L383.68,220.7 L383.08,220.42 L382.59,220.11 L382.23,219.76 L382.01,219.38 L381.94,219 L382.01,218.62 L382.23,218.24 L382.59,217.89 L383.08,217.58 L383.68,217.3 L384.37,217.08 L385.14,216.92 L385.96,216.82 L386.8,216.79 L387.64,216.82 L388.46,216.92 L389.23,217.08 L389.92,217.3 L390.52,217.58 L391.01,217.89 L391.37,218.24 L391.59,218.62Z" fill="#8a8a8a" stroke="#333" stroke-width="0.4" stroke-opacity="0.6"/>
<path d="M390.04,219 L389.99,219.26 L389.84,219.5 L389.61,219.74 L389.28,219.95 L388.88,220.13 L388.42,220.28 L387.91,220.39 L387.36,220.45 L386.8,220.48 L386.24,220.45 L385.69,220.39 L385.18,220.28 L384.72,220.13 L384.32,219.95 L383.99,219.74 L383.76,219.5 L383.61,219.26 L383.56,219 L383.61,218.74 L383.76,218.5 L383.99,218.26 L384.32,218.05 L384.72,217.87 L385.18,217.72 L385.69,217.61 L386.24,217.55 L386.8,217.52 L387.36,217.55 L387.91,217.61 L388.42,217.72 L388.88,217.87 L389.28,218.05 L389.61,218.26 L389.84,218.5 L389.99,218.74Z" fill="#bdbdbd" stroke="#333" stroke-width="0.4" stroke-opacity="0.6"/>
<ellipse cx="400.2" cy="219.5" rx="15.9" ry="0.5" fill="#e8e8e8"/>
<path d="M427.91,289.23 L427.82,290.84 L427.22,292.43 L426.12,293.92 L424.55,295.24 L422.57,296.34 L420.22,297.18 L417.59,297.73 L414.74,298 L411.78,297.99 L408.8,297.74 L405.88,297.29 L403.13,296.69 L400.62,296 L398.44,295.27 L396.66,294.54 L395.34,293.88 L394.51,293.28 L394.19,292.77 L394.39,292.21 L395.08,291.45 L396.24,290.52 L397.83,289.45 L399.81,288.28 L402.12,287.08 L404.69,285.92 L407.45,284.88 L410.32,284.01 L413.21,283.39 L416.04,283.06 L418.74,283.05 L421.2,283.38 L423.37,284.04 L425.18,285.01 L426.56,286.24 L427.48,287.67Z" fill="#e8e8e8" stroke="#333" stroke-width="0.4" stroke-opacity="0.6"/>
<path d="M426.79,289.35 L426.72,290.77 L426.19,292.17 L425.22,293.48 L423.84,294.64 L422.09,295.6 L420.03,296.34 L417.71,296.83 L415.21,297.06 L412.61,297.06 L409.98,296.84 L407.41,296.44 L404.99,295.91 L402.78,295.3 L400.87,294.66 L399.3,294.02 L398.13,293.43 L397.4,292.91 L397.13,292.46 L397.3,291.97 L397.91,291.3 L398.93,290.49 L400.33,289.54 L402.07,288.51 L404.1,287.46 L406.36,286.44 L408.79,285.51 L411.31,284.75 L413.86,284.21 L416.36,283.91 L418.72,283.91 L420.9,284.2 L422.81,284.78 L424.39,285.63 L425.61,286.71 L426.42,287.97Z" fill="#c2c2c2" stroke="#333" stroke-width="0.4" stroke-opacity="0.6"/>
<path d="M425.68,289.46 L425.61,290.69 L425.16,291.9 L424.32,293.03 L423.13,294.03 L421.62,294.87 L419.84,295.5 L417.84,295.92 L415.68,296.13 L413.43,296.12 L411.16,295.93 L408.94,295.59 L406.85,295.13 L404.94,294.61 L403.29,294.05 L401.94,293.5 L400.93,292.99 L400.3,292.54 L400.06,292.16 L400.21,291.73 L400.74,291.15 L401.61,290.45 L402.82,289.63 L404.33,288.74 L406.08,287.83 L408.03,286.95 L410.13,286.15 L412.31,285.5 L414.51,285.02 L416.67,284.77 L418.71,284.77 L420.59,285.02 L422.24,285.52 L423.61,286.26 L424.66,287.19 L425.36,288.28Z" fill="#9a9a9a" stroke="#333" stroke-width="0.4" stroke-opacity="0.6"/>
<path d="M424.38,289.6 L424.33,290.6 L423.96,291.59 L423.27,292.51 L422.3,293.33 L421.07,294.01 L419.62,294.53 L417.99,294.87 L416.22,295.03 L414.39,295.03 L412.54,294.88 L410.73,294.6 L409.02,294.23 L407.47,293.8 L406.12,293.34 L405.01,292.89 L404.19,292.48 L403.67,292.11 L403.48,291.8 L403.6,291.45 L404.03,290.98 L404.75,290.4 L405.74,289.74 L406.96,289.01 L408.39,288.27 L409.99,287.55 L411.7,286.9 L413.48,286.36 L415.27,285.98 L417.03,285.77 L418.7,285.77 L420.23,285.97 L421.57,286.38 L422.69,286.98 L423.55,287.74 L424.12,288.63Z" fill="#7c7c7c" stroke="#333" stroke-width="0.4" stroke-opacity="0.6"/>
<path d="M422.9,289.75 L422.86,290.5 L422.58,291.23 L422.08,291.91 L421.36,292.52 L420.44,293.03 L419.36,293.41 L418.15,293.67 L416.85,293.79 L415.48,293.78 L414.11,293.67 L412.77,293.46 L411.5,293.19 L410.35,292.87 L409.35,292.53 L408.53,292.2 L407.92,291.89 L407.54,291.62 L407.39,291.38 L407.48,291.12 L407.8,290.78 L408.33,290.35 L409.07,289.86 L409.98,289.32 L411.04,288.77 L412.22,288.23 L413.49,287.75 L414.81,287.35 L416.14,287.07 L417.44,286.92 L418.68,286.91 L419.82,287.06 L420.82,287.37 L421.65,287.81 L422.28,288.38 L422.71,289.04Z" fill="#6c6c6c" stroke="#333" stroke-width="0.4" stroke-opacity="0.6"/>
<path d="M421.42,289.91 L421.39,290.39 L421.21,290.87 L420.88,291.32 L420.41,291.71 L419.82,292.04 L419.11,292.3 L418.32,292.46 L417.47,292.54 L416.58,292.54 L415.68,292.46 L414.81,292.33 L413.98,292.15 L413.23,291.94 L412.58,291.72 L412.04,291.51 L411.65,291.3 L411.4,291.13 L411.3,290.97 L411.36,290.8 L411.57,290.58 L411.92,290.3 L412.39,289.98 L412.99,289.63 L413.68,289.27 L414.45,288.92 L415.28,288.6 L416.14,288.35 L417.01,288.16 L417.86,288.06 L418.67,288.06 L419.41,288.16 L420.06,288.35 L420.6,288.64 L421.01,289.01 L421.29,289.44Z" fill="#7a7a7a" stroke="#333" stroke-width="0.4" stroke-opacity="0.6"/>
<ellipse cx="414.44" cy="292.2" rx="9.49" ry="0.5" transform="rotate(0 414.44 292.2)" fill="#d0d0d0"/>
<ellipse cx="397.1" cy="292.5" rx="2.5" ry="1.6" fill="none" stroke="#aaa" stroke-width="0.4"/>
<path d="M422.27,366.07 L422.19,367.16 L421.79,368.21 L421.09,369.19 L420.1,370.04 L418.86,370.72 L417.4,371.22 L415.76,371.52 L414.01,371.62 L412.18,371.54 L410.34,371.29 L408.55,370.9 L406.87,370.42 L405.33,369.88 L404,369.33 L402.92,368.79 L402.11,368.31 L401.61,367.88 L401.43,367.53 L401.56,367.15 L402,366.66 L402.73,366.07 L403.73,365.39 L404.97,364.65 L406.41,363.91 L408.02,363.2 L409.73,362.57 L411.52,362.06 L413.31,361.72 L415.07,361.58 L416.73,361.65 L418.24,361.94 L419.57,362.45 L420.67,363.15 L421.5,364.02 L422.04,365.01Z" fill="#e8e8e8" stroke="#333" stroke-width="0.4" stroke-opacity="0.6"/>
<path d="M421.59,366.12 L421.51,367.08 L421.16,368.01 L420.54,368.86 L419.67,369.61 L418.58,370.21 L417.29,370.65 L415.86,370.92 L414.31,371.01 L412.7,370.93 L411.09,370.71 L409.51,370.37 L408.03,369.95 L406.68,369.47 L405.51,368.99 L404.55,368.52 L403.84,368.09 L403.4,367.71 L403.24,367.4 L403.36,367.07 L403.74,366.64 L404.38,366.12 L405.26,365.52 L406.36,364.87 L407.63,364.22 L409.04,363.59 L410.55,363.04 L412.12,362.59 L413.7,362.29 L415.24,362.17 L416.71,362.23 L418.04,362.48 L419.21,362.93 L420.17,363.55 L420.9,364.31 L421.38,365.18Z" fill="#c2c2c2" stroke="#333" stroke-width="0.4" stroke-opacity="0.6"/>
<path d="M420.9,366.17 L420.84,366.99 L420.53,367.8 L420,368.54 L419.25,369.18 L418.3,369.7 L417.19,370.08 L415.95,370.31 L414.61,370.39 L413.23,370.32 L411.83,370.13 L410.47,369.84 L409.19,369.47 L408.02,369.06 L407.01,368.64 L406.19,368.24 L405.57,367.87 L405.19,367.54 L405.05,367.28 L405.15,366.99 L405.49,366.62 L406.04,366.17 L406.8,365.65 L407.74,365.09 L408.84,364.52 L410.06,363.98 L411.37,363.5 L412.72,363.12 L414.09,362.86 L415.42,362.75 L416.68,362.81 L417.84,363.03 L418.84,363.41 L419.68,363.95 L420.31,364.6 L420.72,365.36Z" fill="#9a9a9a" stroke="#333" stroke-width="0.4" stroke-opacity="0.6"/>
<path d="M420.1,366.22 L420.04,366.9 L419.8,367.55 L419.36,368.16 L418.75,368.68 L417.98,369.11 L417.07,369.42 L416.06,369.6 L414.97,369.67 L413.84,369.61 L412.7,369.46 L411.59,369.22 L410.54,368.92 L409.59,368.59 L408.77,368.24 L408.09,367.91 L407.59,367.61 L407.28,367.35 L407.17,367.13 L407.25,366.89 L407.52,366.59 L407.98,366.22 L408.6,365.8 L409.36,365.34 L410.26,364.88 L411.26,364.44 L412.32,364.05 L413.43,363.74 L414.54,363.53 L415.63,363.44 L416.66,363.48 L417.6,363.66 L418.42,363.98 L419.1,364.41 L419.62,364.95 L419.95,365.56Z" fill="#7c7c7c" stroke="#333" stroke-width="0.4" stroke-opacity="0.6"/>
<path d="M419.18,366.29 L419.14,366.79 L418.96,367.27 L418.63,367.72 L418.18,368.11 L417.61,368.43 L416.93,368.66 L416.18,368.8 L415.38,368.84 L414.54,368.8 L413.69,368.69 L412.87,368.51 L412.09,368.29 L411.38,368.04 L410.77,367.79 L410.27,367.54 L409.9,367.32 L409.67,367.12 L409.59,366.96 L409.65,366.79 L409.85,366.56 L410.19,366.29 L410.65,365.97 L411.22,365.64 L411.88,365.29 L412.62,364.97 L413.41,364.68 L414.23,364.44 L415.06,364.29 L415.86,364.22 L416.63,364.25 L417.32,364.39 L417.93,364.62 L418.44,364.94 L418.82,365.34 L419.07,365.8Z" fill="#6c6c6c" stroke="#333" stroke-width="0.4" stroke-opacity="0.6"/>
<path d="M418.26,366.35 L418.24,366.68 L418.12,366.99 L417.91,367.29 L417.61,367.54 L417.24,367.75 L416.8,367.9 L416.31,367.99 L415.78,368.02 L415.23,367.99 L414.68,367.92 L414.14,367.8 L413.64,367.66 L413.18,367.5 L412.78,367.33 L412.45,367.17 L412.21,367.02 L412.06,366.9 L412.01,366.79 L412.05,366.68 L412.18,366.53 L412.4,366.35 L412.7,366.15 L413.07,365.93 L413.5,365.7 L413.98,365.49 L414.5,365.3 L415.03,365.15 L415.57,365.05 L416.1,365 L416.6,365.02 L417.05,365.11 L417.45,365.26 L417.78,365.47 L418.03,365.73 L418.19,366.03Z" fill="#7a7a7a" stroke="#333" stroke-width="0.4" stroke-opacity="0.6"/>
<ellipse cx="413.94" cy="368" rx="5.85" ry="0.5" transform="rotate(0 413.94 368)" fill="#d0d0d0"/>
<ellipse cx="404.4" cy="368.3" rx="2.5" ry="1.6" fill="none" stroke="#aaa" stroke-width="0.4"/>
<path d="M503.98,66.79 L503.8,68.42 L503.1,70 L501.9,71.45 L500.23,72.71 L498.15,73.71 L495.71,74.44 L493,74.86 L490.09,74.98 L487.07,74.81 L484.04,74.4 L481.09,73.79 L478.32,73.04 L475.8,72.21 L473.62,71.35 L471.85,70.53 L470.53,69.78 L469.71,69.14 L469.42,68.61 L469.66,68.04 L470.4,67.32 L471.63,66.44 L473.31,65.43 L475.39,64.35 L477.81,63.26 L480.49,62.23 L483.36,61.31 L486.33,60.59 L489.31,60.11 L492.22,59.92 L494.96,60.06 L497.46,60.52 L499.64,61.31 L501.42,62.38 L502.77,63.7 L503.63,65.19Z" fill="#e8e8e8" stroke="#333" stroke-width="0.4" stroke-opacity="0.6"/>
<path d="M502.84,66.85 L502.68,68.29 L502.06,69.68 L501.01,70.95 L499.54,72.06 L497.71,72.94 L495.57,73.58 L493.18,73.95 L490.62,74.05 L487.96,73.91 L485.29,73.55 L482.7,73.01 L480.26,72.35 L478.04,71.62 L476.12,70.87 L474.56,70.14 L473.4,69.48 L472.69,68.92 L472.43,68.45 L472.64,67.95 L473.29,67.32 L474.37,66.54 L475.85,65.66 L477.68,64.71 L479.81,63.75 L482.17,62.83 L484.69,62.03 L487.3,61.39 L489.93,60.97 L492.49,60.81 L494.9,60.93 L497.1,61.34 L499.02,62.03 L500.59,62.97 L501.77,64.13 L502.53,65.44Z" fill="#c2c2c2" stroke="#333" stroke-width="0.4" stroke-opacity="0.6"/>
<path d="M501.7,66.91 L501.56,68.15 L501.03,69.35 L500.12,70.45 L498.85,71.41 L497.27,72.17 L495.42,72.72 L493.35,73.04 L491.14,73.13 L488.85,73.01 L486.55,72.7 L484.31,72.23 L482.2,71.66 L480.28,71.03 L478.63,70.38 L477.28,69.75 L476.28,69.18 L475.66,68.7 L475.44,68.29 L475.61,67.86 L476.18,67.31 L477.11,66.64 L478.39,65.88 L479.97,65.06 L481.81,64.23 L483.84,63.44 L486.03,62.75 L488.28,62.2 L490.55,61.83 L492.76,61.69 L494.84,61.79 L496.74,62.15 L498.4,62.74 L499.76,63.56 L500.78,64.56 L501.43,65.7Z" fill="#9a9a9a" stroke="#333" stroke-width="0.4" stroke-opacity="0.6"/>
<path d="M500.37,66.98 L500.26,67.99 L499.82,68.97 L499.08,69.87 L498.04,70.65 L496.75,71.27 L495.24,71.72 L493.56,71.98 L491.76,72.06 L489.89,71.96 L488.01,71.7 L486.18,71.32 L484.46,70.86 L482.9,70.34 L481.55,69.81 L480.44,69.3 L479.63,68.84 L479.12,68.44 L478.94,68.11 L479.09,67.76 L479.55,67.31 L480.31,66.76 L481.35,66.14 L482.64,65.47 L484.14,64.79 L485.8,64.15 L487.58,63.58 L489.42,63.13 L491.27,62.84 L493.08,62.72 L494.78,62.81 L496.33,63.1 L497.67,63.58 L498.78,64.25 L499.62,65.06 L500.15,65.99Z" fill="#7c7c7c" stroke="#333" stroke-width="0.4" stroke-opacity="0.6"/>
<path d="M498.85,67.06 L498.76,67.81 L498.44,68.54 L497.89,69.21 L497.12,69.78 L496.17,70.25 L495.04,70.58 L493.8,70.77 L492.46,70.83 L491.07,70.75 L489.68,70.56 L488.32,70.28 L487.04,69.94 L485.88,69.55 L484.88,69.16 L484.07,68.78 L483.46,68.44 L483.08,68.14 L482.95,67.9 L483.06,67.64 L483.4,67.3 L483.97,66.9 L484.74,66.44 L485.7,65.94 L486.81,65.44 L488.04,64.96 L489.36,64.54 L490.73,64.21 L492.1,63.99 L493.44,63.9 L494.7,63.96 L495.85,64.18 L496.85,64.54 L497.67,65.03 L498.29,65.64 L498.69,66.33Z" fill="#6c6c6c" stroke="#333" stroke-width="0.4" stroke-opacity="0.6"/>
<path d="M497.32,67.14 L497.27,67.63 L497.06,68.11 L496.7,68.54 L496.2,68.92 L495.58,69.22 L494.85,69.44 L494.03,69.56 L493.16,69.6 L492.25,69.55 L491.34,69.43 L490.46,69.24 L489.63,69.02 L488.87,68.77 L488.22,68.51 L487.69,68.26 L487.29,68.04 L487.05,67.85 L486.96,67.69 L487.03,67.52 L487.25,67.3 L487.62,67.04 L488.13,66.73 L488.75,66.41 L489.47,66.08 L490.28,65.77 L491.14,65.5 L492.03,65.28 L492.93,65.14 L493.8,65.08 L494.62,65.12 L495.37,65.26 L496.02,65.5 L496.56,65.82 L496.96,66.21 L497.22,66.66Z" fill="#7a7a7a" stroke="#333" stroke-width="0.4" stroke-opacity="0.6"/>
<ellipse cx="492.93" cy="68.3" rx="6.23" ry="0.8" transform="rotate(0 492.93 68.3)" fill="#f8f8f8"/>
<ellipse cx="472.9" cy="68.5" rx="3" ry="1.8" fill="none" stroke="#aaa" stroke-width="0.4"/>
<path d="M504.78,142.1 L504.66,143.66 L504.13,145.17 L503.22,146.55 L501.94,147.73 L500.33,148.68 L498.45,149.35 L496.35,149.73 L494.1,149.81 L491.76,149.63 L489.41,149.21 L487.11,148.59 L484.96,147.84 L483,147.02 L481.3,146.18 L479.91,145.37 L478.89,144.64 L478.25,144.02 L478.02,143.5 L478.19,142.97 L478.76,142.28 L479.71,141.44 L481,140.5 L482.6,139.48 L484.46,138.46 L486.53,137.49 L488.75,136.64 L491.04,135.97 L493.35,135.54 L495.6,135.39 L497.73,135.55 L499.67,136.02 L501.36,136.79 L502.76,137.84 L503.82,139.11 L504.5,140.56Z" fill="#e8e8e8" stroke="#333" stroke-width="0.4" stroke-opacity="0.6"/>
<path d="M503.9,142.14 L503.79,143.52 L503.33,144.85 L502.52,146.06 L501.4,147.1 L499.98,147.94 L498.33,148.53 L496.48,148.86 L494.5,148.93 L492.44,148.77 L490.37,148.4 L488.35,147.86 L486.45,147.2 L484.73,146.48 L483.23,145.74 L482.02,145.03 L481.11,144.38 L480.55,143.83 L480.35,143.38 L480.5,142.91 L481,142.3 L481.83,141.57 L482.97,140.73 L484.38,139.84 L486.02,138.94 L487.84,138.09 L489.79,137.34 L491.81,136.75 L493.84,136.38 L495.82,136.24 L497.69,136.38 L499.4,136.79 L500.89,137.47 L502.12,138.4 L503.05,139.52 L503.65,140.79Z" fill="#c2c2c2" stroke="#333" stroke-width="0.4" stroke-opacity="0.6"/>
<path d="M503.02,142.19 L502.92,143.38 L502.52,144.52 L501.83,145.57 L500.85,146.47 L499.63,147.19 L498.21,147.7 L496.61,147.99 L494.9,148.06 L493.12,147.91 L491.33,147.59 L489.59,147.13 L487.95,146.56 L486.46,145.93 L485.17,145.29 L484.12,144.68 L483.34,144.12 L482.85,143.65 L482.68,143.26 L482.81,142.85 L483.24,142.33 L483.96,141.69 L484.94,140.97 L486.16,140.2 L487.57,139.42 L489.15,138.69 L490.83,138.04 L492.57,137.53 L494.33,137.21 L496.04,137.09 L497.66,137.21 L499.13,137.57 L500.42,138.16 L501.48,138.95 L502.28,139.92 L502.8,141.02Z" fill="#9a9a9a" stroke="#333" stroke-width="0.4" stroke-opacity="0.6"/>
<path d="M501.98,142.25 L501.91,143.21 L501.58,144.15 L501.01,145 L500.22,145.74 L499.23,146.33 L498.06,146.74 L496.76,146.98 L495.36,147.03 L493.91,146.91 L492.45,146.65 L491.03,146.27 L489.69,145.81 L488.48,145.3 L487.43,144.77 L486.57,144.27 L485.93,143.82 L485.53,143.43 L485.39,143.11 L485.5,142.78 L485.85,142.36 L486.44,141.84 L487.24,141.25 L488.23,140.62 L489.39,139.99 L490.67,139.39 L492.04,138.86 L493.47,138.45 L494.9,138.18 L496.29,138.09 L497.61,138.18 L498.82,138.48 L499.87,138.95 L500.73,139.6 L501.39,140.39 L501.81,141.29Z" fill="#7c7c7c" stroke="#333" stroke-width="0.4" stroke-opacity="0.6"/>
<path d="M500.81,142.31 L500.75,143.03 L500.51,143.72 L500.09,144.35 L499.5,144.9 L498.76,145.33 L497.9,145.64 L496.93,145.82 L495.89,145.86 L494.82,145.77 L493.73,145.58 L492.68,145.29 L491.69,144.95 L490.79,144.57 L490,144.18 L489.37,143.81 L488.9,143.48 L488.6,143.19 L488.5,142.95 L488.58,142.71 L488.84,142.39 L489.27,142.01 L489.87,141.57 L490.6,141.1 L491.46,140.63 L492.41,140.19 L493.43,139.79 L494.49,139.49 L495.55,139.29 L496.58,139.22 L497.56,139.29 L498.46,139.51 L499.24,139.87 L499.88,140.35 L500.36,140.93 L500.68,141.6Z" fill="#6c6c6c" stroke="#333" stroke-width="0.4" stroke-opacity="0.6"/>
<path d="M499.63,142.37 L499.59,142.84 L499.44,143.29 L499.16,143.7 L498.78,144.06 L498.3,144.34 L497.73,144.54 L497.1,144.66 L496.42,144.68 L495.72,144.63 L495.02,144.5 L494.33,144.32 L493.68,144.09 L493.09,143.85 L492.58,143.59 L492.17,143.35 L491.86,143.13 L491.67,142.94 L491.6,142.79 L491.65,142.63 L491.82,142.42 L492.11,142.17 L492.5,141.89 L492.98,141.58 L493.53,141.28 L494.15,140.99 L494.82,140.73 L495.51,140.53 L496.2,140.4 L496.88,140.36 L497.51,140.4 L498.1,140.54 L498.6,140.78 L499.02,141.09 L499.34,141.47 L499.54,141.91Z" fill="#7a7a7a" stroke="#333" stroke-width="0.4" stroke-opacity="0.6"/>
<ellipse cx="496.22" cy="143.4" rx="4.82" ry="0.8" transform="rotate(0 496.22 143.4)" fill="#f8f8f8"/>
<ellipse cx="481.5" cy="143.6" rx="3" ry="1.8" fill="none" stroke="#aaa" stroke-width="0.4"/>
<path d="M495.4,219.6 L495.21,220.77 L494.66,221.87 L493.76,222.87 L492.53,223.71 L491.02,224.36 L489.27,224.78 L487.34,224.98 L485.28,224.96 L483.15,224.73 L481.02,224.32 L478.96,223.77 L477.02,223.13 L475.28,222.43 L473.77,221.73 L472.54,221.08 L471.64,220.49 L471.09,219.99 L470.9,219.6 L471.09,219.21 L471.64,218.71 L472.54,218.12 L473.77,217.47 L475.28,216.77 L477.02,216.07 L478.96,215.43 L481.02,214.88 L483.15,214.47 L485.28,214.24 L487.34,214.22 L489.27,214.42 L491.02,214.84 L492.53,215.49 L493.76,216.33 L494.66,217.33 L495.21,218.43Z" fill="#e8e8e8" stroke="#333" stroke-width="0.4" stroke-opacity="0.6"/>
<path d="M494.59,219.6 L494.43,220.63 L493.94,221.6 L493.15,222.48 L492.07,223.22 L490.74,223.78 L489.2,224.16 L487.5,224.34 L485.68,224.32 L483.81,224.11 L481.94,223.75 L480.12,223.27 L478.42,222.7 L476.88,222.09 L475.55,221.48 L474.48,220.9 L473.68,220.38 L473.2,219.95 L473.03,219.6 L473.2,219.25 L473.68,218.82 L474.48,218.3 L475.55,217.72 L476.88,217.11 L478.42,216.5 L480.12,215.93 L481.94,215.45 L483.81,215.09 L485.68,214.88 L487.5,214.86 L489.2,215.04 L490.74,215.42 L492.07,215.98 L493.15,216.72 L493.94,217.6 L494.43,218.57Z" fill="#c2c2c2" stroke="#333" stroke-width="0.4" stroke-opacity="0.6"/>
<path d="M493.78,219.6 L493.64,220.49 L493.22,221.33 L492.54,222.09 L491.6,222.72 L490.46,223.21 L489.13,223.54 L487.66,223.69 L486.09,223.67 L484.47,223.5 L482.86,223.19 L481.29,222.77 L479.82,222.28 L478.49,221.75 L477.34,221.22 L476.41,220.72 L475.72,220.27 L475.3,219.9 L475.16,219.6 L475.3,219.3 L475.72,218.93 L476.41,218.48 L477.34,217.98 L478.49,217.45 L479.82,216.92 L481.29,216.43 L482.86,216.01 L484.47,215.7 L486.09,215.53 L487.66,215.51 L489.13,215.66 L490.46,215.99 L491.6,216.48 L492.54,217.11 L493.22,217.87 L493.64,218.71Z" fill="#9a9a9a" stroke="#333" stroke-width="0.4" stroke-opacity="0.6"/>
<path d="M492.84,219.6 L492.72,220.32 L492.38,221.01 L491.82,221.63 L491.06,222.15 L490.13,222.55 L489.04,222.81 L487.84,222.94 L486.56,222.92 L485.24,222.78 L483.93,222.53 L482.65,222.19 L481.45,221.79 L480.36,221.36 L479.43,220.92 L478.67,220.51 L478.11,220.15 L477.77,219.84 L477.65,219.6 L477.77,219.36 L478.11,219.05 L478.67,218.69 L479.43,218.28 L480.36,217.84 L481.45,217.41 L482.65,217.01 L483.93,216.67 L485.24,216.42 L486.56,216.28 L487.84,216.26 L489.04,216.39 L490.13,216.65 L491.06,217.05 L491.82,217.57 L492.38,218.19 L492.72,218.88Z" fill="#7c7c7c" stroke="#333" stroke-width="0.4" stroke-opacity="0.6"/>
<path d="M491.76,219.6 L491.68,220.14 L491.42,220.65 L491.01,221.1 L490.44,221.49 L489.75,221.79 L488.94,221.98 L488.05,222.08 L487.11,222.07 L486.13,221.96 L485.15,221.77 L484.2,221.52 L483.31,221.22 L482.5,220.9 L481.81,220.58 L481.25,220.28 L480.83,220.01 L480.58,219.78 L480.49,219.6 L480.58,219.42 L480.83,219.19 L481.25,218.92 L481.81,218.62 L482.5,218.3 L483.31,217.98 L484.2,217.68 L485.15,217.43 L486.13,217.24 L487.11,217.13 L488.05,217.12 L488.94,217.22 L489.75,217.41 L490.44,217.71 L491.01,218.1 L491.42,218.55 L491.68,219.06Z" fill="#6c6c6c" stroke="#333" stroke-width="0.4" stroke-opacity="0.6"/>
<path d="M490.68,219.6 L490.63,219.95 L490.46,220.28 L490.19,220.58 L489.82,220.83 L489.37,221.03 L488.85,221.15 L488.27,221.21 L487.65,221.21 L487.01,221.14 L486.37,221.02 L485.75,220.85 L485.17,220.66 L484.65,220.45 L484.19,220.24 L483.83,220.04 L483.56,219.87 L483.39,219.72 L483.33,219.6 L483.39,219.48 L483.56,219.33 L483.83,219.16 L484.19,218.96 L484.65,218.75 L485.17,218.54 L485.75,218.35 L486.37,218.18 L487.01,218.06 L487.65,217.99 L488.27,217.99 L488.85,218.05 L489.37,218.17 L489.82,218.37 L490.19,218.62 L490.46,218.92 L490.63,219.25Z" fill="#7a7a7a" stroke="#333" stroke-width="0.4" stroke-opacity="0.6"/>
<ellipse cx="487.56" cy="220.2" rx="4.41" ry="0.8" transform="rotate(0 487.56 220.2)" fill="#f8f8f8"/>
<ellipse cx="474.4" cy="220.4" rx="3" ry="1.8" fill="none" stroke="#aaa" stroke-width="0.4"/>
<path d="M503.98,290.3 L503.86,291.93 L503.35,293.5 L502.44,294.93 L501.17,296.17 L499.58,297.15 L497.72,297.84 L495.63,298.23 L493.4,298.31 L491.07,298.11 L488.74,297.67 L486.46,297.02 L484.32,296.24 L482.37,295.37 L480.68,294.49 L479.3,293.65 L478.28,292.89 L477.65,292.23 L477.42,291.7 L477.59,291.14 L478.15,290.42 L479.09,289.56 L480.37,288.57 L481.96,287.52 L483.8,286.46 L485.85,285.45 L488.05,284.57 L490.33,283.89 L492.62,283.45 L494.85,283.3 L496.96,283.46 L498.89,283.96 L500.58,284.77 L501.96,285.86 L503.02,287.19 L503.7,288.7Z" fill="#e8e8e8" stroke="#333" stroke-width="0.4" stroke-opacity="0.6"/>
<path d="M503.11,290.35 L503,291.78 L502.55,293.16 L501.75,294.42 L500.63,295.51 L499.23,296.37 L497.59,296.98 L495.76,297.32 L493.79,297.4 L491.75,297.22 L489.69,296.83 L487.69,296.26 L485.8,295.57 L484.09,294.81 L482.6,294.04 L481.39,293.29 L480.49,292.62 L479.93,292.05 L479.73,291.57 L479.88,291.08 L480.38,290.45 L481.2,289.69 L482.33,288.83 L483.72,287.9 L485.35,286.97 L487.15,286.08 L489.09,285.31 L491.09,284.7 L493.1,284.31 L495.07,284.18 L496.93,284.33 L498.63,284.76 L500.11,285.48 L501.33,286.44 L502.25,287.61 L502.85,288.94Z" fill="#c2c2c2" stroke="#333" stroke-width="0.4" stroke-opacity="0.6"/>
<path d="M502.23,290.4 L502.14,291.63 L501.75,292.82 L501.06,293.91 L500.09,294.85 L498.89,295.6 L497.47,296.12 L495.88,296.42 L494.18,296.48 L492.42,296.33 L490.64,295.99 L488.91,295.5 L487.28,294.91 L485.8,294.25 L484.52,293.58 L483.47,292.94 L482.7,292.36 L482.22,291.86 L482.04,291.45 L482.17,291.03 L482.6,290.49 L483.31,289.83 L484.28,289.08 L485.49,288.28 L486.89,287.47 L488.45,286.71 L490.12,286.04 L491.85,285.52 L493.59,285.18 L495.29,285.07 L496.9,285.2 L498.36,285.57 L499.64,286.19 L500.7,287.02 L501.49,288.03 L502.01,289.18Z" fill="#9a9a9a" stroke="#333" stroke-width="0.4" stroke-opacity="0.6"/>
<path d="M501.21,290.45 L501.13,291.46 L500.81,292.43 L500.25,293.32 L499.46,294.08 L498.48,294.69 L497.32,295.12 L496.03,295.36 L494.64,295.41 L493.2,295.29 L491.75,295.01 L490.34,294.61 L489.01,294.13 L487.81,293.59 L486.76,293.05 L485.91,292.52 L485.27,292.05 L484.88,291.65 L484.74,291.31 L484.84,290.97 L485.19,290.52 L485.77,289.99 L486.57,289.38 L487.55,288.72 L488.69,288.07 L489.97,287.44 L491.33,286.9 L492.74,286.47 L494.16,286.2 L495.55,286.1 L496.85,286.21 L498.05,286.51 L499.09,287.02 L499.96,287.7 L500.61,288.52 L501.03,289.45Z" fill="#7c7c7c" stroke="#333" stroke-width="0.4" stroke-opacity="0.6"/>
<path d="M500.04,290.51 L499.98,291.26 L499.74,291.98 L499.33,292.64 L498.75,293.21 L498.01,293.66 L497.16,293.98 L496.2,294.16 L495.17,294.19 L494.1,294.1 L493.02,293.9 L491.98,293.6 L490.99,293.24 L490.09,292.84 L489.32,292.44 L488.69,292.05 L488.22,291.7 L487.92,291.4 L487.82,291.15 L487.9,290.89 L488.16,290.57 L488.59,290.17 L489.18,289.71 L489.91,289.23 L490.75,288.74 L491.7,288.28 L492.71,287.88 L493.76,287.56 L494.81,287.36 L495.84,287.29 L496.81,287.36 L497.7,287.59 L498.47,287.96 L499.11,288.47 L499.59,289.08 L499.91,289.77Z" fill="#6c6c6c" stroke="#333" stroke-width="0.4" stroke-opacity="0.6"/>
<path d="M498.87,290.57 L498.83,291.06 L498.68,291.53 L498.41,291.96 L498.03,292.33 L497.55,292.63 L496.99,292.83 L496.36,292.95 L495.69,292.97 L495,292.91 L494.29,292.78 L493.61,292.59 L492.97,292.35 L492.38,292.09 L491.88,291.83 L491.47,291.58 L491.16,291.35 L490.97,291.15 L490.9,290.99 L490.95,290.82 L491.12,290.61 L491.4,290.35 L491.78,290.05 L492.26,289.74 L492.81,289.42 L493.43,289.12 L494.09,288.85 L494.77,288.65 L495.46,288.51 L496.13,288.47 L496.76,288.52 L497.34,288.67 L497.85,288.91 L498.26,289.24 L498.58,289.64 L498.78,290.09Z" fill="#7a7a7a" stroke="#333" stroke-width="0.4" stroke-opacity="0.6"/>
<ellipse cx="495.49" cy="291.6" rx="4.79" ry="0.8" transform="rotate(0 495.49 291.6)" fill="#f8f8f8"/>
<ellipse cx="480.9" cy="291.8" rx="3" ry="1.8" fill="none" stroke="#aaa" stroke-width="0.4"/>
<path d="M496.1,368.3 L495.95,369.38 L495.51,370.4 L494.79,371.33 L493.82,372.1 L492.62,372.7 L491.23,373.1 L489.68,373.28 L488.04,373.26 L486.35,373.05 L484.66,372.67 L483.02,372.16 L481.48,371.56 L480.08,370.92 L478.88,370.28 L477.91,369.67 L477.19,369.12 L476.75,368.67 L476.6,368.3 L476.75,367.93 L477.19,367.48 L477.91,366.93 L478.88,366.32 L480.08,365.68 L481.48,365.04 L483.02,364.44 L484.66,363.93 L486.35,363.55 L488.04,363.34 L489.68,363.32 L491.23,363.5 L492.62,363.9 L493.82,364.5 L494.79,365.27 L495.51,366.2 L495.95,367.22Z" fill="#e8e8e8" stroke="#333" stroke-width="0.4" stroke-opacity="0.6"/>
<path d="M495.46,368.3 L495.33,369.25 L494.94,370.15 L494.31,370.96 L493.45,371.65 L492.39,372.17 L491.17,372.52 L489.81,372.69 L488.37,372.67 L486.88,372.48 L485.39,372.15 L483.94,371.7 L482.59,371.17 L481.36,370.61 L480.3,370.04 L479.45,369.5 L478.81,369.02 L478.43,368.62 L478.3,368.3 L478.43,367.98 L478.81,367.58 L479.45,367.1 L480.3,366.56 L481.36,365.99 L482.59,365.43 L483.94,364.9 L485.39,364.45 L486.88,364.12 L488.37,363.93 L489.81,363.91 L491.17,364.08 L492.39,364.43 L493.45,364.95 L494.31,365.64 L494.94,366.45 L495.33,367.35Z" fill="#c2c2c2" stroke="#333" stroke-width="0.4" stroke-opacity="0.6"/>
<path d="M494.81,368.3 L494.7,369.12 L494.37,369.9 L493.82,370.6 L493.08,371.19 L492.17,371.65 L491.11,371.95 L489.94,372.09 L488.69,372.07 L487.4,371.91 L486.12,371.62 L484.87,371.23 L483.7,370.78 L482.64,370.29 L481.73,369.8 L480.99,369.34 L480.44,368.92 L480.11,368.58 L479.99,368.3 L480.11,368.02 L480.44,367.68 L480.99,367.26 L481.73,366.8 L482.64,366.31 L483.7,365.82 L484.87,365.37 L486.12,364.98 L487.4,364.69 L488.69,364.53 L489.94,364.51 L491.11,364.65 L492.17,364.95 L493.08,365.41 L493.82,366 L494.37,366.7 L494.7,367.48Z" fill="#9a9a9a" stroke="#333" stroke-width="0.4" stroke-opacity="0.6"/>
<path d="M494.06,368.3 L493.97,368.97 L493.7,369.6 L493.25,370.18 L492.65,370.66 L491.9,371.03 L491.04,371.28 L490.08,371.39 L489.07,371.38 L488.02,371.24 L486.97,371.01 L485.95,370.69 L484.99,370.32 L484.13,369.93 L483.39,369.53 L482.78,369.15 L482.34,368.81 L482.06,368.53 L481.97,368.3 L482.06,368.07 L482.34,367.79 L482.78,367.45 L483.39,367.07 L484.13,366.67 L484.99,366.28 L485.95,365.91 L486.97,365.59 L488.02,365.36 L489.07,365.22 L490.08,365.21 L491.04,365.32 L491.9,365.57 L492.65,365.94 L493.25,366.42 L493.7,367 L493.97,367.63Z" fill="#7c7c7c" stroke="#333" stroke-width="0.4" stroke-opacity="0.6"/>
<path d="M493.2,368.3 L493.14,368.8 L492.93,369.27 L492.6,369.69 L492.15,370.05 L491.6,370.33 L490.96,370.51 L490.25,370.59 L489.5,370.58 L488.72,370.48 L487.94,370.31 L487.19,370.08 L486.48,369.8 L485.84,369.51 L485.28,369.21 L484.84,368.93 L484.5,368.68 L484.3,368.47 L484.23,368.3 L484.3,368.13 L484.5,367.92 L484.84,367.67 L485.28,367.39 L485.84,367.09 L486.48,366.8 L487.19,366.52 L487.94,366.29 L488.72,366.12 L489.5,366.02 L490.25,366.01 L490.96,366.09 L491.6,366.27 L492.15,366.55 L492.6,366.91 L492.93,367.33 L493.14,367.8Z" fill="#6c6c6c" stroke="#333" stroke-width="0.4" stroke-opacity="0.6"/>
<path d="M492.35,368.3 L492.3,368.62 L492.17,368.93 L491.95,369.21 L491.66,369.44 L491.3,369.62 L490.88,369.74 L490.42,369.8 L489.93,369.79 L489.42,369.72 L488.91,369.61 L488.42,369.46 L487.96,369.28 L487.54,369.09 L487.18,368.89 L486.89,368.71 L486.67,368.55 L486.54,368.41 L486.5,368.3 L486.54,368.19 L486.67,368.05 L486.89,367.89 L487.18,367.71 L487.54,367.51 L487.96,367.32 L488.42,367.14 L488.91,366.99 L489.42,366.88 L489.93,366.81 L490.42,366.8 L490.88,366.86 L491.3,366.98 L491.66,367.16 L491.95,367.39 L492.17,367.67 L492.3,367.98Z" fill="#7a7a7a" stroke="#333" stroke-width="0.4" stroke-opacity="0.6"/>
<ellipse cx="489.86" cy="368.9" rx="3.51" ry="0.8" transform="rotate(0 489.86 368.9)" fill="#f8f8f8"/>
<ellipse cx="480.1" cy="369.1" rx="3" ry="1.8" fill="none" stroke="#aaa" stroke-width="0.4"/>
<rect x="208.5" y="16.3" width="67.8" height="67" fill="none" stroke="#231f20" stroke-width="1.0"/>
<line x1="208.2" y1="16.3" x2="208.2" y2="83.3" stroke="#231f20" stroke-width="1.2"/>
<line x1="205.9" y1="17.6" x2="208.5" y2="17.6" stroke="#333" stroke-width="0.8"/>
<line x1="205.9" y1="30.6" x2="208.5" y2="30.6" stroke="#333" stroke-width="0.8"/>
<line x1="205.9" y1="44.8" x2="208.5" y2="44.8" stroke="#333" stroke-width="0.8"/>
<line x1="205.9" y1="60.3" x2="208.5" y2="60.3" stroke="#333" stroke-width="0.8"/>
<line x1="205.9" y1="78.6" x2="208.5" y2="78.6" stroke="#333" stroke-width="0.8"/>
<line x1="206.5" y1="26.69" x2="208.5" y2="26.69" stroke="#333" stroke-width="0.6"/>
<line x1="206.5" y1="24.4" x2="208.5" y2="24.4" stroke="#333" stroke-width="0.6"/>
<line x1="206.5" y1="22.77" x2="208.5" y2="22.77" stroke="#333" stroke-width="0.6"/>
<line x1="206.5" y1="21.51" x2="208.5" y2="21.51" stroke="#333" stroke-width="0.6"/>
<line x1="206.5" y1="20.48" x2="208.5" y2="20.48" stroke="#333" stroke-width="0.6"/>
<line x1="206.5" y1="19.61" x2="208.5" y2="19.61" stroke="#333" stroke-width="0.6"/>
<line x1="206.5" y1="18.86" x2="208.5" y2="18.86" stroke="#333" stroke-width="0.6"/>
<line x1="206.5" y1="18.19" x2="208.5" y2="18.19" stroke="#333" stroke-width="0.6"/>
<line x1="206.5" y1="40.53" x2="208.5" y2="40.53" stroke="#333" stroke-width="0.6"/>
<line x1="206.5" y1="38.02" x2="208.5" y2="38.02" stroke="#333" stroke-width="0.6"/>
<line x1="206.5" y1="36.25" x2="208.5" y2="36.25" stroke="#333" stroke-width="0.6"/>
<line x1="206.5" y1="34.87" x2="208.5" y2="34.87" stroke="#333" stroke-width="0.6"/>
<line x1="206.5" y1="33.75" x2="208.5" y2="33.75" stroke="#333" stroke-width="0.6"/>
<line x1="206.5" y1="32.8" x2="208.5" y2="32.8" stroke="#333" stroke-width="0.6"/>
<line x1="206.5" y1="31.98" x2="208.5" y2="31.98" stroke="#333" stroke-width="0.6"/>
<line x1="206.5" y1="31.25" x2="208.5" y2="31.25" stroke="#333" stroke-width="0.6"/>
<line x1="206.5" y1="55.63" x2="208.5" y2="55.63" stroke="#333" stroke-width="0.6"/>
<line x1="206.5" y1="52.9" x2="208.5" y2="52.9" stroke="#333" stroke-width="0.6"/>
<line x1="206.5" y1="50.97" x2="208.5" y2="50.97" stroke="#333" stroke-width="0.6"/>
<line x1="206.5" y1="49.47" x2="208.5" y2="49.47" stroke="#333" stroke-width="0.6"/>
<line x1="206.5" y1="48.24" x2="208.5" y2="48.24" stroke="#333" stroke-width="0.6"/>
<line x1="206.5" y1="47.2" x2="208.5" y2="47.2" stroke="#333" stroke-width="0.6"/>
<line x1="206.5" y1="46.3" x2="208.5" y2="46.3" stroke="#333" stroke-width="0.6"/>
<line x1="206.5" y1="45.51" x2="208.5" y2="45.51" stroke="#333" stroke-width="0.6"/>
<line x1="206.5" y1="64.3" x2="208.5" y2="64.3" stroke="#333" stroke-width="0.6"/>
<line x1="206.5" y1="73.8" x2="208.5" y2="73.8" stroke="#333" stroke-width="0.6"/>
<rect x="206.1" y="68.3" width="2.2" height="1.9" fill="#1a1a1a"/>
<line x1="214.5" y1="85.3" x2="235.5" y2="85.3" stroke="#555" stroke-width="1.5" stroke-dasharray="2.2 0.6 1.4 0.5"/>
<line x1="236.5" y1="85.3" x2="273.3" y2="85.3" stroke="#666" stroke-width="1.4" stroke-dasharray="0.8 1.4 1.8 0.8 0.6 1.6"/>
<rect x="221.5" y="84.5" width="1.8" height="1.8" fill="#111"/>
<rect x="236.3" y="27.3" width="22.4" height="15.2" fill="none" stroke="#58595b" stroke-width="0.8"/>
<rect x="232.3" y="44.2" width="23.2" height="30.8" fill="none" stroke="#58595b" stroke-width="0.8"/>
<rect x="210.4" y="54.5" width="20.5" height="26.1" fill="none" stroke="#58595b" stroke-width="0.8"/>
<text x="247.6" y="25.4" font-size="7.1" text-anchor="middle">11.5</text>
<text x="217.6" y="52.1" font-size="7.1" text-anchor="middle">68.9</text>
<text x="263.7" y="62" font-size="7.1" text-anchor="middle">10.3</text>
<rect x="283.8" y="16.3" width="67.8" height="67" fill="none" stroke="#231f20" stroke-width="1.0"/>
<line x1="283.5" y1="16.3" x2="283.5" y2="83.3" stroke="#231f20" stroke-width="1.2"/>
<line x1="281.2" y1="17.6" x2="283.8" y2="17.6" stroke="#333" stroke-width="0.8"/>
<line x1="281.2" y1="30.6" x2="283.8" y2="30.6" stroke="#333" stroke-width="0.8"/>
<line x1="281.2" y1="44.8" x2="283.8" y2="44.8" stroke="#333" stroke-width="0.8"/>
<line x1="281.2" y1="60.3" x2="283.8" y2="60.3" stroke="#333" stroke-width="0.8"/>
<line x1="281.2" y1="78.6" x2="283.8" y2="78.6" stroke="#333" stroke-width="0.8"/>
<line x1="281.8" y1="26.69" x2="283.8" y2="26.69" stroke="#333" stroke-width="0.6"/>
<line x1="281.8" y1="24.4" x2="283.8" y2="24.4" stroke="#333" stroke-width="0.6"/>
<line x1="281.8" y1="22.77" x2="283.8" y2="22.77" stroke="#333" stroke-width="0.6"/>
<line x1="281.8" y1="21.51" x2="283.8" y2="21.51" stroke="#333" stroke-width="0.6"/>
<line x1="281.8" y1="20.48" x2="283.8" y2="20.48" stroke="#333" stroke-width="0.6"/>
<line x1="281.8" y1="19.61" x2="283.8" y2="19.61" stroke="#333" stroke-width="0.6"/>
<line x1="281.8" y1="18.86" x2="283.8" y2="18.86" stroke="#333" stroke-width="0.6"/>
<line x1="281.8" y1="18.19" x2="283.8" y2="18.19" stroke="#333" stroke-width="0.6"/>
<line x1="281.8" y1="40.53" x2="283.8" y2="40.53" stroke="#333" stroke-width="0.6"/>
<line x1="281.8" y1="38.02" x2="283.8" y2="38.02" stroke="#333" stroke-width="0.6"/>
<line x1="281.8" y1="36.25" x2="283.8" y2="36.25" stroke="#333" stroke-width="0.6"/>
<line x1="281.8" y1="34.87" x2="283.8" y2="34.87" stroke="#333" stroke-width="0.6"/>
<line x1="281.8" y1="33.75" x2="283.8" y2="33.75" stroke="#333" stroke-width="0.6"/>
<line x1="281.8" y1="32.8" x2="283.8" y2="32.8" stroke="#333" stroke-width="0.6"/>
<line x1="281.8" y1="31.98" x2="283.8" y2="31.98" stroke="#333" stroke-width="0.6"/>
<line x1="281.8" y1="31.25" x2="283.8" y2="31.25" stroke="#333" stroke-width="0.6"/>
<line x1="281.8" y1="55.63" x2="283.8" y2="55.63" stroke="#333" stroke-width="0.6"/>
<line x1="281.8" y1="52.9" x2="283.8" y2="52.9" stroke="#333" stroke-width="0.6"/>
<line x1="281.8" y1="50.97" x2="283.8" y2="50.97" stroke="#333" stroke-width="0.6"/>
<line x1="281.8" y1="49.47" x2="283.8" y2="49.47" stroke="#333" stroke-width="0.6"/>
<line x1="281.8" y1="48.24" x2="283.8" y2="48.24" stroke="#333" stroke-width="0.6"/>
<line x1="281.8" y1="47.2" x2="283.8" y2="47.2" stroke="#333" stroke-width="0.6"/>
<line x1="281.8" y1="46.3" x2="283.8" y2="46.3" stroke="#333" stroke-width="0.6"/>
<line x1="281.8" y1="45.51" x2="283.8" y2="45.51" stroke="#333" stroke-width="0.6"/>
<line x1="281.8" y1="64.3" x2="283.8" y2="64.3" stroke="#333" stroke-width="0.6"/>
<line x1="281.8" y1="73.8" x2="283.8" y2="73.8" stroke="#333" stroke-width="0.6"/>
<rect x="281.4" y="68.3" width="2.2" height="1.9" fill="#1a1a1a"/>
<line x1="289.8" y1="85.3" x2="310.8" y2="85.3" stroke="#555" stroke-width="1.5" stroke-dasharray="2.2 0.6 1.4 0.5"/>
<line x1="311.8" y1="85.3" x2="348.6" y2="85.3" stroke="#666" stroke-width="1.4" stroke-dasharray="0.8 1.4 1.8 0.8 0.6 1.6"/>
<rect x="296.8" y="84.5" width="1.8" height="1.8" fill="#111"/>
<rect x="287" y="26.2" width="18.8" height="23.4" fill="none" stroke="#58595b" stroke-width="0.8"/>
<rect x="306.7" y="25.6" width="43.5" height="24" fill="none" stroke="#58595b" stroke-width="0.8"/>
<text x="296.9" y="23.9" font-size="7.1" text-anchor="middle">50.0</text>
<text x="329" y="23.9" font-size="7.1" text-anchor="middle">47.6</text>
<rect x="369.6" y="16.3" width="67.8" height="67" fill="none" stroke="#231f20" stroke-width="1.0"/>
<line x1="369.3" y1="16.3" x2="369.3" y2="83.3" stroke="#231f20" stroke-width="1.2"/>
<line x1="367" y1="17.6" x2="369.6" y2="17.6" stroke="#333" stroke-width="0.8"/>
<line x1="367" y1="30.6" x2="369.6" y2="30.6" stroke="#333" stroke-width="0.8"/>
<line x1="367" y1="44.8" x2="369.6" y2="44.8" stroke="#333" stroke-width="0.8"/>
<line x1="367" y1="60.3" x2="369.6" y2="60.3" stroke="#333" stroke-width="0.8"/>
<line x1="367" y1="78.6" x2="369.6" y2="78.6" stroke="#333" stroke-width="0.8"/>
<line x1="367.6" y1="26.69" x2="369.6" y2="26.69" stroke="#333" stroke-width="0.6"/>
<line x1="367.6" y1="24.4" x2="369.6" y2="24.4" stroke="#333" stroke-width="0.6"/>
<line x1="367.6" y1="22.77" x2="369.6" y2="22.77" stroke="#333" stroke-width="0.6"/>
<line x1="367.6" y1="21.51" x2="369.6" y2="21.51" stroke="#333" stroke-width="0.6"/>
<line x1="367.6" y1="20.48" x2="369.6" y2="20.48" stroke="#333" stroke-width="0.6"/>
<line x1="367.6" y1="19.61" x2="369.6" y2="19.61" stroke="#333" stroke-width="0.6"/>
<line x1="367.6" y1="18.86" x2="369.6" y2="18.86" stroke="#333" stroke-width="0.6"/>
<line x1="367.6" y1="18.19" x2="369.6" y2="18.19" stroke="#333" stroke-width="0.6"/>
<line x1="367.6" y1="40.53" x2="369.6" y2="40.53" stroke="#333" stroke-width="0.6"/>
<line x1="367.6" y1="38.02" x2="369.6" y2="38.02" stroke="#333" stroke-width="0.6"/>
<line x1="367.6" y1="36.25" x2="369.6" y2="36.25" stroke="#333" stroke-width="0.6"/>
<line x1="367.6" y1="34.87" x2="369.6" y2="34.87" stroke="#333" stroke-width="0.6"/>
<line x1="367.6" y1="33.75" x2="369.6" y2="33.75" stroke="#333" stroke-width="0.6"/>
<line x1="367.6" y1="32.8" x2="369.6" y2="32.8" stroke="#333" stroke-width="0.6"/>
<line x1="367.6" y1="31.98" x2="369.6" y2="31.98" stroke="#333" stroke-width="0.6"/>
<line x1="367.6" y1="31.25" x2="369.6" y2="31.25" stroke="#333" stroke-width="0.6"/>
<line x1="367.6" y1="55.63" x2="369.6" y2="55.63" stroke="#333" stroke-width="0.6"/>
<line x1="367.6" y1="52.9" x2="369.6" y2="52.9" stroke="#333" stroke-width="0.6"/>
<line x1="367.6" y1="50.97" x2="369.6" y2="50.97" stroke="#333" stroke-width="0.6"/>
<line x1="367.6" y1="49.47" x2="369.6" y2="49.47" stroke="#333" stroke-width="0.6"/>
<line x1="367.6" y1="48.24" x2="369.6" y2="48.24" stroke="#333" stroke-width="0.6"/>
<line x1="367.6" y1="47.2" x2="369.6" y2="47.2" stroke="#333" stroke-width="0.6"/>
<line x1="367.6" y1="46.3" x2="369.6" y2="46.3" stroke="#333" stroke-width="0.6"/>
<line x1="367.6" y1="45.51" x2="369.6" y2="45.51" stroke="#333" stroke-width="0.6"/>
<line x1="367.6" y1="64.3" x2="369.6" y2="64.3" stroke="#333" stroke-width="0.6"/>
<line x1="367.6" y1="73.8" x2="369.6" y2="73.8" stroke="#333" stroke-width="0.6"/>
<rect x="367.2" y="68.3" width="2.2" height="1.9" fill="#1a1a1a"/>
<line x1="375.6" y1="85.3" x2="396.6" y2="85.3" stroke="#555" stroke-width="1.5" stroke-dasharray="2.2 0.6 1.4 0.5"/>
<line x1="397.6" y1="85.3" x2="434.4" y2="85.3" stroke="#666" stroke-width="1.4" stroke-dasharray="0.8 1.4 1.8 0.8 0.6 1.6"/>
<rect x="382.6" y="84.5" width="1.8" height="1.8" fill="#111"/>
<rect x="371.5" y="55.4" width="21.9" height="27.3" fill="none" stroke="#58595b" stroke-width="0.8"/>
<rect x="393.4" y="55.4" width="41.7" height="27.3" fill="none" stroke="#58595b" stroke-width="0.8"/>
<text x="382.5" y="53.1" font-size="7.1" text-anchor="middle">39.6</text>
<text x="414.8" y="53.1" font-size="7.1" text-anchor="middle">59.6</text>
<rect x="446" y="16.3" width="67.8" height="67" fill="none" stroke="#231f20" stroke-width="1.0"/>
<line x1="445.7" y1="16.3" x2="445.7" y2="83.3" stroke="#231f20" stroke-width="1.2"/>
<line x1="443.4" y1="17.6" x2="446" y2="17.6" stroke="#333" stroke-width="0.8"/>
<line x1="443.4" y1="30.6" x2="446" y2="30.6" stroke="#333" stroke-width="0.8"/>
<line x1="443.4" y1="44.8" x2="446" y2="44.8" stroke="#333" stroke-width="0.8"/>
<line x1="443.4" y1="60.3" x2="446" y2="60.3" stroke="#333" stroke-width="0.8"/>
<line x1="443.4" y1="78.6" x2="446" y2="78.6" stroke="#333" stroke-width="0.8"/>
<line x1="444" y1="26.69" x2="446" y2="26.69" stroke="#333" stroke-width="0.6"/>
<line x1="444" y1="24.4" x2="446" y2="24.4" stroke="#333" stroke-width="0.6"/>
<line x1="444" y1="22.77" x2="446" y2="22.77" stroke="#333" stroke-width="0.6"/>
<line x1="444" y1="21.51" x2="446" y2="21.51" stroke="#333" stroke-width="0.6"/>
<line x1="444" y1="20.48" x2="446" y2="20.48" stroke="#333" stroke-width="0.6"/>
<line x1="444" y1="19.61" x2="446" y2="19.61" stroke="#333" stroke-width="0.6"/>
<line x1="444" y1="18.86" x2="446" y2="18.86" stroke="#333" stroke-width="0.6"/>
<line x1="444" y1="18.19" x2="446" y2="18.19" stroke="#333" stroke-width="0.6"/>
<line x1="444" y1="40.53" x2="446" y2="40.53" stroke="#333" stroke-width="0.6"/>
<line x1="444" y1="38.02" x2="446" y2="38.02" stroke="#333" stroke-width="0.6"/>
<line x1="444" y1="36.25" x2="446" y2="36.25" stroke="#333" stroke-width="0.6"/>
<line x1="444" y1="34.87" x2="446" y2="34.87" stroke="#333" stroke-width="0.6"/>
<line x1="444" y1="33.75" x2="446" y2="33.75" stroke="#333" stroke-width="0.6"/>
<line x1="444" y1="32.8" x2="446" y2="32.8" stroke="#333" stroke-width="0.6"/>
<line x1="444" y1="31.98" x2="446" y2="31.98" stroke="#333" stroke-width="0.6"/>
<line x1="444" y1="31.25" x2="446" y2="31.25" stroke="#333" stroke-width="0.6"/>
<line x1="444" y1="55.63" x2="446" y2="55.63" stroke="#333" stroke-width="0.6"/>
<line x1="444" y1="52.9" x2="446" y2="52.9" stroke="#333" stroke-width="0.6"/>
<line x1="444" y1="50.97" x2="446" y2="50.97" stroke="#333" stroke-width="0.6"/>
<line x1="444" y1="49.47" x2="446" y2="49.47" stroke="#333" stroke-width="0.6"/>
<line x1="444" y1="48.24" x2="446" y2="48.24" stroke="#333" stroke-width="0.6"/>
<line x1="444" y1="47.2" x2="446" y2="47.2" stroke="#333" stroke-width="0.6"/>
<line x1="444" y1="46.3" x2="446" y2="46.3" stroke="#333" stroke-width="0.6"/>
<line x1="444" y1="45.51" x2="446" y2="45.51" stroke="#333" stroke-width="0.6"/>
<line x1="444" y1="64.3" x2="446" y2="64.3" stroke="#333" stroke-width="0.6"/>
<line x1="444" y1="73.8" x2="446" y2="73.8" stroke="#333" stroke-width="0.6"/>
<rect x="443.6" y="68.3" width="2.2" height="1.9" fill="#1a1a1a"/>
<line x1="452" y1="85.3" x2="473" y2="85.3" stroke="#555" stroke-width="1.5" stroke-dasharray="2.2 0.6 1.4 0.5"/>
<line x1="474" y1="85.3" x2="510.8" y2="85.3" stroke="#666" stroke-width="1.4" stroke-dasharray="0.8 1.4 1.8 0.8 0.6 1.6"/>
<rect x="459" y="84.5" width="1.8" height="1.8" fill="#111"/>
<line x1="446" y1="59.2" x2="513.8" y2="59.2" stroke="#4d4d4f" stroke-width="0.9"/>
<line x1="490.3" y1="16.3" x2="490.3" y2="83.3" stroke="#4d4d4f" stroke-width="0.9"/>
<text x="468" y="56.8" font-size="7.1" text-anchor="middle">51.4</text>
<text x="502.7" y="56.8" font-size="7.1" text-anchor="middle">48.4</text>
<rect x="208.5" y="91.3" width="67.8" height="67" fill="none" stroke="#231f20" stroke-width="1.0"/>
<line x1="208.2" y1="91.3" x2="208.2" y2="158.3" stroke="#231f20" stroke-width="1.2"/>
<line x1="205.9" y1="92.6" x2="208.5" y2="92.6" stroke="#333" stroke-width="0.8"/>
<line x1="205.9" y1="105.6" x2="208.5" y2="105.6" stroke="#333" stroke-width="0.8"/>
<line x1="205.9" y1="119.8" x2="208.5" y2="119.8" stroke="#333" stroke-width="0.8"/>
<line x1="205.9" y1="135.3" x2="208.5" y2="135.3" stroke="#333" stroke-width="0.8"/>
<line x1="205.9" y1="153.6" x2="208.5" y2="153.6" stroke="#333" stroke-width="0.8"/>
<line x1="206.5" y1="101.69" x2="208.5" y2="101.69" stroke="#333" stroke-width="0.6"/>
<line x1="206.5" y1="99.4" x2="208.5" y2="99.4" stroke="#333" stroke-width="0.6"/>
<line x1="206.5" y1="97.77" x2="208.5" y2="97.77" stroke="#333" stroke-width="0.6"/>
<line x1="206.5" y1="96.51" x2="208.5" y2="96.51" stroke="#333" stroke-width="0.6"/>
<line x1="206.5" y1="95.48" x2="208.5" y2="95.48" stroke="#333" stroke-width="0.6"/>
<line x1="206.5" y1="94.61" x2="208.5" y2="94.61" stroke="#333" stroke-width="0.6"/>
<line x1="206.5" y1="93.86" x2="208.5" y2="93.86" stroke="#333" stroke-width="0.6"/>
<line x1="206.5" y1="93.19" x2="208.5" y2="93.19" stroke="#333" stroke-width="0.6"/>
<line x1="206.5" y1="115.53" x2="208.5" y2="115.53" stroke="#333" stroke-width="0.6"/>
<line x1="206.5" y1="113.02" x2="208.5" y2="113.02" stroke="#333" stroke-width="0.6"/>
<line x1="206.5" y1="111.25" x2="208.5" y2="111.25" stroke="#333" stroke-width="0.6"/>
<line x1="206.5" y1="109.87" x2="208.5" y2="109.87" stroke="#333" stroke-width="0.6"/>
<line x1="206.5" y1="108.75" x2="208.5" y2="108.75" stroke="#333" stroke-width="0.6"/>
<line x1="206.5" y1="107.8" x2="208.5" y2="107.8" stroke="#333" stroke-width="0.6"/>
<line x1="206.5" y1="106.98" x2="208.5" y2="106.98" stroke="#333" stroke-width="0.6"/>
<line x1="206.5" y1="106.25" x2="208.5" y2="106.25" stroke="#333" stroke-width="0.6"/>
<line x1="206.5" y1="130.63" x2="208.5" y2="130.63" stroke="#333" stroke-width="0.6"/>
<line x1="206.5" y1="127.9" x2="208.5" y2="127.9" stroke="#333" stroke-width="0.6"/>
<line x1="206.5" y1="125.97" x2="208.5" y2="125.97" stroke="#333" stroke-width="0.6"/>
<line x1="206.5" y1="124.47" x2="208.5" y2="124.47" stroke="#333" stroke-width="0.6"/>
<line x1="206.5" y1="123.24" x2="208.5" y2="123.24" stroke="#333" stroke-width="0.6"/>
<line x1="206.5" y1="122.2" x2="208.5" y2="122.2" stroke="#333" stroke-width="0.6"/>
<line x1="206.5" y1="121.3" x2="208.5" y2="121.3" stroke="#333" stroke-width="0.6"/>
<line x1="206.5" y1="120.51" x2="208.5" y2="120.51" stroke="#333" stroke-width="0.6"/>
<line x1="206.5" y1="139.3" x2="208.5" y2="139.3" stroke="#333" stroke-width="0.6"/>
<line x1="206.5" y1="148.8" x2="208.5" y2="148.8" stroke="#333" stroke-width="0.6"/>
<rect x="206.1" y="143.3" width="2.2" height="1.9" fill="#1a1a1a"/>
<line x1="214.5" y1="160.3" x2="235.5" y2="160.3" stroke="#555" stroke-width="1.5" stroke-dasharray="2.2 0.6 1.4 0.5"/>
<line x1="236.5" y1="160.3" x2="273.3" y2="160.3" stroke="#666" stroke-width="1.4" stroke-dasharray="0.8 1.4 1.8 0.8 0.6 1.6"/>
<rect x="221.5" y="159.5" width="1.8" height="1.8" fill="#111"/>
<rect x="236.3" y="102.3" width="22.4" height="15.2" fill="none" stroke="#58595b" stroke-width="0.8"/>
<rect x="232.3" y="119.2" width="23.2" height="30.8" fill="none" stroke="#58595b" stroke-width="0.8"/>
<rect x="210.4" y="129.5" width="20.5" height="26.1" fill="none" stroke="#58595b" stroke-width="0.8"/>
<text x="247.6" y="100.4" font-size="7.1" text-anchor="middle">22.8</text>
<text x="217.6" y="127.1" font-size="7.1" text-anchor="middle">15.8</text>
<text x="263.7" y="137" font-size="7.1" text-anchor="middle">50.0</text>
<rect x="283.8" y="91.3" width="67.8" height="67" fill="none" stroke="#231f20" stroke-width="1.0"/>
<line x1="283.5" y1="91.3" x2="283.5" y2="158.3" stroke="#231f20" stroke-width="1.2"/>
<line x1="281.2" y1="92.6" x2="283.8" y2="92.6" stroke="#333" stroke-width="0.8"/>
<line x1="281.2" y1="105.6" x2="283.8" y2="105.6" stroke="#333" stroke-width="0.8"/>
<line x1="281.2" y1="119.8" x2="283.8" y2="119.8" stroke="#333" stroke-width="0.8"/>
<line x1="281.2" y1="135.3" x2="283.8" y2="135.3" stroke="#333" stroke-width="0.8"/>
<line x1="281.2" y1="153.6" x2="283.8" y2="153.6" stroke="#333" stroke-width="0.8"/>
<line x1="281.8" y1="101.69" x2="283.8" y2="101.69" stroke="#333" stroke-width="0.6"/>
<line x1="281.8" y1="99.4" x2="283.8" y2="99.4" stroke="#333" stroke-width="0.6"/>
<line x1="281.8" y1="97.77" x2="283.8" y2="97.77" stroke="#333" stroke-width="0.6"/>
<line x1="281.8" y1="96.51" x2="283.8" y2="96.51" stroke="#333" stroke-width="0.6"/>
<line x1="281.8" y1="95.48" x2="283.8" y2="95.48" stroke="#333" stroke-width="0.6"/>
<line x1="281.8" y1="94.61" x2="283.8" y2="94.61" stroke="#333" stroke-width="0.6"/>
<line x1="281.8" y1="93.86" x2="283.8" y2="93.86" stroke="#333" stroke-width="0.6"/>
<line x1="281.8" y1="93.19" x2="283.8" y2="93.19" stroke="#333" stroke-width="0.6"/>
<line x1="281.8" y1="115.53" x2="283.8" y2="115.53" stroke="#333" stroke-width="0.6"/>
<line x1="281.8" y1="113.02" x2="283.8" y2="113.02" stroke="#333" stroke-width="0.6"/>
<line x1="281.8" y1="111.25" x2="283.8" y2="111.25" stroke="#333" stroke-width="0.6"/>
<line x1="281.8" y1="109.87" x2="283.8" y2="109.87" stroke="#333" stroke-width="0.6"/>
<line x1="281.8" y1="108.75" x2="283.8" y2="108.75" stroke="#333" stroke-width="0.6"/>
<line x1="281.8" y1="107.8" x2="283.8" y2="107.8" stroke="#333" stroke-width="0.6"/>
<line x1="281.8" y1="106.98" x2="283.8" y2="106.98" stroke="#333" stroke-width="0.6"/>
<line x1="281.8" y1="106.25" x2="283.8" y2="106.25" stroke="#333" stroke-width="0.6"/>
<line x1="281.8" y1="130.63" x2="283.8" y2="130.63" stroke="#333" stroke-width="0.6"/>
<line x1="281.8" y1="127.9" x2="283.8" y2="127.9" stroke="#333" stroke-width="0.6"/>
<line x1="281.8" y1="125.97" x2="283.8" y2="125.97" stroke="#333" stroke-width="0.6"/>
<line x1="281.8" y1="124.47" x2="283.8" y2="124.47" stroke="#333" stroke-width="0.6"/>
<line x1="281.8" y1="123.24" x2="283.8" y2="123.24" stroke="#333" stroke-width="0.6"/>
<line x1="281.8" y1="122.2" x2="283.8" y2="122.2" stroke="#333" stroke-width="0.6"/>
<line x1="281.8" y1="121.3" x2="283.8" y2="121.3" stroke="#333" stroke-width="0.6"/>
<line x1="281.8" y1="120.51" x2="283.8" y2="120.51" stroke="#333" stroke-width="0.6"/>
<line x1="281.8" y1="139.3" x2="283.8" y2="139.3" stroke="#333" stroke-width="0.6"/>
<line x1="281.8" y1="148.8" x2="283.8" y2="148.8" stroke="#333" stroke-width="0.6"/>
<rect x="281.4" y="143.3" width="2.2" height="1.9" fill="#1a1a1a"/>
<line x1="289.8" y1="160.3" x2="310.8" y2="160.3" stroke="#555" stroke-width="1.5" stroke-dasharray="2.2 0.6 1.4 0.5"/>
<line x1="311.8" y1="160.3" x2="348.6" y2="160.3" stroke="#666" stroke-width="1.4" stroke-dasharray="0.8 1.4 1.8 0.8 0.6 1.6"/>
<rect x="296.8" y="159.5" width="1.8" height="1.8" fill="#111"/>
<rect x="287" y="101.2" width="18.8" height="23.4" fill="none" stroke="#58595b" stroke-width="0.8"/>
<rect x="306.7" y="100.6" width="43.5" height="24" fill="none" stroke="#58595b" stroke-width="0.8"/>
<text x="296.9" y="98.9" font-size="7.1" text-anchor="middle">41.3</text>
<text x="329" y="98.9" font-size="7.1" text-anchor="middle">56.2</text>
<rect x="369.6" y="91.3" width="67.8" height="67" fill="none" stroke="#231f20" stroke-width="1.0"/>
<line x1="369.3" y1="91.3" x2="369.3" y2="158.3" stroke="#231f20" stroke-width="1.2"/>
<line x1="367" y1="92.6" x2="369.6" y2="92.6" stroke="#333" stroke-width="0.8"/>
<line x1="367" y1="105.6" x2="369.6" y2="105.6" stroke="#333" stroke-width="0.8"/>
<line x1="367" y1="119.8" x2="369.6" y2="119.8" stroke="#333" stroke-width="0.8"/>
<line x1="367" y1="135.3" x2="369.6" y2="135.3" stroke="#333" stroke-width="0.8"/>
<line x1="367" y1="153.6" x2="369.6" y2="153.6" stroke="#333" stroke-width="0.8"/>
<line x1="367.6" y1="101.69" x2="369.6" y2="101.69" stroke="#333" stroke-width="0.6"/>
<line x1="367.6" y1="99.4" x2="369.6" y2="99.4" stroke="#333" stroke-width="0.6"/>
<line x1="367.6" y1="97.77" x2="369.6" y2="97.77" stroke="#333" stroke-width="0.6"/>
<line x1="367.6" y1="96.51" x2="369.6" y2="96.51" stroke="#333" stroke-width="0.6"/>
<line x1="367.6" y1="95.48" x2="369.6" y2="95.48" stroke="#333" stroke-width="0.6"/>
<line x1="367.6" y1="94.61" x2="369.6" y2="94.61" stroke="#333" stroke-width="0.6"/>
<line x1="367.6" y1="93.86" x2="369.6" y2="93.86" stroke="#333" stroke-width="0.6"/>
<line x1="367.6" y1="93.19" x2="369.6" y2="93.19" stroke="#333" stroke-width="0.6"/>
<line x1="367.6" y1="115.53" x2="369.6" y2="115.53" stroke="#333" stroke-width="0.6"/>
<line x1="367.6" y1="113.02" x2="369.6" y2="113.02" stroke="#333" stroke-width="0.6"/>
<line x1="367.6" y1="111.25" x2="369.6" y2="111.25" stroke="#333" stroke-width="0.6"/>
<line x1="367.6" y1="109.87" x2="369.6" y2="109.87" stroke="#333" stroke-width="0.6"/>
<line x1="367.6" y1="108.75" x2="369.6" y2="108.75" stroke="#333" stroke-width="0.6"/>
<line x1="367.6" y1="107.8" x2="369.6" y2="107.8" stroke="#333" stroke-width="0.6"/>
<line x1="367.6" y1="106.98" x2="369.6" y2="106.98" stroke="#333" stroke-width="0.6"/>
<line x1="367.6" y1="106.25" x2="369.6" y2="106.25" stroke="#333" stroke-width="0.6"/>
<line x1="367.6" y1="130.63" x2="369.6" y2="130.63" stroke="#333" stroke-width="0.6"/>
<line x1="367.6" y1="127.9" x2="369.6" y2="127.9" stroke="#333" stroke-width="0.6"/>
<line x1="367.6" y1="125.97" x2="369.6" y2="125.97" stroke="#333" stroke-width="0.6"/>
<line x1="367.6" y1="124.47" x2="369.6" y2="124.47" stroke="#333" stroke-width="0.6"/>
<line x1="367.6" y1="123.24" x2="369.6" y2="123.24" stroke="#333" stroke-width="0.6"/>
<line x1="367.6" y1="122.2" x2="369.6" y2="122.2" stroke="#333" stroke-width="0.6"/>
<line x1="367.6" y1="121.3" x2="369.6" y2="121.3" stroke="#333" stroke-width="0.6"/>
<line x1="367.6" y1="120.51" x2="369.6" y2="120.51" stroke="#333" stroke-width="0.6"/>
<line x1="367.6" y1="139.3" x2="369.6" y2="139.3" stroke="#333" stroke-width="0.6"/>
<line x1="367.6" y1="148.8" x2="369.6" y2="148.8" stroke="#333" stroke-width="0.6"/>
<rect x="367.2" y="143.3" width="2.2" height="1.9" fill="#1a1a1a"/>
<line x1="375.6" y1="160.3" x2="396.6" y2="160.3" stroke="#555" stroke-width="1.5" stroke-dasharray="2.2 0.6 1.4 0.5"/>
<line x1="397.6" y1="160.3" x2="434.4" y2="160.3" stroke="#666" stroke-width="1.4" stroke-dasharray="0.8 1.4 1.8 0.8 0.6 1.6"/>
<rect x="382.6" y="159.5" width="1.8" height="1.8" fill="#111"/>
<rect x="371.5" y="130.7" width="21.9" height="27" fill="none" stroke="#58595b" stroke-width="0.8"/>
<rect x="393.4" y="130.7" width="41.7" height="27" fill="none" stroke="#58595b" stroke-width="0.8"/>
<text x="382.5" y="128.4" font-size="7.1" text-anchor="middle">3.99</text>
<text x="414.8" y="128.4" font-size="7.1" text-anchor="middle">95.8</text>
<rect x="446" y="91.3" width="67.8" height="67" fill="none" stroke="#231f20" stroke-width="1.0"/>
<line x1="445.7" y1="91.3" x2="445.7" y2="158.3" stroke="#231f20" stroke-width="1.2"/>
<line x1="443.4" y1="92.6" x2="446" y2="92.6" stroke="#333" stroke-width="0.8"/>
<line x1="443.4" y1="105.6" x2="446" y2="105.6" stroke="#333" stroke-width="0.8"/>
<line x1="443.4" y1="119.8" x2="446" y2="119.8" stroke="#333" stroke-width="0.8"/>
<line x1="443.4" y1="135.3" x2="446" y2="135.3" stroke="#333" stroke-width="0.8"/>
<line x1="443.4" y1="153.6" x2="446" y2="153.6" stroke="#333" stroke-width="0.8"/>
<line x1="444" y1="101.69" x2="446" y2="101.69" stroke="#333" stroke-width="0.6"/>
<line x1="444" y1="99.4" x2="446" y2="99.4" stroke="#333" stroke-width="0.6"/>
<line x1="444" y1="97.77" x2="446" y2="97.77" stroke="#333" stroke-width="0.6"/>
<line x1="444" y1="96.51" x2="446" y2="96.51" stroke="#333" stroke-width="0.6"/>
<line x1="444" y1="95.48" x2="446" y2="95.48" stroke="#333" stroke-width="0.6"/>
<line x1="444" y1="94.61" x2="446" y2="94.61" stroke="#333" stroke-width="0.6"/>
<line x1="444" y1="93.86" x2="446" y2="93.86" stroke="#333" stroke-width="0.6"/>
<line x1="444" y1="93.19" x2="446" y2="93.19" stroke="#333" stroke-width="0.6"/>
<line x1="444" y1="115.53" x2="446" y2="115.53" stroke="#333" stroke-width="0.6"/>
<line x1="444" y1="113.02" x2="446" y2="113.02" stroke="#333" stroke-width="0.6"/>
<line x1="444" y1="111.25" x2="446" y2="111.25" stroke="#333" stroke-width="0.6"/>
<line x1="444" y1="109.87" x2="446" y2="109.87" stroke="#333" stroke-width="0.6"/>
<line x1="444" y1="108.75" x2="446" y2="108.75" stroke="#333" stroke-width="0.6"/>
<line x1="444" y1="107.8" x2="446" y2="107.8" stroke="#333" stroke-width="0.6"/>
<line x1="444" y1="106.98" x2="446" y2="106.98" stroke="#333" stroke-width="0.6"/>
<line x1="444" y1="106.25" x2="446" y2="106.25" stroke="#333" stroke-width="0.6"/>
<line x1="444" y1="130.63" x2="446" y2="130.63" stroke="#333" stroke-width="0.6"/>
<line x1="444" y1="127.9" x2="446" y2="127.9" stroke="#333" stroke-width="0.6"/>
<line x1="444" y1="125.97" x2="446" y2="125.97" stroke="#333" stroke-width="0.6"/>
<line x1="444" y1="124.47" x2="446" y2="124.47" stroke="#333" stroke-width="0.6"/>
<line x1="444" y1="123.24" x2="446" y2="123.24" stroke="#333" stroke-width="0.6"/>
<line x1="444" y1="122.2" x2="446" y2="122.2" stroke="#333" stroke-width="0.6"/>
<line x1="444" y1="121.3" x2="446" y2="121.3" stroke="#333" stroke-width="0.6"/>
<line x1="444" y1="120.51" x2="446" y2="120.51" stroke="#333" stroke-width="0.6"/>
<line x1="444" y1="139.3" x2="446" y2="139.3" stroke="#333" stroke-width="0.6"/>
<line x1="444" y1="148.8" x2="446" y2="148.8" stroke="#333" stroke-width="0.6"/>
<rect x="443.6" y="143.3" width="2.2" height="1.9" fill="#1a1a1a"/>
<line x1="452" y1="160.3" x2="473" y2="160.3" stroke="#555" stroke-width="1.5" stroke-dasharray="2.2 0.6 1.4 0.5"/>
<line x1="474" y1="160.3" x2="510.8" y2="160.3" stroke="#666" stroke-width="1.4" stroke-dasharray="0.8 1.4 1.8 0.8 0.6 1.6"/>
<rect x="459" y="159.5" width="1.8" height="1.8" fill="#111"/>
<line x1="446" y1="134.1" x2="513.8" y2="134.1" stroke="#4d4d4f" stroke-width="0.9"/>
<line x1="490.3" y1="91.3" x2="490.3" y2="158.3" stroke="#4d4d4f" stroke-width="0.9"/>
<text x="468" y="131.7" font-size="7.1" text-anchor="middle">17.9</text>
<text x="502.7" y="131.7" font-size="7.1" text-anchor="middle">81.9</text>
<rect x="208.5" y="166.9" width="67.8" height="67" fill="none" stroke="#231f20" stroke-width="1.0"/>
<line x1="208.2" y1="166.9" x2="208.2" y2="233.9" stroke="#231f20" stroke-width="1.2"/>
<line x1="205.9" y1="168.2" x2="208.5" y2="168.2" stroke="#333" stroke-width="0.8"/>
<line x1="205.9" y1="181.2" x2="208.5" y2="181.2" stroke="#333" stroke-width="0.8"/>
<line x1="205.9" y1="195.4" x2="208.5" y2="195.4" stroke="#333" stroke-width="0.8"/>
<line x1="205.9" y1="210.9" x2="208.5" y2="210.9" stroke="#333" stroke-width="0.8"/>
<line x1="205.9" y1="229.2" x2="208.5" y2="229.2" stroke="#333" stroke-width="0.8"/>
<line x1="206.5" y1="177.29" x2="208.5" y2="177.29" stroke="#333" stroke-width="0.6"/>
<line x1="206.5" y1="175" x2="208.5" y2="175" stroke="#333" stroke-width="0.6"/>
<line x1="206.5" y1="173.37" x2="208.5" y2="173.37" stroke="#333" stroke-width="0.6"/>
<line x1="206.5" y1="172.11" x2="208.5" y2="172.11" stroke="#333" stroke-width="0.6"/>
<line x1="206.5" y1="171.08" x2="208.5" y2="171.08" stroke="#333" stroke-width="0.6"/>
<line x1="206.5" y1="170.21" x2="208.5" y2="170.21" stroke="#333" stroke-width="0.6"/>
<line x1="206.5" y1="169.46" x2="208.5" y2="169.46" stroke="#333" stroke-width="0.6"/>
<line x1="206.5" y1="168.79" x2="208.5" y2="168.79" stroke="#333" stroke-width="0.6"/>
<line x1="206.5" y1="191.13" x2="208.5" y2="191.13" stroke="#333" stroke-width="0.6"/>
<line x1="206.5" y1="188.62" x2="208.5" y2="188.62" stroke="#333" stroke-width="0.6"/>
<line x1="206.5" y1="186.85" x2="208.5" y2="186.85" stroke="#333" stroke-width="0.6"/>
<line x1="206.5" y1="185.47" x2="208.5" y2="185.47" stroke="#333" stroke-width="0.6"/>
<line x1="206.5" y1="184.35" x2="208.5" y2="184.35" stroke="#333" stroke-width="0.6"/>
<line x1="206.5" y1="183.4" x2="208.5" y2="183.4" stroke="#333" stroke-width="0.6"/>
<line x1="206.5" y1="182.58" x2="208.5" y2="182.58" stroke="#333" stroke-width="0.6"/>
<line x1="206.5" y1="181.85" x2="208.5" y2="181.85" stroke="#333" stroke-width="0.6"/>
<line x1="206.5" y1="206.23" x2="208.5" y2="206.23" stroke="#333" stroke-width="0.6"/>
<line x1="206.5" y1="203.5" x2="208.5" y2="203.5" stroke="#333" stroke-width="0.6"/>
<line x1="206.5" y1="201.57" x2="208.5" y2="201.57" stroke="#333" stroke-width="0.6"/>
<line x1="206.5" y1="200.07" x2="208.5" y2="200.07" stroke="#333" stroke-width="0.6"/>
<line x1="206.5" y1="198.84" x2="208.5" y2="198.84" stroke="#333" stroke-width="0.6"/>
<line x1="206.5" y1="197.8" x2="208.5" y2="197.8" stroke="#333" stroke-width="0.6"/>
<line x1="206.5" y1="196.9" x2="208.5" y2="196.9" stroke="#333" stroke-width="0.6"/>
<line x1="206.5" y1="196.11" x2="208.5" y2="196.11" stroke="#333" stroke-width="0.6"/>
<line x1="206.5" y1="214.9" x2="208.5" y2="214.9" stroke="#333" stroke-width="0.6"/>
<line x1="206.5" y1="224.4" x2="208.5" y2="224.4" stroke="#333" stroke-width="0.6"/>
<rect x="206.1" y="218.9" width="2.2" height="1.9" fill="#1a1a1a"/>
<line x1="214.5" y1="235.9" x2="235.5" y2="235.9" stroke="#555" stroke-width="1.5" stroke-dasharray="2.2 0.6 1.4 0.5"/>
<line x1="236.5" y1="235.9" x2="273.3" y2="235.9" stroke="#666" stroke-width="1.4" stroke-dasharray="0.8 1.4 1.8 0.8 0.6 1.6"/>
<rect x="221.5" y="235.1" width="1.8" height="1.8" fill="#111"/>
<rect x="236.3" y="177.9" width="22.4" height="15.2" fill="none" stroke="#58595b" stroke-width="0.8"/>
<rect x="232.3" y="194.8" width="23.2" height="30.8" fill="none" stroke="#58595b" stroke-width="0.8"/>
<rect x="210.4" y="205.1" width="20.5" height="26.1" fill="none" stroke="#58595b" stroke-width="0.8"/>
<text x="247.6" y="176" font-size="7.1" text-anchor="middle">14.2</text>
<text x="217.6" y="202.7" font-size="7.1" text-anchor="middle">67.1</text>
<text x="263.7" y="212.6" font-size="7.1" text-anchor="middle">10.3</text>
<rect x="283.8" y="166.9" width="67.8" height="67" fill="none" stroke="#231f20" stroke-width="1.0"/>
<line x1="283.5" y1="166.9" x2="283.5" y2="233.9" stroke="#231f20" stroke-width="1.2"/>
<line x1="281.2" y1="168.2" x2="283.8" y2="168.2" stroke="#333" stroke-width="0.8"/>
<line x1="281.2" y1="181.2" x2="283.8" y2="181.2" stroke="#333" stroke-width="0.8"/>
<line x1="281.2" y1="195.4" x2="283.8" y2="195.4" stroke="#333" stroke-width="0.8"/>
<line x1="281.2" y1="210.9" x2="283.8" y2="210.9" stroke="#333" stroke-width="0.8"/>
<line x1="281.2" y1="229.2" x2="283.8" y2="229.2" stroke="#333" stroke-width="0.8"/>
<line x1="281.8" y1="177.29" x2="283.8" y2="177.29" stroke="#333" stroke-width="0.6"/>
<line x1="281.8" y1="175" x2="283.8" y2="175" stroke="#333" stroke-width="0.6"/>
<line x1="281.8" y1="173.37" x2="283.8" y2="173.37" stroke="#333" stroke-width="0.6"/>
<line x1="281.8" y1="172.11" x2="283.8" y2="172.11" stroke="#333" stroke-width="0.6"/>
<line x1="281.8" y1="171.08" x2="283.8" y2="171.08" stroke="#333" stroke-width="0.6"/>
<line x1="281.8" y1="170.21" x2="283.8" y2="170.21" stroke="#333" stroke-width="0.6"/>
<line x1="281.8" y1="169.46" x2="283.8" y2="169.46" stroke="#333" stroke-width="0.6"/>
<line x1="281.8" y1="168.79" x2="283.8" y2="168.79" stroke="#333" stroke-width="0.6"/>
<line x1="281.8" y1="191.13" x2="283.8" y2="191.13" stroke="#333" stroke-width="0.6"/>
<line x1="281.8" y1="188.62" x2="283.8" y2="188.62" stroke="#333" stroke-width="0.6"/>
<line x1="281.8" y1="186.85" x2="283.8" y2="186.85" stroke="#333" stroke-width="0.6"/>
<line x1="281.8" y1="185.47" x2="283.8" y2="185.47" stroke="#333" stroke-width="0.6"/>
<line x1="281.8" y1="184.35" x2="283.8" y2="184.35" stroke="#333" stroke-width="0.6"/>
<line x1="281.8" y1="183.4" x2="283.8" y2="183.4" stroke="#333" stroke-width="0.6"/>
<line x1="281.8" y1="182.58" x2="283.8" y2="182.58" stroke="#333" stroke-width="0.6"/>
<line x1="281.8" y1="181.85" x2="283.8" y2="181.85" stroke="#333" stroke-width="0.6"/>
<line x1="281.8" y1="206.23" x2="283.8" y2="206.23" stroke="#333" stroke-width="0.6"/>
<line x1="281.8" y1="203.5" x2="283.8" y2="203.5" stroke="#333" stroke-width="0.6"/>
<line x1="281.8" y1="201.57" x2="283.8" y2="201.57" stroke="#333" stroke-width="0.6"/>
<line x1="281.8" y1="200.07" x2="283.8" y2="200.07" stroke="#333" stroke-width="0.6"/>
<line x1="281.8" y1="198.84" x2="283.8" y2="198.84" stroke="#333" stroke-width="0.6"/>
<line x1="281.8" y1="197.8" x2="283.8" y2="197.8" stroke="#333" stroke-width="0.6"/>
<line x1="281.8" y1="196.9" x2="283.8" y2="196.9" stroke="#333" stroke-width="0.6"/>
<line x1="281.8" y1="196.11" x2="283.8" y2="196.11" stroke="#333" stroke-width="0.6"/>
<line x1="281.8" y1="214.9" x2="283.8" y2="214.9" stroke="#333" stroke-width="0.6"/>
<line x1="281.8" y1="224.4" x2="283.8" y2="224.4" stroke="#333" stroke-width="0.6"/>
<rect x="281.4" y="218.9" width="2.2" height="1.9" fill="#1a1a1a"/>
<line x1="289.8" y1="235.9" x2="310.8" y2="235.9" stroke="#555" stroke-width="1.5" stroke-dasharray="2.2 0.6 1.4 0.5"/>
<line x1="311.8" y1="235.9" x2="348.6" y2="235.9" stroke="#666" stroke-width="1.4" stroke-dasharray="0.8 1.4 1.8 0.8 0.6 1.6"/>
<rect x="296.8" y="235.1" width="1.8" height="1.8" fill="#111"/>
<rect x="287" y="176.8" width="18.8" height="23.4" fill="none" stroke="#58595b" stroke-width="0.8"/>
<rect x="306.7" y="176.2" width="43.5" height="24" fill="none" stroke="#58595b" stroke-width="0.8"/>
<text x="296.9" y="174.5" font-size="7.1" text-anchor="middle">63.4</text>
<text x="329" y="174.5" font-size="7.1" text-anchor="middle">33.4</text>
<rect x="369.6" y="166.9" width="67.8" height="67" fill="none" stroke="#231f20" stroke-width="1.0"/>
<line x1="369.3" y1="166.9" x2="369.3" y2="233.9" stroke="#231f20" stroke-width="1.2"/>
<line x1="367" y1="168.2" x2="369.6" y2="168.2" stroke="#333" stroke-width="0.8"/>
<line x1="367" y1="181.2" x2="369.6" y2="181.2" stroke="#333" stroke-width="0.8"/>
<line x1="367" y1="195.4" x2="369.6" y2="195.4" stroke="#333" stroke-width="0.8"/>
<line x1="367" y1="210.9" x2="369.6" y2="210.9" stroke="#333" stroke-width="0.8"/>
<line x1="367" y1="229.2" x2="369.6" y2="229.2" stroke="#333" stroke-width="0.8"/>
<line x1="367.6" y1="177.29" x2="369.6" y2="177.29" stroke="#333" stroke-width="0.6"/>
<line x1="367.6" y1="175" x2="369.6" y2="175" stroke="#333" stroke-width="0.6"/>
<line x1="367.6" y1="173.37" x2="369.6" y2="173.37" stroke="#333" stroke-width="0.6"/>
<line x1="367.6" y1="172.11" x2="369.6" y2="172.11" stroke="#333" stroke-width="0.6"/>
<line x1="367.6" y1="171.08" x2="369.6" y2="171.08" stroke="#333" stroke-width="0.6"/>
<line x1="367.6" y1="170.21" x2="369.6" y2="170.21" stroke="#333" stroke-width="0.6"/>
<line x1="367.6" y1="169.46" x2="369.6" y2="169.46" stroke="#333" stroke-width="0.6"/>
<line x1="367.6" y1="168.79" x2="369.6" y2="168.79" stroke="#333" stroke-width="0.6"/>
<line x1="367.6" y1="191.13" x2="369.6" y2="191.13" stroke="#333" stroke-width="0.6"/>
<line x1="367.6" y1="188.62" x2="369.6" y2="188.62" stroke="#333" stroke-width="0.6"/>
<line x1="367.6" y1="186.85" x2="369.6" y2="186.85" stroke="#333" stroke-width="0.6"/>
<line x1="367.6" y1="185.47" x2="369.6" y2="185.47" stroke="#333" stroke-width="0.6"/>
<line x1="367.6" y1="184.35" x2="369.6" y2="184.35" stroke="#333" stroke-width="0.6"/>
<line x1="367.6" y1="183.4" x2="369.6" y2="183.4" stroke="#333" stroke-width="0.6"/>
<line x1="367.6" y1="182.58" x2="369.6" y2="182.58" stroke="#333" stroke-width="0.6"/>
<line x1="367.6" y1="181.85" x2="369.6" y2="181.85" stroke="#333" stroke-width="0.6"/>
<line x1="367.6" y1="206.23" x2="369.6" y2="206.23" stroke="#333" stroke-width="0.6"/>
<line x1="367.6" y1="203.5" x2="369.6" y2="203.5" stroke="#333" stroke-width="0.6"/>
<line x1="367.6" y1="201.57" x2="369.6" y2="201.57" stroke="#333" stroke-width="0.6"/>
<line x1="367.6" y1="200.07" x2="369.6" y2="200.07" stroke="#333" stroke-width="0.6"/>
<line x1="367.6" y1="198.84" x2="369.6" y2="198.84" stroke="#333" stroke-width="0.6"/>
<line x1="367.6" y1="197.8" x2="369.6" y2="197.8" stroke="#333" stroke-width="0.6"/>
<line x1="367.6" y1="196.9" x2="369.6" y2="196.9" stroke="#333" stroke-width="0.6"/>
<line x1="367.6" y1="196.11" x2="369.6" y2="196.11" stroke="#333" stroke-width="0.6"/>
<line x1="367.6" y1="214.9" x2="369.6" y2="214.9" stroke="#333" stroke-width="0.6"/>
<line x1="367.6" y1="224.4" x2="369.6" y2="224.4" stroke="#333" stroke-width="0.6"/>
<rect x="367.2" y="218.9" width="2.2" height="1.9" fill="#1a1a1a"/>
<line x1="375.6" y1="235.9" x2="396.6" y2="235.9" stroke="#555" stroke-width="1.5" stroke-dasharray="2.2 0.6 1.4 0.5"/>
<line x1="397.6" y1="235.9" x2="434.4" y2="235.9" stroke="#666" stroke-width="1.4" stroke-dasharray="0.8 1.4 1.8 0.8 0.6 1.6"/>
<rect x="382.6" y="235.1" width="1.8" height="1.8" fill="#111"/>
<rect x="371.5" y="206.3" width="21.9" height="27" fill="none" stroke="#58595b" stroke-width="0.8"/>
<rect x="393.4" y="206.3" width="41.7" height="27" fill="none" stroke="#58595b" stroke-width="0.8"/>
<text x="382.5" y="204" font-size="7.1" text-anchor="middle">25.9</text>
<text x="414.8" y="204" font-size="7.1" text-anchor="middle">73.2</text>
<rect x="446" y="166.9" width="67.8" height="67" fill="none" stroke="#231f20" stroke-width="1.0"/>
<line x1="445.7" y1="166.9" x2="445.7" y2="233.9" stroke="#231f20" stroke-width="1.2"/>
<line x1="443.4" y1="168.2" x2="446" y2="168.2" stroke="#333" stroke-width="0.8"/>
<line x1="443.4" y1="181.2" x2="446" y2="181.2" stroke="#333" stroke-width="0.8"/>
<line x1="443.4" y1="195.4" x2="446" y2="195.4" stroke="#333" stroke-width="0.8"/>
<line x1="443.4" y1="210.9" x2="446" y2="210.9" stroke="#333" stroke-width="0.8"/>
<line x1="443.4" y1="229.2" x2="446" y2="229.2" stroke="#333" stroke-width="0.8"/>
<line x1="444" y1="177.29" x2="446" y2="177.29" stroke="#333" stroke-width="0.6"/>
<line x1="444" y1="175" x2="446" y2="175" stroke="#333" stroke-width="0.6"/>
<line x1="444" y1="173.37" x2="446" y2="173.37" stroke="#333" stroke-width="0.6"/>
<line x1="444" y1="172.11" x2="446" y2="172.11" stroke="#333" stroke-width="0.6"/>
<line x1="444" y1="171.08" x2="446" y2="171.08" stroke="#333" stroke-width="0.6"/>
<line x1="444" y1="170.21" x2="446" y2="170.21" stroke="#333" stroke-width="0.6"/>
<line x1="444" y1="169.46" x2="446" y2="169.46" stroke="#333" stroke-width="0.6"/>
<line x1="444" y1="168.79" x2="446" y2="168.79" stroke="#333" stroke-width="0.6"/>
<line x1="444" y1="191.13" x2="446" y2="191.13" stroke="#333" stroke-width="0.6"/>
<line x1="444" y1="188.62" x2="446" y2="188.62" stroke="#333" stroke-width="0.6"/>
<line x1="444" y1="186.85" x2="446" y2="186.85" stroke="#333" stroke-width="0.6"/>
<line x1="444" y1="185.47" x2="446" y2="185.47" stroke="#333" stroke-width="0.6"/>
<line x1="444" y1="184.35" x2="446" y2="184.35" stroke="#333" stroke-width="0.6"/>
<line x1="444" y1="183.4" x2="446" y2="183.4" stroke="#333" stroke-width="0.6"/>
<line x1="444" y1="182.58" x2="446" y2="182.58" stroke="#333" stroke-width="0.6"/>
<line x1="444" y1="181.85" x2="446" y2="181.85" stroke="#333" stroke-width="0.6"/>
<line x1="444" y1="206.23" x2="446" y2="206.23" stroke="#333" stroke-width="0.6"/>
<line x1="444" y1="203.5" x2="446" y2="203.5" stroke="#333" stroke-width="0.6"/>
<line x1="444" y1="201.57" x2="446" y2="201.57" stroke="#333" stroke-width="0.6"/>
<line x1="444" y1="200.07" x2="446" y2="200.07" stroke="#333" stroke-width="0.6"/>
<line x1="444" y1="198.84" x2="446" y2="198.84" stroke="#333" stroke-width="0.6"/>
<line x1="444" y1="197.8" x2="446" y2="197.8" stroke="#333" stroke-width="0.6"/>
<line x1="444" y1="196.9" x2="446" y2="196.9" stroke="#333" stroke-width="0.6"/>
<line x1="444" y1="196.11" x2="446" y2="196.11" stroke="#333" stroke-width="0.6"/>
<line x1="444" y1="214.9" x2="446" y2="214.9" stroke="#333" stroke-width="0.6"/>
<line x1="444" y1="224.4" x2="446" y2="224.4" stroke="#333" stroke-width="0.6"/>
<rect x="443.6" y="218.9" width="2.2" height="1.9" fill="#1a1a1a"/>
<line x1="452" y1="235.9" x2="473" y2="235.9" stroke="#555" stroke-width="1.5" stroke-dasharray="2.2 0.6 1.4 0.5"/>
<line x1="474" y1="235.9" x2="510.8" y2="235.9" stroke="#666" stroke-width="1.4" stroke-dasharray="0.8 1.4 1.8 0.8 0.6 1.6"/>
<rect x="459" y="235.1" width="1.8" height="1.8" fill="#111"/>
<line x1="446" y1="210" x2="513.8" y2="210" stroke="#4d4d4f" stroke-width="0.9"/>
<line x1="490.3" y1="166.9" x2="490.3" y2="233.9" stroke="#4d4d4f" stroke-width="0.9"/>
<text x="468" y="207.6" font-size="7.1" text-anchor="middle">89.5</text>
<text x="502.7" y="207.6" font-size="7.1" text-anchor="middle">10.5</text>
<rect x="208.5" y="242.3" width="67.8" height="67" fill="none" stroke="#231f20" stroke-width="1.0"/>
<line x1="208.2" y1="242.3" x2="208.2" y2="309.3" stroke="#231f20" stroke-width="1.2"/>
<line x1="205.9" y1="243.6" x2="208.5" y2="243.6" stroke="#333" stroke-width="0.8"/>
<line x1="205.9" y1="256.6" x2="208.5" y2="256.6" stroke="#333" stroke-width="0.8"/>
<line x1="205.9" y1="270.8" x2="208.5" y2="270.8" stroke="#333" stroke-width="0.8"/>
<line x1="205.9" y1="286.3" x2="208.5" y2="286.3" stroke="#333" stroke-width="0.8"/>
<line x1="205.9" y1="304.6" x2="208.5" y2="304.6" stroke="#333" stroke-width="0.8"/>
<line x1="206.5" y1="252.69" x2="208.5" y2="252.69" stroke="#333" stroke-width="0.6"/>
<line x1="206.5" y1="250.4" x2="208.5" y2="250.4" stroke="#333" stroke-width="0.6"/>
<line x1="206.5" y1="248.77" x2="208.5" y2="248.77" stroke="#333" stroke-width="0.6"/>
<line x1="206.5" y1="247.51" x2="208.5" y2="247.51" stroke="#333" stroke-width="0.6"/>
<line x1="206.5" y1="246.48" x2="208.5" y2="246.48" stroke="#333" stroke-width="0.6"/>
<line x1="206.5" y1="245.61" x2="208.5" y2="245.61" stroke="#333" stroke-width="0.6"/>
<line x1="206.5" y1="244.86" x2="208.5" y2="244.86" stroke="#333" stroke-width="0.6"/>
<line x1="206.5" y1="244.19" x2="208.5" y2="244.19" stroke="#333" stroke-width="0.6"/>
<line x1="206.5" y1="266.53" x2="208.5" y2="266.53" stroke="#333" stroke-width="0.6"/>
<line x1="206.5" y1="264.02" x2="208.5" y2="264.02" stroke="#333" stroke-width="0.6"/>
<line x1="206.5" y1="262.25" x2="208.5" y2="262.25" stroke="#333" stroke-width="0.6"/>
<line x1="206.5" y1="260.87" x2="208.5" y2="260.87" stroke="#333" stroke-width="0.6"/>
<line x1="206.5" y1="259.75" x2="208.5" y2="259.75" stroke="#333" stroke-width="0.6"/>
<line x1="206.5" y1="258.8" x2="208.5" y2="258.8" stroke="#333" stroke-width="0.6"/>
<line x1="206.5" y1="257.98" x2="208.5" y2="257.98" stroke="#333" stroke-width="0.6"/>
<line x1="206.5" y1="257.25" x2="208.5" y2="257.25" stroke="#333" stroke-width="0.6"/>
<line x1="206.5" y1="281.63" x2="208.5" y2="281.63" stroke="#333" stroke-width="0.6"/>
<line x1="206.5" y1="278.9" x2="208.5" y2="278.9" stroke="#333" stroke-width="0.6"/>
<line x1="206.5" y1="276.97" x2="208.5" y2="276.97" stroke="#333" stroke-width="0.6"/>
<line x1="206.5" y1="275.47" x2="208.5" y2="275.47" stroke="#333" stroke-width="0.6"/>
<line x1="206.5" y1="274.24" x2="208.5" y2="274.24" stroke="#333" stroke-width="0.6"/>
<line x1="206.5" y1="273.2" x2="208.5" y2="273.2" stroke="#333" stroke-width="0.6"/>
<line x1="206.5" y1="272.3" x2="208.5" y2="272.3" stroke="#333" stroke-width="0.6"/>
<line x1="206.5" y1="271.51" x2="208.5" y2="271.51" stroke="#333" stroke-width="0.6"/>
<line x1="206.5" y1="290.3" x2="208.5" y2="290.3" stroke="#333" stroke-width="0.6"/>
<line x1="206.5" y1="299.8" x2="208.5" y2="299.8" stroke="#333" stroke-width="0.6"/>
<rect x="206.1" y="294.3" width="2.2" height="1.9" fill="#1a1a1a"/>
<line x1="214.5" y1="311.3" x2="235.5" y2="311.3" stroke="#555" stroke-width="1.5" stroke-dasharray="2.2 0.6 1.4 0.5"/>
<line x1="236.5" y1="311.3" x2="273.3" y2="311.3" stroke="#666" stroke-width="1.4" stroke-dasharray="0.8 1.4 1.8 0.8 0.6 1.6"/>
<rect x="221.5" y="310.5" width="1.8" height="1.8" fill="#111"/>
<rect x="236.3" y="253.3" width="22.4" height="15.2" fill="none" stroke="#58595b" stroke-width="0.8"/>
<rect x="232.3" y="270.2" width="23.2" height="30.8" fill="none" stroke="#58595b" stroke-width="0.8"/>
<rect x="210.4" y="280.5" width="20.5" height="26.1" fill="none" stroke="#58595b" stroke-width="0.8"/>
<text x="247.6" y="251.4" font-size="7.1" text-anchor="middle">30.0</text>
<text x="217.6" y="278.1" font-size="7.1" text-anchor="middle">13.2</text>
<text x="263.7" y="288" font-size="7.1" text-anchor="middle">46.0</text>
<rect x="283.8" y="242.3" width="67.8" height="67" fill="none" stroke="#231f20" stroke-width="1.0"/>
<line x1="283.5" y1="242.3" x2="283.5" y2="309.3" stroke="#231f20" stroke-width="1.2"/>
<line x1="281.2" y1="243.6" x2="283.8" y2="243.6" stroke="#333" stroke-width="0.8"/>
<line x1="281.2" y1="256.6" x2="283.8" y2="256.6" stroke="#333" stroke-width="0.8"/>
<line x1="281.2" y1="270.8" x2="283.8" y2="270.8" stroke="#333" stroke-width="0.8"/>
<line x1="281.2" y1="286.3" x2="283.8" y2="286.3" stroke="#333" stroke-width="0.8"/>
<line x1="281.2" y1="304.6" x2="283.8" y2="304.6" stroke="#333" stroke-width="0.8"/>
<line x1="281.8" y1="252.69" x2="283.8" y2="252.69" stroke="#333" stroke-width="0.6"/>
<line x1="281.8" y1="250.4" x2="283.8" y2="250.4" stroke="#333" stroke-width="0.6"/>
<line x1="281.8" y1="248.77" x2="283.8" y2="248.77" stroke="#333" stroke-width="0.6"/>
<line x1="281.8" y1="247.51" x2="283.8" y2="247.51" stroke="#333" stroke-width="0.6"/>
<line x1="281.8" y1="246.48" x2="283.8" y2="246.48" stroke="#333" stroke-width="0.6"/>
<line x1="281.8" y1="245.61" x2="283.8" y2="245.61" stroke="#333" stroke-width="0.6"/>
<line x1="281.8" y1="244.86" x2="283.8" y2="244.86" stroke="#333" stroke-width="0.6"/>
<line x1="281.8" y1="244.19" x2="283.8" y2="244.19" stroke="#333" stroke-width="0.6"/>
<line x1="281.8" y1="266.53" x2="283.8" y2="266.53" stroke="#333" stroke-width="0.6"/>
<line x1="281.8" y1="264.02" x2="283.8" y2="264.02" stroke="#333" stroke-width="0.6"/>
<line x1="281.8" y1="262.25" x2="283.8" y2="262.25" stroke="#333" stroke-width="0.6"/>
<line x1="281.8" y1="260.87" x2="283.8" y2="260.87" stroke="#333" stroke-width="0.6"/>
<line x1="281.8" y1="259.75" x2="283.8" y2="259.75" stroke="#333" stroke-width="0.6"/>
<line x1="281.8" y1="258.8" x2="283.8" y2="258.8" stroke="#333" stroke-width="0.6"/>
<line x1="281.8" y1="257.98" x2="283.8" y2="257.98" stroke="#333" stroke-width="0.6"/>
<line x1="281.8" y1="257.25" x2="283.8" y2="257.25" stroke="#333" stroke-width="0.6"/>
<line x1="281.8" y1="281.63" x2="283.8" y2="281.63" stroke="#333" stroke-width="0.6"/>
<line x1="281.8" y1="278.9" x2="283.8" y2="278.9" stroke="#333" stroke-width="0.6"/>
<line x1="281.8" y1="276.97" x2="283.8" y2="276.97" stroke="#333" stroke-width="0.6"/>
<line x1="281.8" y1="275.47" x2="283.8" y2="275.47" stroke="#333" stroke-width="0.6"/>
<line x1="281.8" y1="274.24" x2="283.8" y2="274.24" stroke="#333" stroke-width="0.6"/>
<line x1="281.8" y1="273.2" x2="283.8" y2="273.2" stroke="#333" stroke-width="0.6"/>
<line x1="281.8" y1="272.3" x2="283.8" y2="272.3" stroke="#333" stroke-width="0.6"/>
<line x1="281.8" y1="271.51" x2="283.8" y2="271.51" stroke="#333" stroke-width="0.6"/>
<line x1="281.8" y1="290.3" x2="283.8" y2="290.3" stroke="#333" stroke-width="0.6"/>
<line x1="281.8" y1="299.8" x2="283.8" y2="299.8" stroke="#333" stroke-width="0.6"/>
<rect x="281.4" y="294.3" width="2.2" height="1.9" fill="#1a1a1a"/>
<line x1="289.8" y1="311.3" x2="310.8" y2="311.3" stroke="#555" stroke-width="1.5" stroke-dasharray="2.2 0.6 1.4 0.5"/>
<line x1="311.8" y1="311.3" x2="348.6" y2="311.3" stroke="#666" stroke-width="1.4" stroke-dasharray="0.8 1.4 1.8 0.8 0.6 1.6"/>
<rect x="296.8" y="310.5" width="1.8" height="1.8" fill="#111"/>
<rect x="287" y="252.2" width="18.8" height="23.4" fill="none" stroke="#58595b" stroke-width="0.8"/>
<rect x="306.7" y="251.6" width="43.5" height="24" fill="none" stroke="#58595b" stroke-width="0.8"/>
<text x="296.9" y="249.9" font-size="7.1" text-anchor="middle">42.9</text>
<text x="329" y="249.9" font-size="7.1" text-anchor="middle">55.2</text>
<rect x="369.6" y="242.3" width="67.8" height="67" fill="none" stroke="#231f20" stroke-width="1.0"/>
<line x1="375.6" y1="311.3" x2="396.6" y2="311.3" stroke="#555" stroke-width="1.5" stroke-dasharray="2.2 0.6 1.4 0.5"/>
<line x1="397.6" y1="311.3" x2="434.4" y2="311.3" stroke="#666" stroke-width="1.4" stroke-dasharray="0.8 1.4 1.8 0.8 0.6 1.6"/>
<rect x="382.6" y="310.5" width="1.8" height="1.8" fill="#111"/>
<rect x="371.5" y="277.2" width="21.9" height="31.5" fill="none" stroke="#58595b" stroke-width="0.8"/>
<rect x="393.4" y="277.2" width="41.7" height="31.5" fill="none" stroke="#58595b" stroke-width="0.8"/>
<text x="382.5" y="274.9" font-size="7.1" text-anchor="middle">3.31</text>
<text x="414.8" y="274.9" font-size="7.1" text-anchor="middle">96.6</text>
<rect x="446" y="242.3" width="67.8" height="67" fill="none" stroke="#231f20" stroke-width="1.0"/>
<line x1="452" y1="311.3" x2="473" y2="311.3" stroke="#555" stroke-width="1.5" stroke-dasharray="2.2 0.6 1.4 0.5"/>
<line x1="474" y1="311.3" x2="510.8" y2="311.3" stroke="#666" stroke-width="1.4" stroke-dasharray="0.8 1.4 1.8 0.8 0.6 1.6"/>
<rect x="459" y="310.5" width="1.8" height="1.8" fill="#111"/>
<line x1="446" y1="281" x2="513.8" y2="281" stroke="#4d4d4f" stroke-width="0.9"/>
<line x1="490.3" y1="242.3" x2="490.3" y2="309.3" stroke="#4d4d4f" stroke-width="0.9"/>
<text x="468" y="278.6" font-size="7.1" text-anchor="middle">22.4</text>
<text x="502.7" y="278.6" font-size="7.1" text-anchor="middle">77.4</text>
<rect x="208.5" y="316.3" width="67.8" height="67" fill="none" stroke="#231f20" stroke-width="1.0"/>
<line x1="208.2" y1="316.3" x2="208.2" y2="383.3" stroke="#231f20" stroke-width="1.2"/>
<line x1="205.9" y1="317.6" x2="208.5" y2="317.6" stroke="#333" stroke-width="0.8"/>
<line x1="205.9" y1="330.6" x2="208.5" y2="330.6" stroke="#333" stroke-width="0.8"/>
<line x1="205.9" y1="344.8" x2="208.5" y2="344.8" stroke="#333" stroke-width="0.8"/>
<line x1="205.9" y1="360.3" x2="208.5" y2="360.3" stroke="#333" stroke-width="0.8"/>
<line x1="205.9" y1="378.6" x2="208.5" y2="378.6" stroke="#333" stroke-width="0.8"/>
<line x1="206.5" y1="326.69" x2="208.5" y2="326.69" stroke="#333" stroke-width="0.6"/>
<line x1="206.5" y1="324.4" x2="208.5" y2="324.4" stroke="#333" stroke-width="0.6"/>
<line x1="206.5" y1="322.77" x2="208.5" y2="322.77" stroke="#333" stroke-width="0.6"/>
<line x1="206.5" y1="321.51" x2="208.5" y2="321.51" stroke="#333" stroke-width="0.6"/>
<line x1="206.5" y1="320.48" x2="208.5" y2="320.48" stroke="#333" stroke-width="0.6"/>
<line x1="206.5" y1="319.61" x2="208.5" y2="319.61" stroke="#333" stroke-width="0.6"/>
<line x1="206.5" y1="318.86" x2="208.5" y2="318.86" stroke="#333" stroke-width="0.6"/>
<line x1="206.5" y1="318.19" x2="208.5" y2="318.19" stroke="#333" stroke-width="0.6"/>
<line x1="206.5" y1="340.53" x2="208.5" y2="340.53" stroke="#333" stroke-width="0.6"/>
<line x1="206.5" y1="338.02" x2="208.5" y2="338.02" stroke="#333" stroke-width="0.6"/>
<line x1="206.5" y1="336.25" x2="208.5" y2="336.25" stroke="#333" stroke-width="0.6"/>
<line x1="206.5" y1="334.87" x2="208.5" y2="334.87" stroke="#333" stroke-width="0.6"/>
<line x1="206.5" y1="333.75" x2="208.5" y2="333.75" stroke="#333" stroke-width="0.6"/>
<line x1="206.5" y1="332.8" x2="208.5" y2="332.8" stroke="#333" stroke-width="0.6"/>
<line x1="206.5" y1="331.98" x2="208.5" y2="331.98" stroke="#333" stroke-width="0.6"/>
<line x1="206.5" y1="331.25" x2="208.5" y2="331.25" stroke="#333" stroke-width="0.6"/>
<line x1="206.5" y1="355.63" x2="208.5" y2="355.63" stroke="#333" stroke-width="0.6"/>
<line x1="206.5" y1="352.9" x2="208.5" y2="352.9" stroke="#333" stroke-width="0.6"/>
<line x1="206.5" y1="350.97" x2="208.5" y2="350.97" stroke="#333" stroke-width="0.6"/>
<line x1="206.5" y1="349.47" x2="208.5" y2="349.47" stroke="#333" stroke-width="0.6"/>
<line x1="206.5" y1="348.24" x2="208.5" y2="348.24" stroke="#333" stroke-width="0.6"/>
<line x1="206.5" y1="347.2" x2="208.5" y2="347.2" stroke="#333" stroke-width="0.6"/>
<line x1="206.5" y1="346.3" x2="208.5" y2="346.3" stroke="#333" stroke-width="0.6"/>
<line x1="206.5" y1="345.51" x2="208.5" y2="345.51" stroke="#333" stroke-width="0.6"/>
<line x1="206.5" y1="364.3" x2="208.5" y2="364.3" stroke="#333" stroke-width="0.6"/>
<line x1="206.5" y1="373.8" x2="208.5" y2="373.8" stroke="#333" stroke-width="0.6"/>
<rect x="206.1" y="368.3" width="2.2" height="1.9" fill="#1a1a1a"/>
<line x1="214.5" y1="385.3" x2="235.5" y2="385.3" stroke="#555" stroke-width="1.5" stroke-dasharray="2.2 0.6 1.4 0.5"/>
<line x1="236.5" y1="385.3" x2="273.3" y2="385.3" stroke="#666" stroke-width="1.4" stroke-dasharray="0.8 1.4 1.8 0.8 0.6 1.6"/>
<rect x="221.5" y="384.5" width="1.8" height="1.8" fill="#111"/>
<rect x="236.3" y="327.3" width="22.4" height="15.2" fill="none" stroke="#58595b" stroke-width="0.8"/>
<rect x="232.3" y="344.2" width="23.2" height="30.8" fill="none" stroke="#58595b" stroke-width="0.8"/>
<rect x="210.4" y="354.5" width="20.5" height="26.1" fill="none" stroke="#58595b" stroke-width="0.8"/>
<text x="247.6" y="325.4" font-size="7.1" text-anchor="middle">46.1</text>
<text x="217.6" y="349.8" font-size="7.1" text-anchor="middle">11.0</text>
<text x="263.7" y="362" font-size="7.1" text-anchor="middle">31.8</text>
<rect x="283.8" y="316.3" width="67.8" height="67" fill="none" stroke="#231f20" stroke-width="1.0"/>
<line x1="283.5" y1="316.3" x2="283.5" y2="383.3" stroke="#231f20" stroke-width="1.2"/>
<line x1="281.2" y1="317.6" x2="283.8" y2="317.6" stroke="#333" stroke-width="0.8"/>
<line x1="281.2" y1="330.6" x2="283.8" y2="330.6" stroke="#333" stroke-width="0.8"/>
<line x1="281.2" y1="344.8" x2="283.8" y2="344.8" stroke="#333" stroke-width="0.8"/>
<line x1="281.2" y1="360.3" x2="283.8" y2="360.3" stroke="#333" stroke-width="0.8"/>
<line x1="281.2" y1="378.6" x2="283.8" y2="378.6" stroke="#333" stroke-width="0.8"/>
<line x1="281.8" y1="326.69" x2="283.8" y2="326.69" stroke="#333" stroke-width="0.6"/>
<line x1="281.8" y1="324.4" x2="283.8" y2="324.4" stroke="#333" stroke-width="0.6"/>
<line x1="281.8" y1="322.77" x2="283.8" y2="322.77" stroke="#333" stroke-width="0.6"/>
<line x1="281.8" y1="321.51" x2="283.8" y2="321.51" stroke="#333" stroke-width="0.6"/>
<line x1="281.8" y1="320.48" x2="283.8" y2="320.48" stroke="#333" stroke-width="0.6"/>
<line x1="281.8" y1="319.61" x2="283.8" y2="319.61" stroke="#333" stroke-width="0.6"/>
<line x1="281.8" y1="318.86" x2="283.8" y2="318.86" stroke="#333" stroke-width="0.6"/>
<line x1="281.8" y1="318.19" x2="283.8" y2="318.19" stroke="#333" stroke-width="0.6"/>
<line x1="281.8" y1="340.53" x2="283.8" y2="340.53" stroke="#333" stroke-width="0.6"/>
<line x1="281.8" y1="338.02" x2="283.8" y2="338.02" stroke="#333" stroke-width="0.6"/>
<line x1="281.8" y1="336.25" x2="283.8" y2="336.25" stroke="#333" stroke-width="0.6"/>
<line x1="281.8" y1="334.87" x2="283.8" y2="334.87" stroke="#333" stroke-width="0.6"/>
<line x1="281.8" y1="333.75" x2="283.8" y2="333.75" stroke="#333" stroke-width="0.6"/>
<line x1="281.8" y1="332.8" x2="283.8" y2="332.8" stroke="#333" stroke-width="0.6"/>
<line x1="281.8" y1="331.98" x2="283.8" y2="331.98" stroke="#333" stroke-width="0.6"/>
<line x1="281.8" y1="331.25" x2="283.8" y2="331.25" stroke="#333" stroke-width="0.6"/>
<line x1="281.8" y1="355.63" x2="283.8" y2="355.63" stroke="#333" stroke-width="0.6"/>
<line x1="281.8" y1="352.9" x2="283.8" y2="352.9" stroke="#333" stroke-width="0.6"/>
<line x1="281.8" y1="350.97" x2="283.8" y2="350.97" stroke="#333" stroke-width="0.6"/>
<line x1="281.8" y1="349.47" x2="283.8" y2="349.47" stroke="#333" stroke-width="0.6"/>
<line x1="281.8" y1="348.24" x2="283.8" y2="348.24" stroke="#333" stroke-width="0.6"/>
<line x1="281.8" y1="347.2" x2="283.8" y2="347.2" stroke="#333" stroke-width="0.6"/>
<line x1="281.8" y1="346.3" x2="283.8" y2="346.3" stroke="#333" stroke-width="0.6"/>
<line x1="281.8" y1="345.51" x2="283.8" y2="345.51" stroke="#333" stroke-width="0.6"/>
<line x1="281.8" y1="364.3" x2="283.8" y2="364.3" stroke="#333" stroke-width="0.6"/>
<line x1="281.8" y1="373.8" x2="283.8" y2="373.8" stroke="#333" stroke-width="0.6"/>
<rect x="281.4" y="368.3" width="2.2" height="1.9" fill="#1a1a1a"/>
<line x1="289.8" y1="385.3" x2="310.8" y2="385.3" stroke="#555" stroke-width="1.5" stroke-dasharray="2.2 0.6 1.4 0.5"/>
<line x1="311.8" y1="385.3" x2="348.6" y2="385.3" stroke="#666" stroke-width="1.4" stroke-dasharray="0.8 1.4 1.8 0.8 0.6 1.6"/>
<rect x="296.8" y="384.5" width="1.8" height="1.8" fill="#111"/>
<rect x="287" y="326.2" width="18.8" height="23.4" fill="none" stroke="#58595b" stroke-width="0.8"/>
<rect x="306.7" y="325.6" width="43.5" height="24" fill="none" stroke="#58595b" stroke-width="0.8"/>
<text x="296.9" y="323.9" font-size="7.1" text-anchor="middle">58.8</text>
<text x="329" y="323.9" font-size="7.1" text-anchor="middle">37.9</text>
<rect x="369.6" y="316.3" width="67.8" height="67" fill="none" stroke="#231f20" stroke-width="1.0"/>
<line x1="369.3" y1="316.3" x2="369.3" y2="383.3" stroke="#231f20" stroke-width="1.2"/>
<line x1="367" y1="317.6" x2="369.6" y2="317.6" stroke="#333" stroke-width="0.8"/>
<line x1="367" y1="330.6" x2="369.6" y2="330.6" stroke="#333" stroke-width="0.8"/>
<line x1="367" y1="344.8" x2="369.6" y2="344.8" stroke="#333" stroke-width="0.8"/>
<line x1="367" y1="360.3" x2="369.6" y2="360.3" stroke="#333" stroke-width="0.8"/>
<line x1="367" y1="378.6" x2="369.6" y2="378.6" stroke="#333" stroke-width="0.8"/>
<line x1="367.6" y1="326.69" x2="369.6" y2="326.69" stroke="#333" stroke-width="0.6"/>
<line x1="367.6" y1="324.4" x2="369.6" y2="324.4" stroke="#333" stroke-width="0.6"/>
<line x1="367.6" y1="322.77" x2="369.6" y2="322.77" stroke="#333" stroke-width="0.6"/>
<line x1="367.6" y1="321.51" x2="369.6" y2="321.51" stroke="#333" stroke-width="0.6"/>
<line x1="367.6" y1="320.48" x2="369.6" y2="320.48" stroke="#333" stroke-width="0.6"/>
<line x1="367.6" y1="319.61" x2="369.6" y2="319.61" stroke="#333" stroke-width="0.6"/>
<line x1="367.6" y1="318.86" x2="369.6" y2="318.86" stroke="#333" stroke-width="0.6"/>
<line x1="367.6" y1="318.19" x2="369.6" y2="318.19" stroke="#333" stroke-width="0.6"/>
<line x1="367.6" y1="340.53" x2="369.6" y2="340.53" stroke="#333" stroke-width="0.6"/>
<line x1="367.6" y1="338.02" x2="369.6" y2="338.02" stroke="#333" stroke-width="0.6"/>
<line x1="367.6" y1="336.25" x2="369.6" y2="336.25" stroke="#333" stroke-width="0.6"/>
<line x1="367.6" y1="334.87" x2="369.6" y2="334.87" stroke="#333" stroke-width="0.6"/>
<line x1="367.6" y1="333.75" x2="369.6" y2="333.75" stroke="#333" stroke-width="0.6"/>
<line x1="367.6" y1="332.8" x2="369.6" y2="332.8" stroke="#333" stroke-width="0.6"/>
<line x1="367.6" y1="331.98" x2="369.6" y2="331.98" stroke="#333" stroke-width="0.6"/>
<line x1="367.6" y1="331.25" x2="369.6" y2="331.25" stroke="#333" stroke-width="0.6"/>
<line x1="367.6" y1="355.63" x2="369.6" y2="355.63" stroke="#333" stroke-width="0.6"/>
<line x1="367.6" y1="352.9" x2="369.6" y2="352.9" stroke="#333" stroke-width="0.6"/>
<line x1="367.6" y1="350.97" x2="369.6" y2="350.97" stroke="#333" stroke-width="0.6"/>
<line x1="367.6" y1="349.47" x2="369.6" y2="349.47" stroke="#333" stroke-width="0.6"/>
<line x1="367.6" y1="348.24" x2="369.6" y2="348.24" stroke="#333" stroke-width="0.6"/>
<line x1="367.6" y1="347.2" x2="369.6" y2="347.2" stroke="#333" stroke-width="0.6"/>
<line x1="367.6" y1="346.3" x2="369.6" y2="346.3" stroke="#333" stroke-width="0.6"/>
<line x1="367.6" y1="345.51" x2="369.6" y2="345.51" stroke="#333" stroke-width="0.6"/>
<line x1="367.6" y1="364.3" x2="369.6" y2="364.3" stroke="#333" stroke-width="0.6"/>
<line x1="367.6" y1="373.8" x2="369.6" y2="373.8" stroke="#333" stroke-width="0.6"/>
<rect x="367.2" y="368.3" width="2.2" height="1.9" fill="#1a1a1a"/>
<line x1="375.6" y1="385.3" x2="396.6" y2="385.3" stroke="#555" stroke-width="1.5" stroke-dasharray="2.2 0.6 1.4 0.5"/>
<line x1="397.6" y1="385.3" x2="434.4" y2="385.3" stroke="#666" stroke-width="1.4" stroke-dasharray="0.8 1.4 1.8 0.8 0.6 1.6"/>
<rect x="382.6" y="384.5" width="1.8" height="1.8" fill="#111"/>
<rect x="371.5" y="355.3" width="21.9" height="27.4" fill="none" stroke="#58595b" stroke-width="0.8"/>
<rect x="393.4" y="355.3" width="41.7" height="27.4" fill="none" stroke="#58595b" stroke-width="0.8"/>
<text x="382.5" y="353" font-size="7.1" text-anchor="middle">0.84</text>
<text x="414.8" y="353" font-size="7.1" text-anchor="middle">99.1</text>
<rect x="446" y="316.3" width="67.8" height="67" fill="none" stroke="#231f20" stroke-width="1.0"/>
<line x1="445.7" y1="316.3" x2="445.7" y2="383.3" stroke="#231f20" stroke-width="1.2"/>
<line x1="443.4" y1="317.6" x2="446" y2="317.6" stroke="#333" stroke-width="0.8"/>
<line x1="443.4" y1="330.6" x2="446" y2="330.6" stroke="#333" stroke-width="0.8"/>
<line x1="443.4" y1="344.8" x2="446" y2="344.8" stroke="#333" stroke-width="0.8"/>
<line x1="443.4" y1="360.3" x2="446" y2="360.3" stroke="#333" stroke-width="0.8"/>
<line x1="443.4" y1="378.6" x2="446" y2="378.6" stroke="#333" stroke-width="0.8"/>
<line x1="444" y1="326.69" x2="446" y2="326.69" stroke="#333" stroke-width="0.6"/>
<line x1="444" y1="324.4" x2="446" y2="324.4" stroke="#333" stroke-width="0.6"/>
<line x1="444" y1="322.77" x2="446" y2="322.77" stroke="#333" stroke-width="0.6"/>
<line x1="444" y1="321.51" x2="446" y2="321.51" stroke="#333" stroke-width="0.6"/>
<line x1="444" y1="320.48" x2="446" y2="320.48" stroke="#333" stroke-width="0.6"/>
<line x1="444" y1="319.61" x2="446" y2="319.61" stroke="#333" stroke-width="0.6"/>
<line x1="444" y1="318.86" x2="446" y2="318.86" stroke="#333" stroke-width="0.6"/>
<line x1="444" y1="318.19" x2="446" y2="318.19" stroke="#333" stroke-width="0.6"/>
<line x1="444" y1="340.53" x2="446" y2="340.53" stroke="#333" stroke-width="0.6"/>
<line x1="444" y1="338.02" x2="446" y2="338.02" stroke="#333" stroke-width="0.6"/>
<line x1="444" y1="336.25" x2="446" y2="336.25" stroke="#333" stroke-width="0.6"/>
<line x1="444" y1="334.87" x2="446" y2="334.87" stroke="#333" stroke-width="0.6"/>
<line x1="444" y1="333.75" x2="446" y2="333.75" stroke="#333" stroke-width="0.6"/>
<line x1="444" y1="332.8" x2="446" y2="332.8" stroke="#333" stroke-width="0.6"/>
<line x1="444" y1="331.98" x2="446" y2="331.98" stroke="#333" stroke-width="0.6"/>
<line x1="444" y1="331.25" x2="446" y2="331.25" stroke="#333" stroke-width="0.6"/>
<line x1="444" y1="355.63" x2="446" y2="355.63" stroke="#333" stroke-width="0.6"/>
<line x1="444" y1="352.9" x2="446" y2="352.9" stroke="#333" stroke-width="0.6"/>
<line x1="444" y1="350.97" x2="446" y2="350.97" stroke="#333" stroke-width="0.6"/>
<line x1="444" y1="349.47" x2="446" y2="349.47" stroke="#333" stroke-width="0.6"/>
<line x1="444" y1="348.24" x2="446" y2="348.24" stroke="#333" stroke-width="0.6"/>
<line x1="444" y1="347.2" x2="446" y2="347.2" stroke="#333" stroke-width="0.6"/>
<line x1="444" y1="346.3" x2="446" y2="346.3" stroke="#333" stroke-width="0.6"/>
<line x1="444" y1="345.51" x2="446" y2="345.51" stroke="#333" stroke-width="0.6"/>
<line x1="444" y1="364.3" x2="446" y2="364.3" stroke="#333" stroke-width="0.6"/>
<line x1="444" y1="373.8" x2="446" y2="373.8" stroke="#333" stroke-width="0.6"/>
<rect x="443.6" y="368.3" width="2.2" height="1.9" fill="#1a1a1a"/>
<line x1="452" y1="385.3" x2="473" y2="385.3" stroke="#555" stroke-width="1.5" stroke-dasharray="2.2 0.6 1.4 0.5"/>
<line x1="474" y1="385.3" x2="510.8" y2="385.3" stroke="#666" stroke-width="1.4" stroke-dasharray="0.8 1.4 1.8 0.8 0.6 1.6"/>
<rect x="459" y="384.5" width="1.8" height="1.8" fill="#111"/>
<line x1="446" y1="358.9" x2="513.8" y2="358.9" stroke="#4d4d4f" stroke-width="0.9"/>
<line x1="490.3" y1="316.3" x2="490.3" y2="383.3" stroke="#4d4d4f" stroke-width="0.9"/>
<text x="468" y="356.5" font-size="7.1" text-anchor="middle">74.4</text>
<text x="502.7" y="356.5" font-size="7.1" text-anchor="middle">25.6</text>
<text x="448.6" y="81.2" font-size="7.2">GP</text>
<text x="509.3" y="81.2" font-size="7.2" text-anchor="end">MP</text>
<polyline points="255.2,30.4 278.4,30.4" fill="none" stroke="#231f20" stroke-width="0.9"/>
<polyline points="303.4,28.6 366,28.6 368.8,32" fill="none" stroke="#231f20" stroke-width="0.9"/>
<line x1="337.3" y1="35.5" x2="446" y2="35.5" stroke="#231f20" stroke-width="0.9"/>
<text x="206.6" y="13.6" font-size="7.5">Lin<tspan font-size="5.6" dy="-2.4">−</tspan><tspan dy="2.4"> Sca-1</tspan><tspan font-size="5.6" dy="-2.4">−</tspan><tspan dy="2.4"> cKit</tspan><tspan font-size="5.6" dy="-2.4">+</tspan></text>
<text x="183.3" y="48.7" font-size="9.0" text-anchor="end"><tspan letter-spacing="0.4">−77</tspan><tspan font-size="7.0" dy="-1.8" letter-spacing="0.6">+/+</tspan></text>
<text x="183.3" y="59.8" font-size="9.0" text-anchor="end">Irf8<tspan font-size="7.0" dy="-1.8" letter-spacing="0.6">+/+</tspan></text>
<text x="183.3" y="123.7" font-size="9.0" text-anchor="end"><tspan letter-spacing="0.4">−77</tspan><tspan font-size="7.0" dy="-1.8" letter-spacing="0.6">−/−</tspan></text>
<text x="183.3" y="134.8" font-size="9.0" text-anchor="end">Irf8<tspan font-size="7.0" dy="-1.8" letter-spacing="0.6">+/+</tspan></text>
<text x="183.3" y="199.3" font-size="9.0" text-anchor="end"><tspan letter-spacing="0.4">−77</tspan><tspan font-size="7.0" dy="-1.8" letter-spacing="0.6">+/+</tspan></text>
<text x="183.3" y="210.4" font-size="9.0" text-anchor="end">Irf8<tspan font-size="7.0" dy="-1.8" letter-spacing="0.6">−/−</tspan></text>
<text x="183.3" y="274.7" font-size="9.0" text-anchor="end"><tspan letter-spacing="0.4">−77</tspan><tspan font-size="7.0" dy="-1.8" letter-spacing="0.6">−/−</tspan></text>
<text x="183.3" y="285.8" font-size="9.0" text-anchor="end">Irf8<tspan font-size="7.0" dy="-1.8" letter-spacing="0.6">+/−</tspan></text>
<text x="183.3" y="348.7" font-size="9.0" text-anchor="end"><tspan letter-spacing="0.4">−77</tspan><tspan font-size="7.0" dy="-1.8" letter-spacing="0.6">−/−</tspan></text>
<text x="183.3" y="359.8" font-size="9.0" text-anchor="end">Irf8<tspan font-size="7.0" dy="-1.8" letter-spacing="0.6">−/−</tspan></text>
<line x1="192" y1="16.3" x2="192" y2="308.5" stroke="#4d4d4f" stroke-width="1.1"/>
<line x1="364.5" y1="16.7" x2="364.5" y2="325" stroke="#4d4d4f" stroke-width="1.1"/>
<text x="0" y="0" font-size="9.6" text-anchor="middle" transform="translate(195.4 349.1) rotate(-90)">FCγR (CD16/32)</text>
<text x="0" y="0" font-size="10.0" text-anchor="middle" transform="translate(366.8 357.0) rotate(-90)">Flt3 (CD135)</text>
<text x="201.9" y="402.3" font-size="9.2">CD34</text>
<line x1="231.6" y1="399" x2="274.8" y2="399" stroke="#231f20" stroke-width="0.9"/>
<text x="282" y="402.3" font-size="9.2">Ly6C</text>
<line x1="307.6" y1="399" x2="342.3" y2="399" stroke="#231f20" stroke-width="0.9"/>
<text x="359" y="402.4" font-size="9.5">M-CSFR (CD115)</text>
<line x1="438.8" y1="399" x2="511.5" y2="399" stroke="#231f20" stroke-width="0.9"/>
<text x="151.8" y="15.1" font-size="11.6" font-weight="bold">B</text>
<text x="6.6" y="15.8" font-size="11.6" font-weight="bold">A</text>
<defs><linearGradient id="mg" x1="0" y1="0" x2="1" y2="0.15"><stop offset="0.12" stop-color="#ffffff"/><stop offset="0.45" stop-color="#e4e4e4"/><stop offset="1" stop-color="#9c9c9c"/></linearGradient><linearGradient id="pg" x1="0" y1="0" x2="1" y2="0.3"><stop offset="0.4" stop-color="#ffffff"/><stop offset="1" stop-color="#e2e2e2"/></linearGradient></defs>
<g transform="translate(0 0)"><path d="M62.6,44.2 C67.2,41.5 69.6,35 66.4,28.1 C67.1,34.5 66,39.5 62.2,42.2 Z" fill="#e8e8e8" stroke="#555" stroke-width="0.55"/><path d="M29.4,40.6 C29.6,38.2 31.0,35.8 33.6,34.6 C36.5,33.4 40.0,34.2 42.5,36.8 C45.5,38.8 48.5,39.9 52.5,40.1 C57.5,40.2 61.8,41.6 63.4,45.2 C64.6,48.2 63.9,51.2 61.2,52.6 C60.4,53.1 60.1,53.8 59.6,54.2 L59.3,56.1 C57.1,56.6 54.6,56.5 52.8,56.0 C52.0,55.3 52.6,54.2 53.4,53.4 C49.5,53.4 45.5,53.0 41.8,52.4 C41.5,53.6 40.8,54.7 39.6,54.9 C37.6,55.1 35.6,55.0 34.8,54.2 C34.6,53.4 35.9,52.6 37.4,52.0 C37.2,49.4 36.5,47.3 35.0,45.6 C33.2,44.2 31.2,43.2 30.0,42.3 C29.5,41.8 29.3,41.2 29.4,40.6 Z" fill="url(#mg)" stroke="#4a4a4a" stroke-width="0.6"/><ellipse cx="33.6" cy="33.4" rx="2.5" ry="2.3" fill="#fff" stroke="#4a4a4a" stroke-width="0.55"/><ellipse cx="42.6" cy="34.6" rx="3.3" ry="3.2" fill="#fbfbfb" stroke="#4a4a4a" stroke-width="0.6"/><ellipse cx="42.9" cy="34.9" rx="2.0" ry="2.0" fill="none" stroke="#999" stroke-width="0.4"/><ellipse cx="35.4" cy="37.6" rx="0.9" ry="0.7" fill="#111"/><path d="M36.8,40.2 L40.6,40.8 M36.6,41.2 L40.2,42.4 M37.2,39.6 L39.8,39.2" stroke="#888" stroke-width="0.35" fill="none"/><path d="M40.5,52.3 C41.5,50.5 43.5,49.8 45.5,50.5 M53.3,53.5 C55.5,52.5 58,52.6 59.6,54" stroke="#888" stroke-width="0.4" fill="none"/></g>
<g transform="translate(56.6 0)"><path d="M62.6,44.2 C67.2,41.5 69.6,35 66.4,28.1 C67.1,34.5 66,39.5 62.2,42.2 Z" fill="#e8e8e8" stroke="#555" stroke-width="0.55"/><path d="M29.4,40.6 C29.6,38.2 31.0,35.8 33.6,34.6 C36.5,33.4 40.0,34.2 42.5,36.8 C45.5,38.8 48.5,39.9 52.5,40.1 C57.5,40.2 61.8,41.6 63.4,45.2 C64.6,48.2 63.9,51.2 61.2,52.6 C60.4,53.1 60.1,53.8 59.6,54.2 L59.3,56.1 C57.1,56.6 54.6,56.5 52.8,56.0 C52.0,55.3 52.6,54.2 53.4,53.4 C49.5,53.4 45.5,53.0 41.8,52.4 C41.5,53.6 40.8,54.7 39.6,54.9 C37.6,55.1 35.6,55.0 34.8,54.2 C34.6,53.4 35.9,52.6 37.4,52.0 C37.2,49.4 36.5,47.3 35.0,45.6 C33.2,44.2 31.2,43.2 30.0,42.3 C29.5,41.8 29.3,41.2 29.4,40.6 Z" fill="url(#mg)" stroke="#4a4a4a" stroke-width="0.6"/><ellipse cx="33.6" cy="33.4" rx="2.5" ry="2.3" fill="#fff" stroke="#4a4a4a" stroke-width="0.55"/><ellipse cx="42.6" cy="34.6" rx="3.3" ry="3.2" fill="#fbfbfb" stroke="#4a4a4a" stroke-width="0.6"/><ellipse cx="42.9" cy="34.9" rx="2.0" ry="2.0" fill="none" stroke="#999" stroke-width="0.4"/><ellipse cx="35.4" cy="37.6" rx="0.9" ry="0.7" fill="#111"/><path d="M36.8,40.2 L40.6,40.8 M36.6,41.2 L40.2,42.4 M37.2,39.6 L39.8,39.2" stroke="#888" stroke-width="0.35" fill="none"/><path d="M40.5,52.3 C41.5,50.5 43.5,49.8 45.5,50.5 M53.3,53.5 C55.5,52.5 58,52.6 59.6,54" stroke="#888" stroke-width="0.4" fill="none"/></g>
<text x="76.5" y="49" font-size="8.0" text-anchor="middle">x</text>
<text x="36.2" y="66.9" font-size="9.0"><tspan letter-spacing="0.4">−77</tspan><tspan font-size="7.0" dy="-2.4" letter-spacing="0.6">+/−</tspan></text>
<text x="40" y="77.7" font-size="9.0">Irf8<tspan font-size="7.0" dy="-2.4" letter-spacing="0.6">+/−</tspan></text>
<text x="93" y="66.9" font-size="9.0"><tspan letter-spacing="0.4">−77</tspan><tspan font-size="7.0" dy="-2.4" letter-spacing="0.6">+/−</tspan></text>
<text x="97.2" y="77.7" font-size="9.0">Irf8<tspan font-size="7.0" dy="-2.4" letter-spacing="0.6">+/−</tspan></text>
<line x1="76.8" y1="74.8" x2="76.8" y2="86.5" stroke="#231f20" stroke-width="1.0"/>
<path d="M74.0,85.6 L79.6,85.6 L76.8,91.2 Z" fill="#231f20"/>
<g transform="translate(0 0)"><path d="M24.8,94.9 C25.8,94.47 27.55,93.85 28.8,94 C30.05,94.15 31.43,95.02 32.3,95.8 C33.17,96.58 33.62,97.75 34,98.7 C34.38,99.65 34.53,100.55 34.6,101.5 C34.67,102.45 34.3,103.43 34.4,104.4 C34.5,105.37 34.9,106.05 35.2,107.3 C35.5,108.55 36.12,110.55 36.2,111.9 C36.28,113.25 36.13,114.33 35.7,115.4 C35.27,116.47 34.45,117.52 33.6,118.3 C32.75,119.08 31.57,119.6 30.6,120.1 C29.63,120.6 28.57,121.25 27.8,121.3 C27.03,121.35 26.25,120.75 26,120.4 C25.75,120.05 26.77,119.33 26.3,119.2 C25.83,119.07 24.32,119.75 23.2,119.6 C22.08,119.45 20.7,118.97 19.6,118.3 C18.5,117.63 17.27,116.27 16.6,115.6 C15.93,114.93 15.63,114.5 15.6,114.3 C15.57,114.1 15.78,114.02 16.4,114.4 C17.02,114.78 18.27,116.02 19.3,116.6 C20.33,117.18 22.15,117.97 22.6,117.9 C23.05,117.83 21.9,116.7 22,116.2 C22.1,115.7 22.7,115.17 23.2,114.9 C23.7,114.63 24.72,115.12 25,114.6 C25.28,114.08 24.83,112.67 24.9,111.8 C24.97,110.93 25.18,110.15 25.4,109.4 C25.62,108.65 26.4,107.73 26.2,107.3 C26,106.87 24.92,106.98 24.2,106.8 C23.48,106.62 22.48,106.7 21.9,106.2 C21.32,105.7 20.85,104.77 20.7,103.8 C20.55,102.83 20.65,101.6 21,100.4 C21.35,99.2 22.17,97.52 22.8,96.6 C23.43,95.68 23.8,95.33 24.8,94.9Z" fill="url(#pg)" stroke="#4a4a4a" stroke-width="0.6"/><ellipse cx="28.0" cy="100.7" rx="1.1" ry="0.85" fill="#222"/><ellipse cx="29.7" cy="113.0" rx="1.5" ry="1.1" fill="#222"/><ellipse cx="26.4" cy="112.3" rx="0.8" ry="0.7" fill="#444"/><path d="M31.4,96.6 C32.8,97.2 33.6,98.4 33.8,99.8" stroke="#888" stroke-width="1.1" fill="none"/><path d="M27.1,106.4 C26.8,108.2 26.3,110.2 26.2,111.8 M31.8,109.6 C32.8,110.8 33.0,112.6 32.6,114.2 M23.0,115.4 C24.0,116.0 25.2,116.2 26.2,116.0 M27.0,118.6 C28.8,118.4 30.4,117.6 31.6,116.6" stroke="#666" stroke-width="0.45" fill="none"/></g>
<g transform="translate(30.9 0)"><path d="M24.8,94.9 C25.8,94.47 27.55,93.85 28.8,94 C30.05,94.15 31.43,95.02 32.3,95.8 C33.17,96.58 33.62,97.75 34,98.7 C34.38,99.65 34.53,100.55 34.6,101.5 C34.67,102.45 34.3,103.43 34.4,104.4 C34.5,105.37 34.9,106.05 35.2,107.3 C35.5,108.55 36.12,110.55 36.2,111.9 C36.28,113.25 36.13,114.33 35.7,115.4 C35.27,116.47 34.45,117.52 33.6,118.3 C32.75,119.08 31.57,119.6 30.6,120.1 C29.63,120.6 28.57,121.25 27.8,121.3 C27.03,121.35 26.25,120.75 26,120.4 C25.75,120.05 26.77,119.33 26.3,119.2 C25.83,119.07 24.32,119.75 23.2,119.6 C22.08,119.45 20.7,118.97 19.6,118.3 C18.5,117.63 17.27,116.27 16.6,115.6 C15.93,114.93 15.63,114.5 15.6,114.3 C15.57,114.1 15.78,114.02 16.4,114.4 C17.02,114.78 18.27,116.02 19.3,116.6 C20.33,117.18 22.15,117.97 22.6,117.9 C23.05,117.83 21.9,116.7 22,116.2 C22.1,115.7 22.7,115.17 23.2,114.9 C23.7,114.63 24.72,115.12 25,114.6 C25.28,114.08 24.83,112.67 24.9,111.8 C24.97,110.93 25.18,110.15 25.4,109.4 C25.62,108.65 26.4,107.73 26.2,107.3 C26,106.87 24.92,106.98 24.2,106.8 C23.48,106.62 22.48,106.7 21.9,106.2 C21.32,105.7 20.85,104.77 20.7,103.8 C20.55,102.83 20.65,101.6 21,100.4 C21.35,99.2 22.17,97.52 22.8,96.6 C23.43,95.68 23.8,95.33 24.8,94.9Z" fill="url(#pg)" stroke="#4a4a4a" stroke-width="0.6"/><ellipse cx="28.0" cy="100.7" rx="1.1" ry="0.85" fill="#222"/><ellipse cx="29.7" cy="113.0" rx="1.5" ry="1.1" fill="#222"/><ellipse cx="26.4" cy="112.3" rx="0.8" ry="0.7" fill="#444"/><path d="M31.4,96.6 C32.8,97.2 33.6,98.4 33.8,99.8" stroke="#888" stroke-width="1.1" fill="none"/><path d="M27.1,106.4 C26.8,108.2 26.3,110.2 26.2,111.8 M31.8,109.6 C32.8,110.8 33.0,112.6 32.6,114.2 M23.0,115.4 C24.0,116.0 25.2,116.2 26.2,116.0 M27.0,118.6 C28.8,118.4 30.4,117.6 31.6,116.6" stroke="#666" stroke-width="0.45" fill="none"/></g>
<g transform="translate(63.3 0)"><path d="M24.8,94.9 C25.8,94.47 27.55,93.85 28.8,94 C30.05,94.15 31.43,95.02 32.3,95.8 C33.17,96.58 33.62,97.75 34,98.7 C34.38,99.65 34.53,100.55 34.6,101.5 C34.67,102.45 34.3,103.43 34.4,104.4 C34.5,105.37 34.9,106.05 35.2,107.3 C35.5,108.55 36.12,110.55 36.2,111.9 C36.28,113.25 36.13,114.33 35.7,115.4 C35.27,116.47 34.45,117.52 33.6,118.3 C32.75,119.08 31.57,119.6 30.6,120.1 C29.63,120.6 28.57,121.25 27.8,121.3 C27.03,121.35 26.25,120.75 26,120.4 C25.75,120.05 26.77,119.33 26.3,119.2 C25.83,119.07 24.32,119.75 23.2,119.6 C22.08,119.45 20.7,118.97 19.6,118.3 C18.5,117.63 17.27,116.27 16.6,115.6 C15.93,114.93 15.63,114.5 15.6,114.3 C15.57,114.1 15.78,114.02 16.4,114.4 C17.02,114.78 18.27,116.02 19.3,116.6 C20.33,117.18 22.15,117.97 22.6,117.9 C23.05,117.83 21.9,116.7 22,116.2 C22.1,115.7 22.7,115.17 23.2,114.9 C23.7,114.63 24.72,115.12 25,114.6 C25.28,114.08 24.83,112.67 24.9,111.8 C24.97,110.93 25.18,110.15 25.4,109.4 C25.62,108.65 26.4,107.73 26.2,107.3 C26,106.87 24.92,106.98 24.2,106.8 C23.48,106.62 22.48,106.7 21.9,106.2 C21.32,105.7 20.85,104.77 20.7,103.8 C20.55,102.83 20.65,101.6 21,100.4 C21.35,99.2 22.17,97.52 22.8,96.6 C23.43,95.68 23.8,95.33 24.8,94.9Z" fill="url(#pg)" stroke="#4a4a4a" stroke-width="0.6"/><ellipse cx="28.0" cy="100.7" rx="1.1" ry="0.85" fill="#222"/><ellipse cx="29.7" cy="113.0" rx="1.5" ry="1.1" fill="#222"/><ellipse cx="26.4" cy="112.3" rx="0.8" ry="0.7" fill="#444"/><path d="M31.4,96.6 C32.8,97.2 33.6,98.4 33.8,99.8" stroke="#888" stroke-width="1.1" fill="none"/><path d="M27.1,106.4 C26.8,108.2 26.3,110.2 26.2,111.8 M31.8,109.6 C32.8,110.8 33.0,112.6 32.6,114.2 M23.0,115.4 C24.0,116.0 25.2,116.2 26.2,116.0 M27.0,118.6 C28.8,118.4 30.4,117.6 31.6,116.6" stroke="#666" stroke-width="0.45" fill="none"/></g>
<g transform="translate(95.6 0)"><path d="M24.8,94.9 C25.8,94.47 27.55,93.85 28.8,94 C30.05,94.15 31.43,95.02 32.3,95.8 C33.17,96.58 33.62,97.75 34,98.7 C34.38,99.65 34.53,100.55 34.6,101.5 C34.67,102.45 34.3,103.43 34.4,104.4 C34.5,105.37 34.9,106.05 35.2,107.3 C35.5,108.55 36.12,110.55 36.2,111.9 C36.28,113.25 36.13,114.33 35.7,115.4 C35.27,116.47 34.45,117.52 33.6,118.3 C32.75,119.08 31.57,119.6 30.6,120.1 C29.63,120.6 28.57,121.25 27.8,121.3 C27.03,121.35 26.25,120.75 26,120.4 C25.75,120.05 26.77,119.33 26.3,119.2 C25.83,119.07 24.32,119.75 23.2,119.6 C22.08,119.45 20.7,118.97 19.6,118.3 C18.5,117.63 17.27,116.27 16.6,115.6 C15.93,114.93 15.63,114.5 15.6,114.3 C15.57,114.1 15.78,114.02 16.4,114.4 C17.02,114.78 18.27,116.02 19.3,116.6 C20.33,117.18 22.15,117.97 22.6,117.9 C23.05,117.83 21.9,116.7 22,116.2 C22.1,115.7 22.7,115.17 23.2,114.9 C23.7,114.63 24.72,115.12 25,114.6 C25.28,114.08 24.83,112.67 24.9,111.8 C24.97,110.93 25.18,110.15 25.4,109.4 C25.62,108.65 26.4,107.73 26.2,107.3 C26,106.87 24.92,106.98 24.2,106.8 C23.48,106.62 22.48,106.7 21.9,106.2 C21.32,105.7 20.85,104.77 20.7,103.8 C20.55,102.83 20.65,101.6 21,100.4 C21.35,99.2 22.17,97.52 22.8,96.6 C23.43,95.68 23.8,95.33 24.8,94.9Z" fill="url(#pg)" stroke="#4a4a4a" stroke-width="0.6"/><ellipse cx="28.0" cy="100.7" rx="1.1" ry="0.85" fill="#222"/><ellipse cx="29.7" cy="113.0" rx="1.5" ry="1.1" fill="#222"/><ellipse cx="26.4" cy="112.3" rx="0.8" ry="0.7" fill="#444"/><path d="M31.4,96.6 C32.8,97.2 33.6,98.4 33.8,99.8" stroke="#888" stroke-width="1.1" fill="none"/><path d="M27.1,106.4 C26.8,108.2 26.3,110.2 26.2,111.8 M31.8,109.6 C32.8,110.8 33.0,112.6 32.6,114.2 M23.0,115.4 C24.0,116.0 25.2,116.2 26.2,116.0 M27.0,118.6 C28.8,118.4 30.4,117.6 31.6,116.6" stroke="#666" stroke-width="0.45" fill="none"/></g>
<text x="13.2" y="134.5" font-size="9.0"><tspan letter-spacing="0.4">−77</tspan><tspan font-size="7.0" dy="-2.4" letter-spacing="0.6">+/+</tspan></text>
<text x="15.9" y="146" font-size="9.0">Irf8<tspan font-size="7.0" dy="-2.4" letter-spacing="0.6">+/+</tspan></text>
<text x="45" y="134.5" font-size="9.0"><tspan letter-spacing="0.4">−77</tspan><tspan font-size="7.0" dy="-2.4" letter-spacing="0.6">−/−</tspan></text>
<text x="47.2" y="146" font-size="9.0">Irf8<tspan font-size="7.0" dy="-2.4" letter-spacing="0.6">+/+</tspan></text>
<text x="76.8" y="134.5" font-size="9.0"><tspan letter-spacing="0.4">−77</tspan><tspan font-size="7.0" dy="-2.4" letter-spacing="0.6">+/+</tspan></text>
<text x="78.7" y="146" font-size="9.0">Irf8<tspan font-size="7.0" dy="-2.4" letter-spacing="0.6">−/−</tspan></text>
<text x="108.3" y="134.5" font-size="9.0"><tspan letter-spacing="0.4">−77</tspan><tspan font-size="7.0" dy="-2.4" letter-spacing="0.6">−/−</tspan></text>
<text x="111" y="146" font-size="9.0">Irf8<tspan font-size="7.0" dy="-2.4" letter-spacing="0.6">−/−</tspan></text>
<rect x="29.2" y="158.5" width="48.4" height="48.1" fill="none" stroke="#4a4a4a" stroke-width="1.0"/>
<rect x="49.8" y="162.0" width="16.4" height="12.9" rx="1.2" fill="#fff" stroke="#6a6a6a" stroke-width="0.9"/>
<rect x="51.3" y="175.8" width="10.2" height="13.9" rx="1" fill="#fff" stroke="#707070" stroke-width="0.9"/>
<rect x="35.4" y="183.5" width="14.3" height="13.9" rx="1" fill="#fff" stroke="#6a6a6a" stroke-width="0.9"/>
<ellipse cx="57.6" cy="170.0" rx="6.3" ry="2.8" transform="rotate(-8 57.6 170)" fill="#d8d8d8" stroke="#8a8a8a" stroke-width="0.7"/>
<ellipse cx="57.2" cy="170.2" rx="4.6" ry="1.6" transform="rotate(-8 57.6 170)" fill="#efefef" stroke="#a5a5a5" stroke-width="0.5"/>
<path d="M54.4,177.6 C55.2,181 56.2,185 56.9,187.4 C58,184.5 59.3,180.5 59.9,177.4 C58.6,178.6 57.4,180.5 57,182.6 C56.2,181 55.4,179 54.4,177.6 Z" fill="#f4f4f4" stroke="#b0b0b0" stroke-width="0.5"/>
<path d="M42.8,181.0 C45.6,184.5 46.4,188.5 45.8,192.5 C45.2,195.6 42.8,196.6 40.6,196.0 C38.2,195.2 37.6,192.4 38.4,189.2 C39.2,186.2 41.4,183.8 42.8,181.0 Z" fill="#d4d4d4" stroke="#b0b0b0" stroke-width="0.4"/>
<ellipse cx="41.6" cy="191.4" rx="3.0" ry="4.0" transform="rotate(12 41.6 191.4)" fill="#8c8c8c" stroke="#6a6a6a" stroke-width="0.5"/>
<ellipse cx="41.6" cy="191.8" rx="1.4" ry="1.9" transform="rotate(12 41.6 191.8)" fill="#4a4a4a"/>
<line x1="66.9" y1="168.4" x2="81" y2="168.4" stroke="#231f20" stroke-width="1.0"/>
<path d="M79.6,165.7 L85.2,168.4 L79.6,171.1 Z" fill="#231f20"/>
<line x1="66.9" y1="181.2" x2="81" y2="181.2" stroke="#231f20" stroke-width="1.0"/>
<path d="M79.6,178.5 L85.2,181.2 L79.6,183.9 Z" fill="#231f20"/>
<line x1="51.8" y1="193.3" x2="81" y2="193.3" stroke="#231f20" stroke-width="1.0"/>
<path d="M79.6,190.6 L85.2,193.3 L79.6,196 Z" fill="#231f20"/>
<text x="88" y="170.9" font-size="7.2">GMP (GP/MP)</text>
<text x="88" y="183.3" font-size="7.2">CMP (MDP/CDP)</text>
<text x="88" y="195.5" font-size="7.2">MEP</text>
<text x="41.6" y="215.9" font-size="9.8">CD34</text>
<text x="0" y="0" font-size="9.2" text-anchor="middle" transform="translate(26.5 182.3) rotate(-90)">FCγR</text>
<text x="6.6" y="253.8" font-size="11.6" font-weight="bold">C</text>
<rect x="49.3" y="254.2" width="10.3" height="5" fill="#231f20" stroke="none" stroke-width="0"/>
<text x="62.5" y="259.7" font-size="7.4">GP</text>
<rect x="79.8" y="254.2" width="9.7" height="5" fill="#bcbec0" stroke="none" stroke-width="0"/>
<text x="92.1" y="259.7" font-size="7.4">MP</text>
<line x1="42.9" y1="259.3" x2="42.9" y2="362.8" stroke="#5e5e60" stroke-width="1.4"/>
<line x1="39.3" y1="362.3" x2="42.3" y2="362.3" stroke="#3d3d3f" stroke-width="0.9"/>
<text x="37.3" y="364.9" font-size="7.5" text-anchor="end">0</text>
<line x1="39.3" y1="342.3" x2="42.3" y2="342.3" stroke="#3d3d3f" stroke-width="0.9"/>
<text x="37.3" y="344.9" font-size="7.5" text-anchor="end">25</text>
<line x1="39.3" y1="322.3" x2="42.3" y2="322.3" stroke="#3d3d3f" stroke-width="0.9"/>
<text x="37.3" y="324.9" font-size="7.5" text-anchor="end">50</text>
<line x1="39.3" y1="302.3" x2="42.3" y2="302.3" stroke="#3d3d3f" stroke-width="0.9"/>
<text x="37.3" y="304.9" font-size="7.5" text-anchor="end">75</text>
<line x1="39.3" y1="282.3" x2="42.3" y2="282.3" stroke="#3d3d3f" stroke-width="0.9"/>
<text x="37.3" y="284.9" font-size="7.5" text-anchor="end">100</text>
<line x1="39.3" y1="262.3" x2="42.3" y2="262.3" stroke="#3d3d3f" stroke-width="0.9"/>
<text x="37.3" y="264.9" font-size="7.5" text-anchor="end">125</text>
<line x1="40.7" y1="352.3" x2="42.3" y2="352.3" stroke="#3d3d3f" stroke-width="0.8"/>
<line x1="40.7" y1="332.3" x2="42.3" y2="332.3" stroke="#3d3d3f" stroke-width="0.8"/>
<line x1="40.7" y1="312.3" x2="42.3" y2="312.3" stroke="#3d3d3f" stroke-width="0.8"/>
<line x1="40.7" y1="292.3" x2="42.3" y2="292.3" stroke="#3d3d3f" stroke-width="0.8"/>
<line x1="40.7" y1="272.3" x2="42.3" y2="272.3" stroke="#3d3d3f" stroke-width="0.8"/>
<line x1="39.4" y1="362.5" x2="143" y2="362.5" stroke="#3d3d3f" stroke-width="1.1"/>
<rect x="49.3" y="282.3" width="12.4" height="80" fill="#bcbec0" stroke="none" stroke-width="0"/>
<rect x="49.3" y="327.1" width="12.4" height="35.2" fill="#231f20" stroke="none" stroke-width="0"/>
<line x1="55.5" y1="362.6" x2="55.5" y2="365.6" stroke="#3d3d3f" stroke-width="0.9"/>
<line x1="55.5" y1="280.1" x2="55.5" y2="284.5" stroke="#231f20" stroke-width="0.9"/>
<line x1="52.5" y1="280.1" x2="58.5" y2="280.1" stroke="#231f20" stroke-width="0.9"/>
<line x1="52.5" y1="284.5" x2="58.5" y2="284.5" stroke="#231f20" stroke-width="0.9"/>
<line x1="55.5" y1="325.3" x2="55.5" y2="327.1" stroke="#231f20" stroke-width="0.9"/>
<line x1="52.5" y1="325.3" x2="58.5" y2="325.3" stroke="#231f20" stroke-width="0.9"/>
<rect x="68" y="282.3" width="12.4" height="80" fill="#bcbec0" stroke="none" stroke-width="0"/>
<rect x="68" y="351.9" width="12.4" height="10.4" fill="#231f20" stroke="none" stroke-width="0"/>
<line x1="74.2" y1="362.6" x2="74.2" y2="365.6" stroke="#3d3d3f" stroke-width="0.9"/>
<line x1="74.2" y1="280.9" x2="74.2" y2="283.7" stroke="#231f20" stroke-width="0.9"/>
<line x1="71.2" y1="280.9" x2="77.2" y2="280.9" stroke="#231f20" stroke-width="0.9"/>
<line x1="71.2" y1="283.7" x2="77.2" y2="283.7" stroke="#231f20" stroke-width="0.9"/>
<line x1="74.2" y1="350.4" x2="74.2" y2="351.9" stroke="#231f20" stroke-width="0.9"/>
<line x1="71.2" y1="350.4" x2="77.2" y2="350.4" stroke="#231f20" stroke-width="0.9"/>
<rect x="86.8" y="282.3" width="12.4" height="80" fill="#bcbec0" stroke="none" stroke-width="0"/>
<rect x="86.8" y="292.7" width="12.4" height="69.6" fill="#231f20" stroke="none" stroke-width="0"/>
<line x1="93" y1="362.6" x2="93" y2="365.6" stroke="#3d3d3f" stroke-width="0.9"/>
<line x1="93" y1="280.3" x2="93" y2="284.3" stroke="#231f20" stroke-width="0.9"/>
<line x1="90" y1="280.3" x2="96" y2="280.3" stroke="#231f20" stroke-width="0.9"/>
<line x1="90" y1="284.3" x2="96" y2="284.3" stroke="#231f20" stroke-width="0.9"/>
<line x1="93" y1="291.2" x2="93" y2="292.7" stroke="#231f20" stroke-width="0.9"/>
<line x1="90" y1="291.2" x2="96" y2="291.2" stroke="#231f20" stroke-width="0.9"/>
<rect x="105.6" y="282.3" width="12.4" height="80" fill="#bcbec0" stroke="none" stroke-width="0"/>
<rect x="105.6" y="340.7" width="12.4" height="21.6" fill="#231f20" stroke="none" stroke-width="0"/>
<line x1="111.8" y1="362.6" x2="111.8" y2="365.6" stroke="#3d3d3f" stroke-width="0.9"/>
<line x1="111.8" y1="280.7" x2="111.8" y2="283.9" stroke="#231f20" stroke-width="0.9"/>
<line x1="108.8" y1="280.7" x2="114.8" y2="280.7" stroke="#231f20" stroke-width="0.9"/>
<line x1="108.8" y1="283.9" x2="114.8" y2="283.9" stroke="#231f20" stroke-width="0.9"/>
<line x1="111.8" y1="339.3" x2="111.8" y2="340.7" stroke="#231f20" stroke-width="0.9"/>
<line x1="108.8" y1="339.3" x2="114.8" y2="339.3" stroke="#231f20" stroke-width="0.9"/>
<rect x="124.4" y="282.3" width="12.4" height="80" fill="#bcbec0" stroke="none" stroke-width="0"/>
<rect x="124.4" y="301.9" width="12.4" height="60.4" fill="#231f20" stroke="none" stroke-width="0"/>
<line x1="130.6" y1="362.6" x2="130.6" y2="365.6" stroke="#3d3d3f" stroke-width="0.9"/>
<line x1="130.6" y1="280.1" x2="130.6" y2="284.5" stroke="#231f20" stroke-width="0.9"/>
<line x1="127.6" y1="280.1" x2="133.6" y2="280.1" stroke="#231f20" stroke-width="0.9"/>
<line x1="127.6" y1="284.5" x2="133.6" y2="284.5" stroke="#231f20" stroke-width="0.9"/>
<line x1="130.6" y1="300.1" x2="130.6" y2="301.9" stroke="#231f20" stroke-width="0.9"/>
<line x1="127.6" y1="300.1" x2="133.6" y2="300.1" stroke="#231f20" stroke-width="0.9"/>
<text x="43.9" y="375.7" font-size="8.0" text-anchor="end" font-style="italic" letter-spacing="0.4">−77</text>
<text x="43.6" y="384.7" font-size="8.0" text-anchor="end" font-style="italic">Irf8</text>
<text x="55.65" y="377.5" font-size="9.2" text-anchor="middle" letter-spacing="0.3">+<tspan font-size="7" dy="-1.7">/</tspan><tspan dy="1.7">+</tspan></text>
<text x="55.65" y="387.2" font-size="9.2" text-anchor="middle" letter-spacing="0.3">+<tspan font-size="7" dy="-1.7">/</tspan><tspan dy="1.7">+</tspan></text>
<text x="74.35" y="377.5" font-size="9.2" text-anchor="middle" letter-spacing="0.3">−<tspan font-size="7" dy="-1.7">/</tspan><tspan dy="1.7">−</tspan></text>
<text x="74.35" y="387.2" font-size="9.2" text-anchor="middle" letter-spacing="0.3">+<tspan font-size="7" dy="-1.7">/</tspan><tspan dy="1.7">+</tspan></text>
<text x="93.15" y="377.5" font-size="9.2" text-anchor="middle" letter-spacing="0.3">+<tspan font-size="7" dy="-1.7">/</tspan><tspan dy="1.7">+</tspan></text>
<text x="93.15" y="387.2" font-size="9.2" text-anchor="middle" letter-spacing="0.3">−<tspan font-size="7" dy="-1.7">/</tspan><tspan dy="1.7">−</tspan></text>
<text x="111.95" y="377.5" font-size="9.2" text-anchor="middle" letter-spacing="0.3">−<tspan font-size="7" dy="-1.7">/</tspan><tspan dy="1.7">−</tspan></text>
<text x="111.95" y="387.2" font-size="9.2" text-anchor="middle" letter-spacing="0.3">+<tspan font-size="7" dy="-1.7">/</tspan><tspan dy="1.7">−</tspan></text>
<text x="130.75" y="377.5" font-size="9.2" text-anchor="middle" letter-spacing="0.3">−<tspan font-size="7" dy="-1.7">/</tspan><tspan dy="1.7">−</tspan></text>
<text x="130.75" y="387.2" font-size="9.2" text-anchor="middle" letter-spacing="0.3">−<tspan font-size="7" dy="-1.7">/</tspan><tspan dy="1.7">−</tspan></text>
<text x="0" y="0" font-size="7.3" text-anchor="middle" stroke="#231f20" stroke-width="0.22" transform="translate(17.1 310.8) rotate(-90) scale(0.87 1)">Percent of Ly6C<tspan font-size="4.6" dy="-2.6">+</tspan><tspan dy="2.6"> GMP</tspan></text>
<text x="6.2" y="424.7" font-size="11.6" font-weight="bold">D</text>
<line x1="38.9" y1="488.3" x2="38.9" y2="580.6" stroke="#555557" stroke-width="1.5"/>
<line x1="34.9" y1="580.2" x2="126.6" y2="580.2" stroke="#3a3a3c" stroke-width="1.3"/>
<line x1="36.1" y1="579.8" x2="38.9" y2="579.8" stroke="#58595b" stroke-width="0.9"/>
<text x="33.2" y="582.4" font-size="7.3" text-anchor="end">0</text>
<line x1="36.1" y1="550.6" x2="38.9" y2="550.6" stroke="#58595b" stroke-width="0.9"/>
<text x="33.2" y="553.2" font-size="7.3" text-anchor="end">100</text>
<line x1="36.1" y1="521.4" x2="38.9" y2="521.4" stroke="#58595b" stroke-width="0.9"/>
<text x="33.2" y="524" font-size="7.3" text-anchor="end">200</text>
<line x1="36.1" y1="492.2" x2="38.9" y2="492.2" stroke="#58595b" stroke-width="0.9"/>
<text x="33.2" y="494.8" font-size="7.3" text-anchor="end">300</text>
<line x1="37.4" y1="565.2" x2="38.9" y2="565.2" stroke="#58595b" stroke-width="0.8"/>
<line x1="37.4" y1="536" x2="38.9" y2="536" stroke="#58595b" stroke-width="0.8"/>
<line x1="37.4" y1="506.8" x2="38.9" y2="506.8" stroke="#58595b" stroke-width="0.8"/>
<line x1="49.9" y1="580.2" x2="49.9" y2="582.6" stroke="#3a3a3c" stroke-width="0.9"/>
<line x1="66.3" y1="580.2" x2="66.3" y2="582.6" stroke="#3a3a3c" stroke-width="0.9"/>
<line x1="82.8" y1="580.2" x2="82.8" y2="582.6" stroke="#3a3a3c" stroke-width="0.9"/>
<line x1="99.5" y1="580.2" x2="99.5" y2="582.6" stroke="#3a3a3c" stroke-width="0.9"/>
<line x1="115.8" y1="580.2" x2="115.8" y2="582.6" stroke="#3a3a3c" stroke-width="0.9"/>
<text x="58.2" y="485.8" font-size="7.4">Total colonies</text>
<circle cx="50.1" cy="502.8" r="1.55" fill="#111"/>
<circle cx="50.1" cy="510.4" r="1.55" fill="#111"/>
<circle cx="50.1" cy="517.7" r="1.55" fill="#111"/>
<circle cx="50.1" cy="534.1" r="1.55" fill="#111"/>
<circle cx="50.1" cy="540.3" r="1.55" fill="#111"/>
<circle cx="50.1" cy="544.3" r="1.55" fill="#111"/>
<circle cx="66.3" cy="500.1" r="1.55" fill="#111"/>
<circle cx="66.3" cy="512.1" r="1.55" fill="#111"/>
<circle cx="66.3" cy="518.3" r="1.55" fill="#111"/>
<circle cx="66.3" cy="529.1" r="1.55" fill="#111"/>
<circle cx="66.3" cy="554.2" r="1.55" fill="#111"/>
<circle cx="66.3" cy="561.5" r="1.55" fill="#111"/>
<circle cx="62.4" cy="545.3" r="1.55" fill="#111"/>
<circle cx="70.3" cy="545.3" r="1.55" fill="#111"/>
<circle cx="82.8" cy="525.6" r="1.55" fill="#111"/>
<circle cx="82.8" cy="531.9" r="1.55" fill="#111"/>
<circle cx="82.8" cy="535.5" r="1.55" fill="#111"/>
<circle cx="82.8" cy="553" r="1.55" fill="#111"/>
<circle cx="79.1" cy="562.1" r="1.55" fill="#111"/>
<circle cx="86.6" cy="561.1" r="1.55" fill="#111"/>
<circle cx="99.5" cy="513.7" r="1.55" fill="#111"/>
<circle cx="95.5" cy="529.5" r="1.55" fill="#111"/>
<circle cx="100.4" cy="532.2" r="1.55" fill="#111"/>
<circle cx="103.5" cy="531.9" r="1.55" fill="#111"/>
<circle cx="95.5" cy="533.6" r="1.55" fill="#111"/>
<circle cx="115.6" cy="504.2" r="1.55" fill="#111"/>
<circle cx="115.6" cy="517.3" r="1.55" fill="#111"/>
<circle cx="115.6" cy="550" r="1.55" fill="#111"/>
<circle cx="115.6" cy="559.4" r="1.55" fill="#111"/>
<circle cx="112.3" cy="537" r="1.55" fill="#111"/>
<circle cx="119.5" cy="535.8" r="1.55" fill="#111"/>
<line x1="44.6" y1="524.9" x2="55.6" y2="524.9" stroke="#4d4d4f" stroke-width="1.0"/>
<line x1="50.1" y1="517.7" x2="50.1" y2="531.9" stroke="#4d4d4f" stroke-width="1.0"/>
<line x1="47.4" y1="517.7" x2="52.8" y2="517.7" stroke="#4d4d4f" stroke-width="1.0"/>
<line x1="47.4" y1="531.9" x2="52.8" y2="531.9" stroke="#4d4d4f" stroke-width="1.0"/>
<line x1="60.8" y1="533.2" x2="71.8" y2="533.2" stroke="#4d4d4f" stroke-width="1.0"/>
<line x1="66.3" y1="525.6" x2="66.3" y2="540.7" stroke="#4d4d4f" stroke-width="1.0"/>
<line x1="63.6" y1="525.6" x2="69" y2="525.6" stroke="#4d4d4f" stroke-width="1.0"/>
<line x1="63.6" y1="540.7" x2="69" y2="540.7" stroke="#4d4d4f" stroke-width="1.0"/>
<line x1="77.3" y1="545.1" x2="88.3" y2="545.1" stroke="#4d4d4f" stroke-width="1.0"/>
<line x1="82.8" y1="538.5" x2="82.8" y2="551.3" stroke="#4d4d4f" stroke-width="1.0"/>
<line x1="80.1" y1="538.5" x2="85.5" y2="538.5" stroke="#4d4d4f" stroke-width="1.0"/>
<line x1="80.1" y1="551.3" x2="85.5" y2="551.3" stroke="#4d4d4f" stroke-width="1.0"/>
<line x1="94" y1="528.5" x2="105" y2="528.5" stroke="#4d4d4f" stroke-width="1.0"/>
<line x1="99.5" y1="524.5" x2="99.5" y2="531.9" stroke="#4d4d4f" stroke-width="1.0"/>
<line x1="96.8" y1="524.5" x2="102.2" y2="524.5" stroke="#4d4d4f" stroke-width="1.0"/>
<line x1="96.8" y1="531.9" x2="102.2" y2="531.9" stroke="#4d4d4f" stroke-width="1.0"/>
<line x1="110.1" y1="533.7" x2="121.1" y2="533.7" stroke="#4d4d4f" stroke-width="1.0"/>
<line x1="115.6" y1="525.6" x2="115.6" y2="542.3" stroke="#4d4d4f" stroke-width="1.0"/>
<line x1="112.9" y1="525.6" x2="118.3" y2="525.6" stroke="#4d4d4f" stroke-width="1.0"/>
<line x1="112.9" y1="542.3" x2="118.3" y2="542.3" stroke="#4d4d4f" stroke-width="1.0"/>
<text x="39.5" y="592" font-size="8.3" text-anchor="end" font-style="italic" letter-spacing="0.4">−77</text>
<text x="39.3" y="600.4" font-size="8.3" text-anchor="end" font-style="italic">Irf8</text>
<text x="50.05" y="593.4" font-size="9.2" text-anchor="middle" letter-spacing="0.3">+<tspan font-size="7" dy="-1.7">/</tspan><tspan dy="1.7">+</tspan></text>
<text x="50.05" y="601.9" font-size="9.2" text-anchor="middle" letter-spacing="0.3">+<tspan font-size="7" dy="-1.7">/</tspan><tspan dy="1.7">+</tspan></text>
<text x="66.45" y="593.4" font-size="9.2" text-anchor="middle" letter-spacing="0.3">−<tspan font-size="7" dy="-1.7">/</tspan><tspan dy="1.7">−</tspan></text>
<text x="66.45" y="601.9" font-size="9.2" text-anchor="middle" letter-spacing="0.3">+<tspan font-size="7" dy="-1.7">/</tspan><tspan dy="1.7">+</tspan></text>
<text x="82.95" y="593.4" font-size="9.2" text-anchor="middle" letter-spacing="0.3">+<tspan font-size="7" dy="-1.7">/</tspan><tspan dy="1.7">+</tspan></text>
<text x="82.95" y="601.9" font-size="9.2" text-anchor="middle" letter-spacing="0.3">−<tspan font-size="7" dy="-1.7">/</tspan><tspan dy="1.7">−</tspan></text>
<text x="99.65" y="593.4" font-size="9.2" text-anchor="middle" letter-spacing="0.3">−<tspan font-size="7" dy="-1.7">/</tspan><tspan dy="1.7">−</tspan></text>
<text x="99.65" y="601.9" font-size="9.2" text-anchor="middle" letter-spacing="0.3">+<tspan font-size="7" dy="-1.7">/</tspan><tspan dy="1.7">−</tspan></text>
<text x="115.95" y="593.4" font-size="9.2" text-anchor="middle" letter-spacing="0.3">−<tspan font-size="7" dy="-1.7">/</tspan><tspan dy="1.7">−</tspan></text>
<text x="115.95" y="601.9" font-size="9.2" text-anchor="middle" letter-spacing="0.3">−<tspan font-size="7" dy="-1.7">/</tspan><tspan dy="1.7">−</tspan></text>
<text x="0" y="0" font-size="7.3" text-anchor="middle" stroke="#231f20" stroke-width="0.22" transform="translate(17.1 533.8) rotate(-90) scale(0.88 1)">Colonies per 1200 cells</text>
<line x1="162.2" y1="488.2" x2="162.2" y2="580.6" stroke="#555557" stroke-width="1.5"/>
<line x1="158.2" y1="580.2" x2="249.8" y2="580.2" stroke="#3a3a3c" stroke-width="1.3"/>
<line x1="159.4" y1="579.8" x2="162.2" y2="579.8" stroke="#58595b" stroke-width="0.9"/>
<text x="156.5" y="582.4" font-size="7.3" text-anchor="end">0</text>
<line x1="159.4" y1="557.88" x2="162.2" y2="557.88" stroke="#58595b" stroke-width="0.9"/>
<text x="156.5" y="560.48" font-size="7.3" text-anchor="end">25</text>
<line x1="159.4" y1="535.95" x2="162.2" y2="535.95" stroke="#58595b" stroke-width="0.9"/>
<text x="156.5" y="538.55" font-size="7.3" text-anchor="end">50</text>
<line x1="159.4" y1="514.02" x2="162.2" y2="514.02" stroke="#58595b" stroke-width="0.9"/>
<text x="156.5" y="516.62" font-size="7.3" text-anchor="end">75</text>
<line x1="159.4" y1="492.1" x2="162.2" y2="492.1" stroke="#58595b" stroke-width="0.9"/>
<text x="156.5" y="494.7" font-size="7.3" text-anchor="end">100</text>
<line x1="160.7" y1="568.84" x2="162.2" y2="568.84" stroke="#58595b" stroke-width="0.8"/>
<line x1="160.7" y1="546.91" x2="162.2" y2="546.91" stroke="#58595b" stroke-width="0.8"/>
<line x1="160.7" y1="524.99" x2="162.2" y2="524.99" stroke="#58595b" stroke-width="0.8"/>
<line x1="160.7" y1="503.06" x2="162.2" y2="503.06" stroke="#58595b" stroke-width="0.8"/>
<line x1="173" y1="580.2" x2="173" y2="582.6" stroke="#3a3a3c" stroke-width="0.9"/>
<line x1="189.5" y1="580.2" x2="189.5" y2="582.6" stroke="#3a3a3c" stroke-width="0.9"/>
<line x1="206.1" y1="580.2" x2="206.1" y2="582.6" stroke="#3a3a3c" stroke-width="0.9"/>
<line x1="222.7" y1="580.2" x2="222.7" y2="582.6" stroke="#3a3a3c" stroke-width="0.9"/>
<line x1="239.2" y1="580.2" x2="239.2" y2="582.6" stroke="#3a3a3c" stroke-width="0.9"/>
<text x="191.3" y="430.7" font-size="7.4">CFU-GM</text>
<circle cx="172.8" cy="493.9" r="1.55" fill="#111"/>
<circle cx="172.8" cy="500.4" r="1.55" fill="#111"/>
<circle cx="172.8" cy="507.2" r="1.55" fill="#111"/>
<circle cx="169.2" cy="525.6" r="1.55" fill="#111"/>
<circle cx="169.2" cy="529.8" r="1.55" fill="#111"/>
<circle cx="177" cy="529" r="1.55" fill="#111"/>
<circle cx="189.7" cy="548.5" r="1.55" fill="#111"/>
<circle cx="185.5" cy="559.5" r="1.55" fill="#111"/>
<circle cx="189.1" cy="561.8" r="1.55" fill="#111"/>
<circle cx="193.3" cy="561.6" r="1.55" fill="#111"/>
<circle cx="188.2" cy="565.4" r="1.55" fill="#111"/>
<circle cx="190.1" cy="572.2" r="1.55" fill="#111"/>
<circle cx="186" cy="563" r="1.55" fill="#111"/>
<circle cx="206.2" cy="526.9" r="1.55" fill="#111"/>
<circle cx="203" cy="544.2" r="1.55" fill="#111"/>
<circle cx="208.1" cy="544.2" r="1.55" fill="#111"/>
<circle cx="202.4" cy="561.2" r="1.55" fill="#111"/>
<circle cx="206.2" cy="560.1" r="1.55" fill="#111"/>
<circle cx="210.2" cy="560.1" r="1.55" fill="#111"/>
<circle cx="222.5" cy="544.2" r="1.55" fill="#111"/>
<circle cx="222.5" cy="549.9" r="1.55" fill="#111"/>
<circle cx="222.5" cy="560.1" r="1.55" fill="#111"/>
<circle cx="218.7" cy="569.6" r="1.55" fill="#111"/>
<circle cx="226.3" cy="569" r="1.55" fill="#111"/>
<circle cx="239.4" cy="522.7" r="1.55" fill="#111"/>
<circle cx="239.4" cy="533.2" r="1.55" fill="#111"/>
<circle cx="239.4" cy="555.9" r="1.55" fill="#111"/>
<circle cx="235.2" cy="565" r="1.55" fill="#111"/>
<circle cx="243.2" cy="564.3" r="1.55" fill="#111"/>
<line x1="167.3" y1="514.2" x2="178.3" y2="514.2" stroke="#4d4d4f" stroke-width="1.0"/>
<line x1="172.8" y1="507.2" x2="172.8" y2="521" stroke="#4d4d4f" stroke-width="1.0"/>
<line x1="170.1" y1="507.2" x2="175.5" y2="507.2" stroke="#4d4d4f" stroke-width="1.0"/>
<line x1="170.1" y1="521" x2="175.5" y2="521" stroke="#4d4d4f" stroke-width="1.0"/>
<line x1="184.2" y1="562.2" x2="195.2" y2="562.2" stroke="#4d4d4f" stroke-width="1.0"/>
<line x1="189.7" y1="560.1" x2="189.7" y2="565" stroke="#4d4d4f" stroke-width="1.0"/>
<line x1="187" y1="560.1" x2="192.4" y2="560.1" stroke="#4d4d4f" stroke-width="1.0"/>
<line x1="187" y1="565" x2="192.4" y2="565" stroke="#4d4d4f" stroke-width="1.0"/>
<line x1="200.7" y1="549.5" x2="211.7" y2="549.5" stroke="#4d4d4f" stroke-width="1.0"/>
<line x1="206.2" y1="546.8" x2="206.2" y2="554.4" stroke="#4d4d4f" stroke-width="1.0"/>
<line x1="203.5" y1="546.8" x2="208.9" y2="546.8" stroke="#4d4d4f" stroke-width="1.0"/>
<line x1="203.5" y1="554.4" x2="208.9" y2="554.4" stroke="#4d4d4f" stroke-width="1.0"/>
<line x1="217" y1="558.6" x2="228" y2="558.6" stroke="#4d4d4f" stroke-width="1.0"/>
<line x1="222.5" y1="553.8" x2="222.5" y2="563.7" stroke="#4d4d4f" stroke-width="1.0"/>
<line x1="219.8" y1="553.8" x2="225.2" y2="553.8" stroke="#4d4d4f" stroke-width="1.0"/>
<line x1="219.8" y1="563.7" x2="225.2" y2="563.7" stroke="#4d4d4f" stroke-width="1.0"/>
<line x1="233.9" y1="551" x2="244.9" y2="551" stroke="#4d4d4f" stroke-width="1.0"/>
<line x1="239.4" y1="543.2" x2="239.4" y2="558.6" stroke="#4d4d4f" stroke-width="1.0"/>
<line x1="236.7" y1="543.2" x2="242.1" y2="543.2" stroke="#4d4d4f" stroke-width="1.0"/>
<line x1="236.7" y1="558.6" x2="242.1" y2="558.6" stroke="#4d4d4f" stroke-width="1.0"/>
<text x="162.8" y="592" font-size="8.3" text-anchor="end" font-style="italic" letter-spacing="0.4">−77</text>
<text x="162.6" y="600.4" font-size="8.3" text-anchor="end" font-style="italic">Irf8</text>
<text x="173.15" y="593.4" font-size="9.2" text-anchor="middle" letter-spacing="0.3">+<tspan font-size="7" dy="-1.7">/</tspan><tspan dy="1.7">+</tspan></text>
<text x="173.15" y="601.9" font-size="9.2" text-anchor="middle" letter-spacing="0.3">+<tspan font-size="7" dy="-1.7">/</tspan><tspan dy="1.7">+</tspan></text>
<text x="189.65" y="593.4" font-size="9.2" text-anchor="middle" letter-spacing="0.3">−<tspan font-size="7" dy="-1.7">/</tspan><tspan dy="1.7">−</tspan></text>
<text x="189.65" y="601.9" font-size="9.2" text-anchor="middle" letter-spacing="0.3">+<tspan font-size="7" dy="-1.7">/</tspan><tspan dy="1.7">+</tspan></text>
<text x="206.25" y="593.4" font-size="9.2" text-anchor="middle" letter-spacing="0.3">+<tspan font-size="7" dy="-1.7">/</tspan><tspan dy="1.7">+</tspan></text>
<text x="206.25" y="601.9" font-size="9.2" text-anchor="middle" letter-spacing="0.3">−<tspan font-size="7" dy="-1.7">/</tspan><tspan dy="1.7">−</tspan></text>
<text x="222.85" y="593.4" font-size="9.2" text-anchor="middle" letter-spacing="0.3">−<tspan font-size="7" dy="-1.7">/</tspan><tspan dy="1.7">−</tspan></text>
<text x="222.85" y="601.9" font-size="9.2" text-anchor="middle" letter-spacing="0.3">+<tspan font-size="7" dy="-1.7">/</tspan><tspan dy="1.7">−</tspan></text>
<text x="239.35" y="593.4" font-size="9.2" text-anchor="middle" letter-spacing="0.3">−<tspan font-size="7" dy="-1.7">/</tspan><tspan dy="1.7">−</tspan></text>
<text x="239.35" y="601.9" font-size="9.2" text-anchor="middle" letter-spacing="0.3">−<tspan font-size="7" dy="-1.7">/</tspan><tspan dy="1.7">−</tspan></text>
<line x1="293.3" y1="488.2" x2="293.3" y2="580.6" stroke="#555557" stroke-width="1.5"/>
<line x1="289.3" y1="580.2" x2="379.8" y2="580.2" stroke="#3a3a3c" stroke-width="1.3"/>
<line x1="290.5" y1="579.8" x2="293.3" y2="579.8" stroke="#58595b" stroke-width="0.9"/>
<text x="287.6" y="582.4" font-size="7.3" text-anchor="end">0</text>
<line x1="290.5" y1="562.3" x2="293.3" y2="562.3" stroke="#58595b" stroke-width="0.9"/>
<text x="287.6" y="564.9" font-size="7.3" text-anchor="end">20</text>
<line x1="290.5" y1="544.8" x2="293.3" y2="544.8" stroke="#58595b" stroke-width="0.9"/>
<text x="287.6" y="547.4" font-size="7.3" text-anchor="end">40</text>
<line x1="290.5" y1="527.3" x2="293.3" y2="527.3" stroke="#58595b" stroke-width="0.9"/>
<text x="287.6" y="529.9" font-size="7.3" text-anchor="end">60</text>
<line x1="290.5" y1="509.8" x2="293.3" y2="509.8" stroke="#58595b" stroke-width="0.9"/>
<text x="287.6" y="512.4" font-size="7.3" text-anchor="end">80</text>
<line x1="290.5" y1="492.3" x2="293.3" y2="492.3" stroke="#58595b" stroke-width="0.9"/>
<text x="287.6" y="494.9" font-size="7.3" text-anchor="end">100</text>
<line x1="291.8" y1="571.05" x2="293.3" y2="571.05" stroke="#58595b" stroke-width="0.8"/>
<line x1="291.8" y1="553.55" x2="293.3" y2="553.55" stroke="#58595b" stroke-width="0.8"/>
<line x1="291.8" y1="536.05" x2="293.3" y2="536.05" stroke="#58595b" stroke-width="0.8"/>
<line x1="291.8" y1="518.55" x2="293.3" y2="518.55" stroke="#58595b" stroke-width="0.8"/>
<line x1="291.8" y1="501.05" x2="293.3" y2="501.05" stroke="#58595b" stroke-width="0.8"/>
<line x1="304.1" y1="580.2" x2="304.1" y2="582.6" stroke="#3a3a3c" stroke-width="0.9"/>
<line x1="320.7" y1="580.2" x2="320.7" y2="582.6" stroke="#3a3a3c" stroke-width="0.9"/>
<line x1="337.3" y1="580.2" x2="337.3" y2="582.6" stroke="#3a3a3c" stroke-width="0.9"/>
<line x1="353.8" y1="580.2" x2="353.8" y2="582.6" stroke="#3a3a3c" stroke-width="0.9"/>
<line x1="370.4" y1="580.2" x2="370.4" y2="582.6" stroke="#3a3a3c" stroke-width="0.9"/>
<text x="320.6" y="453.1" font-size="7.4">CFU-G</text>
<circle cx="304.3" cy="502.6" r="1.55" fill="#111"/>
<circle cx="304.3" cy="515.3" r="1.55" fill="#111"/>
<circle cx="304.3" cy="521.4" r="1.55" fill="#111"/>
<circle cx="304.3" cy="527.3" r="1.55" fill="#111"/>
<circle cx="304.3" cy="531.1" r="1.55" fill="#111"/>
<circle cx="304.3" cy="549.1" r="1.55" fill="#111"/>
<circle cx="318" cy="576.5" r="1.55" fill="#111"/>
<circle cx="320.8" cy="575" r="1.55" fill="#111"/>
<circle cx="323.5" cy="576.8" r="1.55" fill="#111"/>
<circle cx="317.5" cy="578" r="1.55" fill="#111"/>
<circle cx="321" cy="578.3" r="1.55" fill="#111"/>
<circle cx="324.5" cy="578.2" r="1.55" fill="#111"/>
<circle cx="322" cy="573.5" r="1.55" fill="#111"/>
<circle cx="337.3" cy="502.6" r="1.55" fill="#111"/>
<circle cx="337.3" cy="510.4" r="1.55" fill="#111"/>
<circle cx="337.3" cy="540.4" r="1.55" fill="#111"/>
<circle cx="337.3" cy="552.3" r="1.55" fill="#111"/>
<circle cx="333.5" cy="558.4" r="1.55" fill="#111"/>
<circle cx="341.3" cy="558.4" r="1.55" fill="#111"/>
<circle cx="350" cy="576" r="1.55" fill="#111"/>
<circle cx="353.6" cy="573.4" r="1.55" fill="#111"/>
<circle cx="357.2" cy="572.2" r="1.55" fill="#111"/>
<circle cx="351.5" cy="574" r="1.55" fill="#111"/>
<circle cx="355.5" cy="575.5" r="1.55" fill="#111"/>
<circle cx="370.5" cy="556.9" r="1.55" fill="#111"/>
<circle cx="366.3" cy="565" r="1.55" fill="#111"/>
<circle cx="373.7" cy="567.1" r="1.55" fill="#111"/>
<circle cx="370.5" cy="569.6" r="1.55" fill="#111"/>
<circle cx="374.1" cy="572.4" r="1.55" fill="#111"/>
<circle cx="369.9" cy="577.7" r="1.55" fill="#111"/>
<line x1="298.8" y1="524.3" x2="309.8" y2="524.3" stroke="#4d4d4f" stroke-width="1.0"/>
<line x1="304.3" y1="518.2" x2="304.3" y2="530.5" stroke="#4d4d4f" stroke-width="1.0"/>
<line x1="301.6" y1="518.2" x2="307" y2="518.2" stroke="#4d4d4f" stroke-width="1.0"/>
<line x1="301.6" y1="530.5" x2="307" y2="530.5" stroke="#4d4d4f" stroke-width="1.0"/>
<line x1="315.3" y1="577.4" x2="326.3" y2="577.4" stroke="#4d4d4f" stroke-width="1.0"/>
<line x1="320.8" y1="575.5" x2="320.8" y2="578.8" stroke="#4d4d4f" stroke-width="1.0"/>
<line x1="318.1" y1="575.5" x2="323.5" y2="575.5" stroke="#4d4d4f" stroke-width="1.0"/>
<line x1="318.1" y1="578.8" x2="323.5" y2="578.8" stroke="#4d4d4f" stroke-width="1.0"/>
<line x1="331.8" y1="536.8" x2="342.8" y2="536.8" stroke="#4d4d4f" stroke-width="1.0"/>
<line x1="337.3" y1="527.3" x2="337.3" y2="547" stroke="#4d4d4f" stroke-width="1.0"/>
<line x1="334.6" y1="527.3" x2="340" y2="527.3" stroke="#4d4d4f" stroke-width="1.0"/>
<line x1="334.6" y1="547" x2="340" y2="547" stroke="#4d4d4f" stroke-width="1.0"/>
<line x1="348.1" y1="573.9" x2="359.1" y2="573.9" stroke="#4d4d4f" stroke-width="1.0"/>
<line x1="353.6" y1="572.4" x2="353.6" y2="575.3" stroke="#4d4d4f" stroke-width="1.0"/>
<line x1="350.9" y1="572.4" x2="356.3" y2="572.4" stroke="#4d4d4f" stroke-width="1.0"/>
<line x1="350.9" y1="575.3" x2="356.3" y2="575.3" stroke="#4d4d4f" stroke-width="1.0"/>
<line x1="365" y1="568.6" x2="376" y2="568.6" stroke="#4d4d4f" stroke-width="1.0"/>
<line x1="370.5" y1="565" x2="370.5" y2="571.3" stroke="#4d4d4f" stroke-width="1.0"/>
<line x1="367.8" y1="565" x2="373.2" y2="565" stroke="#4d4d4f" stroke-width="1.0"/>
<line x1="367.8" y1="571.3" x2="373.2" y2="571.3" stroke="#4d4d4f" stroke-width="1.0"/>
<text x="293.9" y="592" font-size="8.3" text-anchor="end" font-style="italic" letter-spacing="0.4">−77</text>
<text x="293.7" y="600.4" font-size="8.3" text-anchor="end" font-style="italic">Irf8</text>
<text x="304.25" y="593.4" font-size="9.2" text-anchor="middle" letter-spacing="0.3">+<tspan font-size="7" dy="-1.7">/</tspan><tspan dy="1.7">+</tspan></text>
<text x="304.25" y="601.9" font-size="9.2" text-anchor="middle" letter-spacing="0.3">+<tspan font-size="7" dy="-1.7">/</tspan><tspan dy="1.7">+</tspan></text>
<text x="320.85" y="593.4" font-size="9.2" text-anchor="middle" letter-spacing="0.3">−<tspan font-size="7" dy="-1.7">/</tspan><tspan dy="1.7">−</tspan></text>
<text x="320.85" y="601.9" font-size="9.2" text-anchor="middle" letter-spacing="0.3">+<tspan font-size="7" dy="-1.7">/</tspan><tspan dy="1.7">+</tspan></text>
<text x="337.45" y="593.4" font-size="9.2" text-anchor="middle" letter-spacing="0.3">+<tspan font-size="7" dy="-1.7">/</tspan><tspan dy="1.7">+</tspan></text>
<text x="337.45" y="601.9" font-size="9.2" text-anchor="middle" letter-spacing="0.3">−<tspan font-size="7" dy="-1.7">/</tspan><tspan dy="1.7">−</tspan></text>
<text x="353.95" y="593.4" font-size="9.2" text-anchor="middle" letter-spacing="0.3">−<tspan font-size="7" dy="-1.7">/</tspan><tspan dy="1.7">−</tspan></text>
<text x="353.95" y="601.9" font-size="9.2" text-anchor="middle" letter-spacing="0.3">+<tspan font-size="7" dy="-1.7">/</tspan><tspan dy="1.7">−</tspan></text>
<text x="370.55" y="593.4" font-size="9.2" text-anchor="middle" letter-spacing="0.3">−<tspan font-size="7" dy="-1.7">/</tspan><tspan dy="1.7">−</tspan></text>
<text x="370.55" y="601.9" font-size="9.2" text-anchor="middle" letter-spacing="0.3">−<tspan font-size="7" dy="-1.7">/</tspan><tspan dy="1.7">−</tspan></text>
<line x1="423.7" y1="488.2" x2="423.7" y2="580.6" stroke="#555557" stroke-width="1.5"/>
<line x1="419.7" y1="580.2" x2="511.9" y2="580.2" stroke="#3a3a3c" stroke-width="1.3"/>
<line x1="420.9" y1="579.8" x2="423.7" y2="579.8" stroke="#58595b" stroke-width="0.9"/>
<text x="418" y="582.4" font-size="7.3" text-anchor="end">0</text>
<line x1="420.9" y1="562.3" x2="423.7" y2="562.3" stroke="#58595b" stroke-width="0.9"/>
<text x="418" y="564.9" font-size="7.3" text-anchor="end">50</text>
<line x1="420.9" y1="544.8" x2="423.7" y2="544.8" stroke="#58595b" stroke-width="0.9"/>
<text x="418" y="547.4" font-size="7.3" text-anchor="end">100</text>
<line x1="420.9" y1="527.3" x2="423.7" y2="527.3" stroke="#58595b" stroke-width="0.9"/>
<text x="418" y="529.9" font-size="7.3" text-anchor="end">150</text>
<line x1="420.9" y1="509.8" x2="423.7" y2="509.8" stroke="#58595b" stroke-width="0.9"/>
<text x="418" y="512.4" font-size="7.3" text-anchor="end">200</text>
<line x1="420.9" y1="492.3" x2="423.7" y2="492.3" stroke="#58595b" stroke-width="0.9"/>
<text x="418" y="494.9" font-size="7.3" text-anchor="end">250</text>
<line x1="422.2" y1="571.05" x2="423.7" y2="571.05" stroke="#58595b" stroke-width="0.8"/>
<line x1="422.2" y1="553.55" x2="423.7" y2="553.55" stroke="#58595b" stroke-width="0.8"/>
<line x1="422.2" y1="536.05" x2="423.7" y2="536.05" stroke="#58595b" stroke-width="0.8"/>
<line x1="422.2" y1="518.55" x2="423.7" y2="518.55" stroke="#58595b" stroke-width="0.8"/>
<line x1="422.2" y1="501.05" x2="423.7" y2="501.05" stroke="#58595b" stroke-width="0.8"/>
<line x1="435.3" y1="580.2" x2="435.3" y2="582.6" stroke="#3a3a3c" stroke-width="0.9"/>
<line x1="451.5" y1="580.2" x2="451.5" y2="582.6" stroke="#3a3a3c" stroke-width="0.9"/>
<line x1="467.6" y1="580.2" x2="467.6" y2="582.6" stroke="#3a3a3c" stroke-width="0.9"/>
<line x1="483.8" y1="580.2" x2="483.8" y2="582.6" stroke="#3a3a3c" stroke-width="0.9"/>
<line x1="499.9" y1="580.2" x2="499.9" y2="582.6" stroke="#3a3a3c" stroke-width="0.9"/>
<text x="455.5" y="441.9" font-size="7.4">CFU-M</text>
<circle cx="431.3" cy="553.8" r="1.55" fill="#111"/>
<circle cx="434.9" cy="552.3" r="1.55" fill="#111"/>
<circle cx="438.5" cy="554.8" r="1.55" fill="#111"/>
<circle cx="434.9" cy="566.4" r="1.55" fill="#111"/>
<circle cx="431.3" cy="573.4" r="1.55" fill="#111"/>
<circle cx="438.5" cy="570" r="1.55" fill="#111"/>
<circle cx="451.4" cy="499.4" r="1.55" fill="#111"/>
<circle cx="451.4" cy="507.6" r="1.55" fill="#111"/>
<circle cx="451.4" cy="515.3" r="1.55" fill="#111"/>
<circle cx="451.4" cy="524.1" r="1.55" fill="#111"/>
<circle cx="451.4" cy="546.3" r="1.55" fill="#111"/>
<circle cx="451.4" cy="556.9" r="1.55" fill="#111"/>
<circle cx="451.4" cy="563.7" r="1.55" fill="#111"/>
<circle cx="464.1" cy="559.5" r="1.55" fill="#111"/>
<circle cx="471.3" cy="559.5" r="1.55" fill="#111"/>
<circle cx="467.7" cy="563.7" r="1.55" fill="#111"/>
<circle cx="467.7" cy="569.6" r="1.55" fill="#111"/>
<circle cx="464.1" cy="574.3" r="1.55" fill="#111"/>
<circle cx="471.3" cy="573.9" r="1.55" fill="#111"/>
<circle cx="484.6" cy="517.8" r="1.55" fill="#111"/>
<circle cx="480.4" cy="528.4" r="1.55" fill="#111"/>
<circle cx="484.6" cy="529.4" r="1.55" fill="#111"/>
<circle cx="488.4" cy="529.4" r="1.55" fill="#111"/>
<circle cx="484.6" cy="538.3" r="1.55" fill="#111"/>
<circle cx="501.1" cy="521.4" r="1.55" fill="#111"/>
<circle cx="501.1" cy="529.4" r="1.55" fill="#111"/>
<circle cx="501.1" cy="553.8" r="1.55" fill="#111"/>
<circle cx="501.1" cy="563.7" r="1.55" fill="#111"/>
<circle cx="497.7" cy="538.9" r="1.55" fill="#111"/>
<circle cx="504.5" cy="538.9" r="1.55" fill="#111"/>
<line x1="429.4" y1="562.2" x2="440.4" y2="562.2" stroke="#4d4d4f" stroke-width="1.0"/>
<line x1="434.9" y1="558.4" x2="434.9" y2="566" stroke="#4d4d4f" stroke-width="1.0"/>
<line x1="432.2" y1="558.4" x2="437.6" y2="558.4" stroke="#4d4d4f" stroke-width="1.0"/>
<line x1="432.2" y1="566" x2="437.6" y2="566" stroke="#4d4d4f" stroke-width="1.0"/>
<line x1="445.9" y1="532" x2="456.9" y2="532" stroke="#4d4d4f" stroke-width="1.0"/>
<line x1="451.4" y1="523.7" x2="451.4" y2="540.6" stroke="#4d4d4f" stroke-width="1.0"/>
<line x1="448.7" y1="523.7" x2="454.1" y2="523.7" stroke="#4d4d4f" stroke-width="1.0"/>
<line x1="448.7" y1="540.6" x2="454.1" y2="540.6" stroke="#4d4d4f" stroke-width="1.0"/>
<line x1="462.2" y1="566.9" x2="473.2" y2="566.9" stroke="#4d4d4f" stroke-width="1.0"/>
<line x1="467.7" y1="563.9" x2="467.7" y2="569.6" stroke="#4d4d4f" stroke-width="1.0"/>
<line x1="465" y1="563.9" x2="470.4" y2="563.9" stroke="#4d4d4f" stroke-width="1.0"/>
<line x1="465" y1="569.6" x2="470.4" y2="569.6" stroke="#4d4d4f" stroke-width="1.0"/>
<line x1="479.1" y1="527.7" x2="490.1" y2="527.7" stroke="#4d4d4f" stroke-width="1.0"/>
<line x1="484.6" y1="525.2" x2="484.6" y2="532" stroke="#4d4d4f" stroke-width="1.0"/>
<line x1="481.9" y1="525.2" x2="487.3" y2="525.2" stroke="#4d4d4f" stroke-width="1.0"/>
<line x1="481.9" y1="532" x2="487.3" y2="532" stroke="#4d4d4f" stroke-width="1.0"/>
<line x1="495.6" y1="541" x2="506.6" y2="541" stroke="#4d4d4f" stroke-width="1.0"/>
<line x1="501.1" y1="534.7" x2="501.1" y2="547.4" stroke="#4d4d4f" stroke-width="1.0"/>
<line x1="498.4" y1="534.7" x2="503.8" y2="534.7" stroke="#4d4d4f" stroke-width="1.0"/>
<line x1="498.4" y1="547.4" x2="503.8" y2="547.4" stroke="#4d4d4f" stroke-width="1.0"/>
<text x="424.3" y="592" font-size="8.3" text-anchor="end" font-style="italic" letter-spacing="0.4">−77</text>
<text x="424.1" y="600.4" font-size="8.3" text-anchor="end" font-style="italic">Irf8</text>
<text x="435.45" y="593.4" font-size="9.2" text-anchor="middle" letter-spacing="0.3">+<tspan font-size="7" dy="-1.7">/</tspan><tspan dy="1.7">+</tspan></text>
<text x="435.45" y="601.9" font-size="9.2" text-anchor="middle" letter-spacing="0.3">+<tspan font-size="7" dy="-1.7">/</tspan><tspan dy="1.7">+</tspan></text>
<text x="451.65" y="593.4" font-size="9.2" text-anchor="middle" letter-spacing="0.3">−<tspan font-size="7" dy="-1.7">/</tspan><tspan dy="1.7">−</tspan></text>
<text x="451.65" y="601.9" font-size="9.2" text-anchor="middle" letter-spacing="0.3">+<tspan font-size="7" dy="-1.7">/</tspan><tspan dy="1.7">+</tspan></text>
<text x="467.75" y="593.4" font-size="9.2" text-anchor="middle" letter-spacing="0.3">+<tspan font-size="7" dy="-1.7">/</tspan><tspan dy="1.7">+</tspan></text>
<text x="467.75" y="601.9" font-size="9.2" text-anchor="middle" letter-spacing="0.3">−<tspan font-size="7" dy="-1.7">/</tspan><tspan dy="1.7">−</tspan></text>
<text x="483.95" y="593.4" font-size="9.2" text-anchor="middle" letter-spacing="0.3">−<tspan font-size="7" dy="-1.7">/</tspan><tspan dy="1.7">−</tspan></text>
<text x="483.95" y="601.9" font-size="9.2" text-anchor="middle" letter-spacing="0.3">+<tspan font-size="7" dy="-1.7">/</tspan><tspan dy="1.7">−</tspan></text>
<text x="500.05" y="593.4" font-size="9.2" text-anchor="middle" letter-spacing="0.3">−<tspan font-size="7" dy="-1.7">/</tspan><tspan dy="1.7">−</tspan></text>
<text x="500.05" y="601.9" font-size="9.2" text-anchor="middle" letter-spacing="0.3">−<tspan font-size="7" dy="-1.7">/</tspan><tspan dy="1.7">−</tspan></text>
<polyline points="172.7,444.4 172.7,441.7 239.4,441.7 239.4,444.4" fill="none" stroke="#4d4d4f" stroke-width="0.9"/>
<text x="205.8" y="441.4" font-size="7.8" text-anchor="middle">**</text>
<polyline points="172.7,458.1 172.7,455.6 222.7,455.6 222.7,458.1" fill="none" stroke="#4d4d4f" stroke-width="0.9"/>
<text x="199.6" y="454.4" font-size="7.8" text-anchor="middle">***</text>
<polyline points="172.7,472.4 172.7,470 206.3,470 206.3,472.4" fill="none" stroke="#4d4d4f" stroke-width="0.9"/>
<text x="190.4" y="469" font-size="7.8" text-anchor="middle">**</text>
<polyline points="172.7,487.7 172.7,485 189.8,485 189.8,487.7" fill="none" stroke="#4d4d4f" stroke-width="0.9"/>
<text x="180.8" y="484.6" font-size="7.8" text-anchor="middle">***</text>
<polyline points="304,466.3 304,463.9 360.4,463.9 360.4,466.8" fill="none" stroke="#4d4d4f" stroke-width="0.9"/>
<line x1="349.5" y1="466.8" x2="372.9" y2="466.8" stroke="#4d4d4f" stroke-width="0.9"/>
<text x="332.2" y="464.2" font-size="7.8" text-anchor="middle">***</text>
<polyline points="320.1,479.5 320.1,477.2 360.8,477.2 360.8,480.2" fill="none" stroke="#4d4d4f" stroke-width="0.9"/>
<line x1="349.5" y1="480.2" x2="372.9" y2="480.2" stroke="#4d4d4f" stroke-width="0.9"/>
<text x="340.9" y="477.1" font-size="7.8" text-anchor="middle">*</text>
<polyline points="304,495.4 304,492.8 361.6,492.8 361.6,495.4" fill="none" stroke="#4d4d4f" stroke-width="0.9"/>
<line x1="320.6" y1="492.8" x2="320.6" y2="495.4" stroke="#4d4d4f" stroke-width="0.9"/>
<line x1="337.4" y1="492.8" x2="337.4" y2="495.4" stroke="#4d4d4f" stroke-width="0.9"/>
<line x1="350" y1="495.4" x2="373.7" y2="495.4" stroke="#4d4d4f" stroke-width="0.9"/>
<text x="311.8" y="493.1" font-size="7.8" text-anchor="middle">***</text>
<text x="329.3" y="493.1" font-size="7.8" text-anchor="middle">*</text>
<text x="349.5" y="493.1" font-size="7.8" text-anchor="middle">*</text>
<polyline points="435.9,455.6 435.9,453.4 498.2,453.4 498.2,455.6" fill="none" stroke="#4d4d4f" stroke-width="0.9"/>
<text x="467.1" y="452.4" font-size="7.8" text-anchor="middle">*</text>
<polyline points="435.9,468.4 435.9,466.3 482.7,466.3 482.7,468.4" fill="none" stroke="#4d4d4f" stroke-width="0.9"/>
<text x="458.9" y="465.4" font-size="7.8" text-anchor="middle">***</text>
<polyline points="467.1,481.4 467.1,479 482.7,479 482.7,481.4" fill="none" stroke="#4d4d4f" stroke-width="0.9"/>
<text x="475" y="478.7" font-size="7.8" text-anchor="middle">****</text>
<polyline points="435.9,494 435.9,491.4 498.2,491.4 498.2,494" fill="none" stroke="#4d4d4f" stroke-width="0.9"/>
<line x1="451.5" y1="491.4" x2="451.5" y2="494" stroke="#4d4d4f" stroke-width="0.9"/>
<line x1="467.1" y1="491.4" x2="467.1" y2="494" stroke="#4d4d4f" stroke-width="0.9"/>
<text x="442.5" y="490.5" font-size="7.8" text-anchor="middle">**</text>
<text x="459.5" y="490.5" font-size="7.8" text-anchor="middle">**</text>
<text x="484.4" y="490.5" font-size="7.8" text-anchor="middle">**</text>
<rect x="0.5" y="0.5" width="519" height="606" fill="none" stroke="#151515" stroke-width="1.0"/></svg></body></html>
